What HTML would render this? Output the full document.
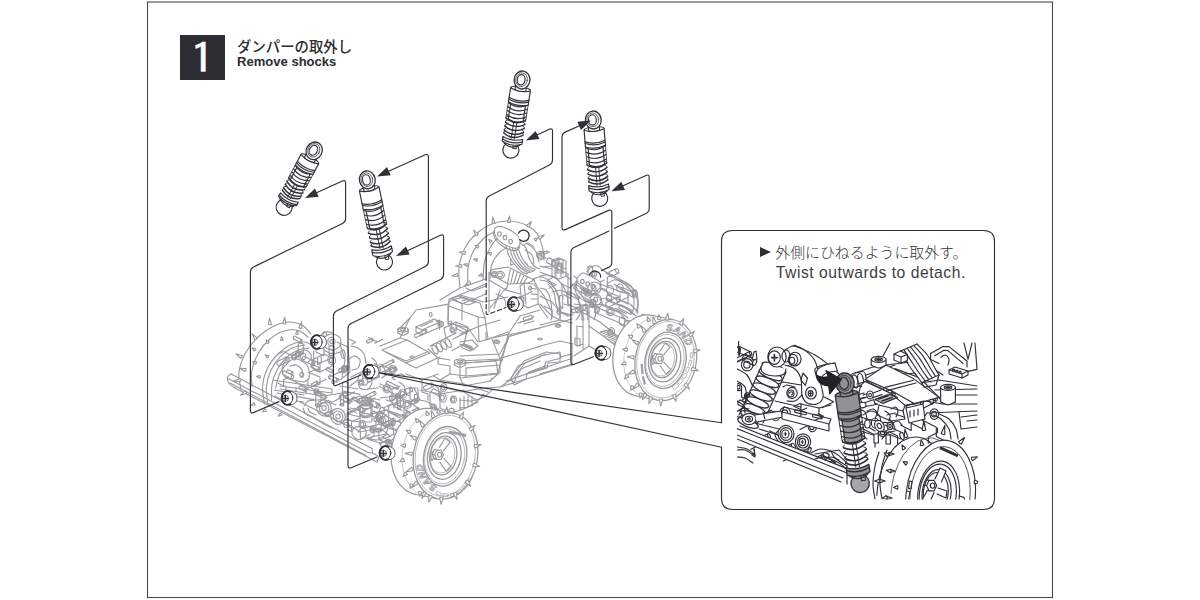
<!DOCTYPE html>
<html lang="ja"><head><meta charset="utf-8"><title>Remove shocks</title>
<style>
html,body{margin:0;padding:0;background:#fff;}
body{width:1200px;height:600px;position:relative;overflow:hidden;font-family:"Liberation Sans","Noto Sans CJK JP",sans-serif;color:#2c2c31;}
.num{position:absolute;left:180px;top:35px;width:45px;height:44.5px;background:#2d2d33;color:#fff;font-size:41px;line-height:44px;text-align:center;}
.num span{position:absolute;left:0;width:45px;top:0.7px;font-family:"IPAGothic","Liberation Sans",sans-serif;font-size:42.5px;-webkit-text-stroke:0.3px #fff;transform:scaleX(1.22);transform-origin:50% 50%;}
.t1{position:absolute;left:237px;top:37.3px;font-size:14.4px;line-height:20px;font-weight:500;white-space:nowrap;color:#2c2c31;}
.t2{position:absolute;left:237px;top:52.6px;font-size:13.05px;line-height:18px;font-weight:700;white-space:nowrap;color:#2c2c31;}
.n1{position:absolute;left:775.3px;top:242.2px;font-size:14.9px;line-height:22px;font-weight:300;white-space:nowrap;color:#333338;}
.n2{position:absolute;left:775.8px;top:262.1px;font-size:15.7px;line-height:22px;font-weight:400;white-space:nowrap;color:#3d3d43;letter-spacing:0.52px;}
.tri{position:absolute;left:760px;top:246.5px;width:0;height:0;border-left:11.5px solid #2c2c31;border-top:5px solid transparent;border-bottom:5px solid transparent;}
</style></head>
<body>
<svg width="1200" height="600" viewBox="0 0 1200 600" style="position:absolute;left:0;top:0">
<rect x="147.5" y="2" width="905" height="595.5" fill="#fff" stroke="#4a4a52" stroke-width="1.1"/>
<g id="car" fill="none" stroke="#98989d" stroke-width="1.1" stroke-linecap="round" stroke-linejoin="round">
<path d="M312.9,386.1 L317.9,383.6"/>
<path d="M311.8,383.8 L316.7,381.3"/>
<ellipse cx="317.3" cy="382.5" rx="0.7" ry="1.3" transform="rotate(-26.5 317.3 382.5)"/>
<path d="M312.9,386.1 C312.9,386.1 312.9,386.1 312.8,386.1 C312.7,386.1 312.7,386.1 312.6,386.1 C312.5,386.1 312.6,386.1 312.5,386.0 C312.3,386.0 312.4,386.0 312.3,385.9 C312.2,385.8 312.2,385.9 312.1,385.8 C312.0,385.6 312.0,385.7 311.9,385.6 C311.8,385.4 311.9,385.5 311.8,385.4 C311.7,385.2 311.7,385.3 311.7,385.1 C311.6,385.0 311.6,385.0 311.6,384.9 C311.5,384.7 311.6,384.8 311.5,384.6 C311.5,384.5 311.5,384.5 311.5,384.4 C311.5,384.2 311.5,384.3 311.5,384.2 C311.6,384.1 311.5,384.1 311.6,384.0 C311.6,383.9 311.6,384.0 311.7,383.9 C311.8,383.8 311.8,383.8 311.8,383.8"/>
<path d="M346.9,414.7 L355.9,410.2 L347.7,414.2"/>
<ellipse cx="386.6" cy="388.7" rx="3.5" ry="4.1" transform="rotate(-15 386.6 388.7)"/>
<ellipse cx="386.3" cy="388.7" rx="1.9" ry="2.3"/>
<path d="M386.0,375.2 L396.8,369.8"/>
<path d="M384.8,372.7 L395.5,367.3"/>
<ellipse cx="396.1" cy="368.6" rx="0.8" ry="1.4" transform="rotate(-26.5 396.1 368.6)"/>
<path d="M386.0,375.2 C385.9,375.2 386.0,375.2 385.8,375.2 C385.7,375.2 385.8,375.2 385.7,375.2 C385.5,375.2 385.6,375.2 385.5,375.2 C385.3,375.1 385.4,375.1 385.3,375.0 C385.1,374.9 385.2,375.0 385.1,374.9 C385.0,374.7 385.0,374.8 384.9,374.7 C384.8,374.5 384.8,374.6 384.7,374.4 C384.6,374.2 384.7,374.3 384.6,374.2 C384.5,374.0 384.6,374.1 384.5,373.9 C384.5,373.7 384.5,373.8 384.5,373.6 C384.4,373.4 384.4,373.5 384.4,373.4 C384.4,373.2 384.4,373.3 384.5,373.1 C384.5,373.0 384.5,373.1 384.5,372.9 C384.6,372.8 384.5,372.9 384.6,372.8 C384.7,372.7 384.7,372.7 384.8,372.7"/>
<path d="M298.3,344.8 L298.3,353.2"/>
<path d="M303.3,344.8 L303.3,353.2"/>
<ellipse cx="300.8" cy="353.2" rx="1.4" ry="2.5" transform="rotate(90.0 300.8 353.2)"/>
<path d="M298.3,344.8 C298.3,344.7 298.2,344.7 298.3,344.5 C298.4,344.3 298.3,344.4 298.5,344.2 C298.6,344.1 298.5,344.2 298.7,344.0 C298.9,343.8 298.8,343.9 299.1,343.8 C299.3,343.6 299.2,343.7 299.5,343.6 C299.8,343.5 299.7,343.5 300.0,343.5 C300.3,343.4 300.2,343.4 300.5,343.4 C300.8,343.4 300.7,343.4 301.0,343.4 C301.4,343.4 301.2,343.4 301.5,343.5 C301.9,343.5 301.7,343.5 302.0,343.6 C302.3,343.7 302.2,343.6 302.4,343.8 C302.7,343.9 302.6,343.8 302.8,344.0 C303.0,344.2 302.9,344.1 303.0,344.2 C303.2,344.4 303.1,344.3 303.2,344.5 C303.3,344.7 303.2,344.7 303.3,344.8"/>
<ellipse cx="361.2" cy="382.6" rx="2.6" ry="2.7"/>
<ellipse cx="360.9" cy="382.6" rx="1.5" ry="1.5"/>
<path d="M374.6,343.3 L382.6,339.3 L377.5,341.9 L368.7,337.4"/>
<ellipse cx="392.5" cy="369.5" rx="3.7" ry="3.9"/>
<ellipse cx="392.2" cy="369.5" rx="2.1" ry="2.1"/>
<path d="M361.3,411.9 L372.1,406.5"/>
<path d="M358.9,407.0 L369.7,401.6"/>
<ellipse cx="370.9" cy="404.0" rx="1.5" ry="2.7" transform="rotate(-26.5 370.9 404.0)"/>
<path d="M361.3,411.9 C361.2,411.9 361.2,411.9 361.0,411.9 C360.8,412.0 360.9,412.0 360.7,411.9 C360.4,411.9 360.5,411.9 360.3,411.8 C360.0,411.7 360.1,411.7 359.9,411.6 C359.6,411.4 359.8,411.5 359.5,411.2 C359.3,411.0 359.4,411.1 359.2,410.8 C359.0,410.5 359.1,410.7 358.9,410.4 C358.7,410.0 358.8,410.2 358.6,409.8 C358.5,409.5 358.5,409.7 358.4,409.3 C358.3,409.0 358.4,409.1 358.3,408.8 C358.3,408.5 358.3,408.6 358.3,408.3 C358.3,408.0 358.3,408.1 358.3,407.9 C358.4,407.6 358.3,407.7 358.4,407.5 C358.5,407.2 358.5,407.3 358.6,407.2 C358.8,407.0 358.8,407.1 358.9,407.0"/>
<ellipse cx="324.7" cy="334.2" rx="1.9" ry="2.3" transform="rotate(-15 324.7 334.2)"/>
<path d="M315.8,392.8 L315.8,405.4"/>
<path d="M320.9,392.8 L320.9,405.4"/>
<ellipse cx="318.3" cy="405.4" rx="1.5" ry="2.6" transform="rotate(90.0 318.3 405.4)"/>
<path d="M315.8,392.8 C315.8,392.7 315.7,392.7 315.8,392.5 C315.9,392.3 315.8,392.4 316.0,392.2 C316.1,392.0 316.0,392.1 316.2,391.9 C316.5,391.8 316.3,391.8 316.6,391.7 C316.9,391.6 316.7,391.6 317.0,391.5 C317.4,391.4 317.2,391.5 317.5,391.4 C317.9,391.3 317.7,391.4 318.1,391.3 C318.4,391.3 318.3,391.3 318.6,391.3 C319.0,391.4 318.8,391.3 319.1,391.4 C319.5,391.5 319.3,391.4 319.6,391.5 C320.0,391.6 319.8,391.6 320.1,391.7 C320.3,391.8 320.2,391.8 320.4,391.9 C320.7,392.1 320.6,392.0 320.7,392.2 C320.9,392.4 320.8,392.3 320.9,392.5 C321.0,392.7 320.9,392.7 320.9,392.8"/>
<path d="M334.1,374.8 L341.4,371.2 L335.4,374.2 L329.3,377.2"/>
<path d="M317.6,358.1 L317.6,364.4 L321.2,362.7 L321.2,356.5"/>
<path d="M407.1,393.8 L412.1,391.3"/>
<path d="M405.1,389.7 L410.0,387.3"/>
<ellipse cx="411.0" cy="389.3" rx="1.3" ry="2.3" transform="rotate(-26.5 411.0 389.3)"/>
<path d="M407.1,393.8 C407.1,393.8 407.1,393.8 406.9,393.9 C406.7,393.9 406.8,393.9 406.6,393.8 C406.4,393.8 406.5,393.8 406.3,393.7 C406.1,393.6 406.2,393.7 406.0,393.5 C405.8,393.4 405.9,393.5 405.7,393.3 C405.5,393.1 405.6,393.2 405.4,392.9 C405.2,392.7 405.3,392.8 405.1,392.5 C405.0,392.3 405.0,392.4 404.9,392.1 C404.8,391.8 404.8,392.0 404.7,391.7 C404.7,391.4 404.7,391.5 404.7,391.2 C404.6,391.0 404.6,391.1 404.6,390.8 C404.6,390.6 404.6,390.7 404.7,390.5 C404.7,390.2 404.7,390.3 404.8,390.1 C404.8,390.0 404.8,390.0 404.9,389.9 C405.0,389.8 405.1,389.8 405.1,389.7"/>
<path d="M342.5,383.3 L342.5,394.4"/>
<path d="M347.5,383.3 L347.5,394.4"/>
<ellipse cx="345.0" cy="394.4" rx="1.4" ry="2.5" transform="rotate(90.0 345.0 394.4)"/>
<path d="M342.5,383.3 C342.5,383.2 342.4,383.2 342.5,383.0 C342.6,382.8 342.5,382.9 342.7,382.7 C342.8,382.5 342.7,382.6 342.9,382.5 C343.1,382.3 343.0,382.4 343.3,382.2 C343.5,382.1 343.4,382.2 343.7,382.1 C344.0,382.0 343.9,382.0 344.2,382.0 C344.5,381.9 344.4,381.9 344.7,381.9 C345.1,381.9 344.9,381.9 345.2,381.9 C345.6,381.9 345.4,381.9 345.7,382.0 C346.1,382.0 345.9,382.0 346.2,382.1 C346.5,382.2 346.4,382.1 346.7,382.2 C346.9,382.4 346.8,382.3 347.0,382.5 C347.2,382.6 347.1,382.5 347.3,382.7 C347.4,382.9 347.4,382.8 347.4,383.0 C347.5,383.2 347.5,383.2 347.5,383.3"/>
<path d="M414.5,395.0 L414.5,401.9"/>
<path d="M417.6,395.0 L417.6,401.9"/>
<ellipse cx="416.0" cy="401.9" rx="0.9" ry="1.5" transform="rotate(90.0 416.0 401.9)"/>
<path d="M414.5,395.0 C414.5,395.0 414.5,395.0 414.6,394.8 C414.6,394.7 414.6,394.8 414.7,394.7 C414.7,394.6 414.7,394.6 414.8,394.5 C414.9,394.4 414.9,394.5 415.0,394.4 C415.2,394.3 415.1,394.3 415.3,394.3 C415.5,394.2 415.4,394.2 415.6,394.2 C415.8,394.2 415.7,394.2 415.9,394.2 C416.1,394.2 416.0,394.2 416.2,394.2 C416.4,394.2 416.3,394.2 416.5,394.2 C416.7,394.2 416.6,394.2 416.8,394.3 C417.0,394.3 416.9,394.3 417.1,394.4 C417.2,394.5 417.2,394.4 417.3,394.5 C417.4,394.6 417.4,394.6 417.4,394.7 C417.5,394.8 417.5,394.7 417.5,394.8 C417.6,395.0 417.6,395.0 417.6,395.0"/>
<path d="M340.5,394.8 L340.5,405.2"/>
<path d="M343.6,394.8 L343.6,405.2"/>
<ellipse cx="342.1" cy="405.2" rx="0.9" ry="1.6" transform="rotate(90.0 342.1 405.2)"/>
<path d="M340.5,394.8 C340.5,394.7 340.5,394.7 340.5,394.6 C340.6,394.5 340.5,394.5 340.6,394.4 C340.7,394.3 340.6,394.4 340.8,394.3 C340.9,394.2 340.8,394.2 341.0,394.1 C341.2,394.1 341.1,394.1 341.3,394.0 C341.5,394.0 341.4,394.0 341.6,394.0 C341.8,393.9 341.7,393.9 341.9,393.9 C342.1,393.9 342.0,393.9 342.2,393.9 C342.4,393.9 342.3,393.9 342.6,394.0 C342.8,394.0 342.7,394.0 342.9,394.0 C343.0,394.1 343.0,394.1 343.1,394.1 C343.3,394.2 343.2,394.2 343.3,394.3 C343.5,394.4 343.4,394.3 343.5,394.4 C343.6,394.5 343.6,394.5 343.6,394.6 C343.7,394.7 343.6,394.7 343.6,394.8"/>
<path d="M312.1,386.3 L317.3,383.6 L326.3,379.2"/>
<path d="M327.0,416.6 L332.4,413.9"/>
<path d="M325.5,413.6 L330.9,410.9"/>
<ellipse cx="331.6" cy="412.4" rx="0.9" ry="1.7" transform="rotate(-26.5 331.6 412.4)"/>
<path d="M327.0,416.6 C326.9,416.6 326.9,416.7 326.8,416.7 C326.7,416.7 326.7,416.7 326.6,416.7 C326.4,416.6 326.5,416.7 326.3,416.6 C326.2,416.5 326.3,416.5 326.1,416.4 C326.0,416.3 326.0,416.4 325.9,416.2 C325.7,416.1 325.8,416.2 325.7,416.0 C325.5,415.8 325.6,415.9 325.5,415.7 C325.4,415.5 325.4,415.6 325.3,415.4 C325.2,415.2 325.3,415.3 325.2,415.0 C325.1,414.8 325.2,414.9 325.1,414.7 C325.1,414.5 325.1,414.6 325.1,414.4 C325.1,414.2 325.1,414.3 325.1,414.1 C325.2,414.0 325.1,414.0 325.2,413.9 C325.3,413.8 325.2,413.8 325.3,413.7 C325.4,413.6 325.4,413.6 325.5,413.6"/>
<path d="M326.4,369.9 L332.0,372.7"/>
<path d="M327.6,367.7 L333.2,370.5"/>
<ellipse cx="332.6" cy="371.6" rx="0.7" ry="1.3" transform="rotate(26.5 332.6 371.6)"/>
<path d="M326.4,369.9 C326.4,369.9 326.4,369.9 326.3,369.8 C326.3,369.8 326.3,369.8 326.2,369.7 C326.2,369.6 326.2,369.7 326.2,369.5 C326.2,369.4 326.2,369.5 326.2,369.3 C326.2,369.2 326.2,369.2 326.2,369.1 C326.2,368.9 326.2,369.0 326.2,368.8 C326.3,368.7 326.2,368.8 326.3,368.6 C326.4,368.4 326.3,368.5 326.4,368.4 C326.5,368.2 326.5,368.3 326.6,368.2 C326.7,368.0 326.6,368.1 326.7,368.0 C326.8,367.9 326.8,367.9 326.9,367.8 C327.0,367.7 327.0,367.8 327.1,367.7 C327.2,367.6 327.1,367.7 327.3,367.6 C327.4,367.6 327.3,367.6 327.4,367.6 C327.5,367.6 327.5,367.7 327.6,367.7"/>
<ellipse cx="397.5" cy="396.3" rx="2.1" ry="2.7"/>
<ellipse cx="397.2" cy="396.3" rx="1.1" ry="1.5"/>
<path d="M298.6,351.9 L291.6,355.4 L283.4,351.4 L278.7,353.7"/>
<path d="M293.5,338.9 L300.5,342.4"/>
<path d="M294.9,336.2 L301.9,339.7"/>
<ellipse cx="301.2" cy="341.0" rx="0.9" ry="1.5" transform="rotate(26.5 301.2 341.0)"/>
<path d="M293.5,338.9 C293.4,338.9 293.4,338.9 293.3,338.8 C293.3,338.7 293.3,338.8 293.2,338.7 C293.2,338.5 293.2,338.6 293.2,338.4 C293.1,338.3 293.1,338.4 293.1,338.2 C293.1,338.0 293.1,338.1 293.2,337.9 C293.2,337.7 293.2,337.8 293.2,337.6 C293.3,337.4 293.3,337.5 293.3,337.3 C293.4,337.1 293.4,337.2 293.5,337.0 C293.6,336.8 293.5,336.9 293.7,336.8 C293.8,336.6 293.7,336.7 293.9,336.5 C294.0,336.4 293.9,336.4 294.1,336.3 C294.2,336.2 294.1,336.3 294.3,336.2 C294.4,336.1 294.4,336.2 294.5,336.1 C294.6,336.1 294.6,336.1 294.7,336.1 C294.8,336.1 294.8,336.1 294.9,336.2"/>
<path d="M355.8,412.6 L348.4,408.9 L356.6,413.0"/>
<ellipse cx="316.3" cy="391.5" rx="2.5" ry="2.7"/>
<ellipse cx="316.0" cy="391.5" rx="1.4" ry="1.5"/>
<path d="M288.9,377.2 L283.6,379.8 L283.6,385.9 L278.1,383.2"/>
<path d="M302.3,360.2 L312.5,365.3"/>
<path d="M304.2,356.4 L314.4,361.5"/>
<ellipse cx="313.5" cy="363.4" rx="1.2" ry="2.1" transform="rotate(26.5 313.5 363.4)"/>
<path d="M302.3,360.2 C302.3,360.1 302.3,360.2 302.1,360.0 C302.0,359.9 302.1,360.0 302.0,359.8 C301.9,359.6 301.9,359.7 301.9,359.5 C301.9,359.3 301.9,359.4 301.9,359.2 C301.9,358.9 301.9,359.1 301.9,358.8 C301.9,358.5 301.9,358.7 302.0,358.4 C302.1,358.1 302.0,358.3 302.1,358.0 C302.3,357.7 302.2,357.8 302.3,357.6 C302.5,357.3 302.4,357.5 302.6,357.2 C302.7,357.0 302.7,357.1 302.8,356.9 C303.0,356.7 302.9,356.8 303.1,356.7 C303.3,356.5 303.2,356.6 303.4,356.5 C303.6,356.4 303.5,356.4 303.7,356.4 C303.9,356.3 303.8,356.4 304.0,356.4 C304.2,356.4 304.1,356.4 304.2,356.4"/>
<path d="M282.6,374.3 L291.5,378.8"/>
<path d="M284.3,370.9 L293.2,375.4"/>
<ellipse cx="292.4" cy="377.1" rx="1.1" ry="1.9" transform="rotate(26.5 292.4 377.1)"/>
<path d="M282.6,374.3 C282.6,374.3 282.5,374.3 282.4,374.2 C282.3,374.1 282.4,374.1 282.3,374.0 C282.2,373.8 282.3,373.9 282.2,373.7 C282.2,373.5 282.2,373.6 282.2,373.4 C282.2,373.2 282.2,373.3 282.2,373.1 C282.3,372.8 282.2,372.9 282.3,372.7 C282.4,372.4 282.3,372.6 282.4,372.3 C282.5,372.1 282.5,372.2 282.6,372.0 C282.7,371.7 282.7,371.8 282.8,371.6 C283.0,371.4 282.9,371.5 283.1,371.4 C283.2,371.2 283.1,371.3 283.3,371.1 C283.5,371.0 283.4,371.1 283.6,371.0 C283.8,370.9 283.7,370.9 283.8,370.9 C284.0,370.8 283.9,370.8 284.1,370.9 C284.2,370.9 284.2,370.9 284.3,370.9"/>
<path d="M328.8,378.1 L336.6,382.0"/>
<path d="M330.2,375.2 L338.0,379.1"/>
<ellipse cx="337.3" cy="380.5" rx="0.9" ry="1.6" transform="rotate(26.5 337.3 380.5)"/>
<path d="M328.8,378.1 C328.7,378.1 328.7,378.1 328.6,378.0 C328.5,377.9 328.6,377.9 328.5,377.8 C328.5,377.7 328.5,377.8 328.4,377.6 C328.4,377.4 328.4,377.5 328.4,377.3 C328.4,377.1 328.4,377.2 328.4,377.0 C328.5,376.8 328.5,376.9 328.5,376.7 C328.6,376.5 328.5,376.6 328.6,376.4 C328.7,376.2 328.7,376.3 328.8,376.1 C328.9,375.9 328.8,376.0 329.0,375.8 C329.1,375.6 329.0,375.7 329.2,375.6 C329.3,375.4 329.2,375.5 329.4,375.4 C329.5,375.3 329.5,375.3 329.6,375.2 C329.8,375.2 329.7,375.2 329.8,375.2 C330.0,375.1 329.9,375.1 330.0,375.2 C330.2,375.2 330.2,375.2 330.2,375.2"/>
<path d="M352.7,399.5 L358.1,402.2"/>
<path d="M353.8,397.2 L359.2,399.9"/>
<ellipse cx="358.6" cy="401.0" rx="0.7" ry="1.3" transform="rotate(26.5 358.6 401.0)"/>
<path d="M352.7,399.5 C352.6,399.5 352.6,399.5 352.5,399.4 C352.5,399.3 352.5,399.4 352.5,399.3 C352.4,399.2 352.4,399.2 352.4,399.1 C352.4,399.0 352.4,399.0 352.4,398.9 C352.4,398.7 352.4,398.8 352.4,398.6 C352.4,398.5 352.4,398.6 352.4,398.4 C352.5,398.2 352.5,398.3 352.5,398.1 C352.6,398.0 352.6,398.1 352.7,397.9 C352.7,397.7 352.7,397.8 352.8,397.7 C352.9,397.5 352.9,397.6 353.0,397.5 C353.1,397.4 353.0,397.4 353.1,397.3 C353.3,397.2 353.2,397.3 353.3,397.2 C353.4,397.2 353.4,397.2 353.5,397.2 C353.6,397.1 353.6,397.1 353.7,397.1 C353.8,397.2 353.8,397.2 353.8,397.2"/>
<path d="M359.2,418.3 L351.5,422.1 L351.5,431.6 L347.4,429.6"/>
<path d="M371.5,415.6 L376.2,418.0"/>
<path d="M373.7,411.3 L378.4,413.7"/>
<ellipse cx="377.3" cy="415.8" rx="1.3" ry="2.4" transform="rotate(26.5 377.3 415.8)"/>
<path d="M371.5,415.6 C371.4,415.5 371.4,415.6 371.3,415.4 C371.2,415.3 371.2,415.4 371.1,415.2 C371.0,415.0 371.1,415.1 371.0,414.8 C371.0,414.6 371.0,414.7 371.0,414.4 C371.0,414.2 371.0,414.3 371.0,414.0 C371.0,413.7 371.0,413.9 371.1,413.5 C371.2,413.2 371.1,413.4 371.3,413.1 C371.4,412.8 371.3,412.9 371.5,412.6 C371.7,412.3 371.6,412.5 371.8,412.2 C372.0,412.0 371.9,412.1 372.1,411.9 C372.3,411.6 372.2,411.7 372.4,411.6 C372.6,411.4 372.5,411.5 372.7,411.4 C373.0,411.3 372.9,411.3 373.1,411.2 C373.3,411.2 373.2,411.2 373.4,411.2 C373.6,411.2 373.6,411.3 373.7,411.3"/>
<path d="M352.6,401.8 L343.6,397.3 L348.4,395.0 L354.5,391.9"/>
<path d="M375.9,421.2 L375.9,430.6"/>
<path d="M381.3,421.2 L381.3,430.6"/>
<ellipse cx="378.6" cy="430.6" rx="1.5" ry="2.7" transform="rotate(90.0 378.6 430.6)"/>
<path d="M375.9,421.2 C375.9,421.1 375.9,421.1 376.0,420.9 C376.1,420.7 376.0,420.8 376.1,420.6 C376.3,420.4 376.2,420.5 376.4,420.3 C376.7,420.1 376.5,420.2 376.8,420.1 C377.1,419.9 376.9,420.0 377.3,419.9 C377.6,419.8 377.4,419.8 377.8,419.8 C378.1,419.7 378.0,419.7 378.3,419.7 C378.7,419.7 378.5,419.7 378.9,419.7 C379.3,419.7 379.1,419.7 379.4,419.8 C379.8,419.8 379.6,419.8 380.0,419.9 C380.3,420.0 380.1,419.9 380.4,420.1 C380.7,420.2 380.6,420.1 380.8,420.3 C381.0,420.5 380.9,420.4 381.1,420.6 C381.2,420.8 381.2,420.7 381.3,420.9 C381.3,421.1 381.3,421.1 381.3,421.2"/>
<path d="M333.8,350.9 L329.6,348.9 L333.8,351.0"/>
<path d="M350.7,377.3 L355.6,374.8 L362.7,371.3 L362.7,381.2"/>
<path d="M356.2,408.6 L347.1,413.2 L347.1,418.7 L351.4,420.8"/>
<ellipse cx="331.7" cy="360.1" rx="3.8" ry="4.5" transform="rotate(-15 331.7 360.1)"/>
<ellipse cx="331.4" cy="360.1" rx="2.1" ry="2.5"/>
<path d="M310.4,387.5 L319.3,392.0 L325.5,395.1"/>
<path d="M313.7,350.9 L313.7,361.1 L313.7,366.0"/>
<ellipse cx="379.3" cy="417.0" rx="3.3" ry="4.1" transform="rotate(10 379.3 417.0)"/>
<ellipse cx="379.0" cy="417.0" rx="1.8" ry="2.3"/>
<ellipse cx="298.3" cy="354.0" rx="2.8" ry="3.0" transform="rotate(10 298.3 354.0)"/>
<ellipse cx="298.0" cy="354.0" rx="1.5" ry="1.7"/>
<path d="M279.5,365.9 L288.5,361.3"/>
<path d="M277.4,361.6 L286.4,357.1"/>
<ellipse cx="287.5" cy="359.2" rx="1.3" ry="2.4" transform="rotate(-26.5 287.5 359.2)"/>
<path d="M279.5,365.9 C279.4,365.9 279.4,365.9 279.2,365.9 C279.0,366.0 279.1,366.0 278.9,365.9 C278.7,365.9 278.8,365.9 278.6,365.8 C278.3,365.7 278.5,365.8 278.2,365.6 C278.0,365.4 278.1,365.5 277.9,365.3 C277.7,365.1 277.8,365.2 277.6,365.0 C277.4,364.7 277.5,364.8 277.3,364.6 C277.2,364.3 277.2,364.4 277.1,364.1 C277.0,363.8 277.0,364.0 277.0,363.7 C276.9,363.4 276.9,363.5 276.9,363.2 C276.8,362.9 276.8,363.1 276.8,362.8 C276.8,362.5 276.8,362.6 276.9,362.4 C276.9,362.2 276.9,362.3 277.0,362.1 C277.1,361.9 277.0,361.9 277.1,361.8 C277.3,361.7 277.3,361.7 277.4,361.6"/>
<path d="M349.6,339.3 L355.7,342.3 L351.9,344.2"/>
<path d="M388.6,406.3 L388.6,415.4 L388.6,423.9 L385.1,425.7"/>
<path d="M322.6,403.2 L328.3,400.4 L332.1,402.3 L341.4,397.6"/>
<path d="M367.9,398.3 L375.6,394.5"/>
<path d="M366.4,395.3 L374.1,391.4"/>
<ellipse cx="374.9" cy="392.9" rx="1.0" ry="1.7" transform="rotate(-26.5 374.9 392.9)"/>
<path d="M367.9,398.3 C367.8,398.3 367.8,398.4 367.7,398.4 C367.6,398.4 367.6,398.4 367.5,398.4 C367.3,398.3 367.4,398.4 367.2,398.3 C367.1,398.2 367.2,398.3 367.0,398.1 C366.8,398.0 366.9,398.1 366.8,397.9 C366.6,397.8 366.7,397.9 366.5,397.7 C366.4,397.5 366.5,397.6 366.4,397.4 C366.2,397.2 366.3,397.3 366.2,397.1 C366.1,396.8 366.1,396.9 366.1,396.7 C366.0,396.5 366.0,396.6 366.0,396.4 C366.0,396.2 366.0,396.3 366.0,396.1 C366.0,395.9 366.0,396.0 366.0,395.8 C366.0,395.6 366.0,395.7 366.1,395.6 C366.1,395.4 366.1,395.5 366.2,395.4 C366.3,395.3 366.3,395.3 366.4,395.3"/>
<path d="M380.8,406.0 L375.8,403.5 L379.3,405.2 L374.5,407.6"/>
<path d="M383.6,367.3 L393.8,362.2"/>
<path d="M382.4,364.9 L392.6,359.8"/>
<ellipse cx="393.2" cy="361.0" rx="0.8" ry="1.4" transform="rotate(-26.5 393.2 361.0)"/>
<path d="M383.6,367.3 C383.5,367.3 383.5,367.3 383.4,367.4 C383.3,367.4 383.4,367.4 383.3,367.3 C383.1,367.3 383.2,367.3 383.1,367.3 C382.9,367.2 383.0,367.3 382.9,367.2 C382.7,367.1 382.8,367.1 382.7,367.0 C382.6,366.9 382.6,366.9 382.5,366.8 C382.4,366.6 382.5,366.7 382.4,366.6 C382.3,366.4 382.3,366.5 382.2,366.3 C382.2,366.1 382.2,366.2 382.1,366.0 C382.1,365.9 382.1,366.0 382.1,365.8 C382.1,365.6 382.1,365.7 382.1,365.5 C382.1,365.4 382.1,365.5 382.1,365.3 C382.1,365.2 382.1,365.2 382.1,365.1 C382.2,365.0 382.2,365.1 382.2,365.0 C382.3,364.9 382.3,364.9 382.4,364.9"/>
<path d="M299.3,388.5 L305.1,391.4"/>
<path d="M300.7,385.7 L306.5,388.6"/>
<ellipse cx="305.8" cy="390.0" rx="0.9" ry="1.5" transform="rotate(26.5 305.8 390.0)"/>
<path d="M299.3,388.5 C299.3,388.4 299.3,388.5 299.2,388.4 C299.1,388.3 299.1,388.3 299.1,388.2 C299.0,388.1 299.0,388.1 299.0,388.0 C299.0,387.8 299.0,387.9 299.0,387.7 C299.0,387.6 299.0,387.7 299.0,387.5 C299.0,387.3 299.0,387.4 299.1,387.2 C299.1,387.0 299.1,387.1 299.2,386.9 C299.3,386.7 299.2,386.8 299.3,386.6 C299.4,386.4 299.4,386.5 299.5,386.3 C299.6,386.2 299.6,386.2 299.7,386.1 C299.8,386.0 299.8,386.0 299.9,385.9 C300.0,385.8 300.0,385.8 300.1,385.8 C300.3,385.7 300.2,385.7 300.3,385.7 C300.5,385.7 300.4,385.7 300.5,385.7 C300.7,385.7 300.6,385.7 300.7,385.7"/>
<path d="M339.5,404.8 L348.4,400.4 L355.3,396.9 L349.7,399.7"/>
<path d="M340.9,372.6 L347.6,369.3"/>
<path d="M339.2,369.0 L345.8,365.7"/>
<ellipse cx="346.7" cy="367.5" rx="1.1" ry="2.0" transform="rotate(-26.5 346.7 367.5)"/>
<path d="M340.9,372.6 C340.9,372.6 340.9,372.7 340.7,372.7 C340.5,372.7 340.6,372.7 340.4,372.7 C340.3,372.6 340.4,372.7 340.2,372.6 C340.0,372.5 340.1,372.5 339.9,372.4 C339.7,372.3 339.8,372.3 339.6,372.2 C339.4,372.0 339.5,372.1 339.4,371.9 C339.2,371.6 339.3,371.8 339.1,371.5 C339.0,371.3 339.1,371.4 339.0,371.1 C338.8,370.9 338.9,371.0 338.8,370.8 C338.7,370.5 338.8,370.6 338.7,370.4 C338.7,370.1 338.7,370.2 338.7,370.0 C338.7,369.8 338.7,369.9 338.7,369.7 C338.8,369.5 338.7,369.6 338.8,369.4 C338.9,369.2 338.9,369.3 339.0,369.2 C339.1,369.1 339.1,369.1 339.2,369.0"/>
<path d="M355.0,400.9 L363.0,396.9 L371.3,401.1"/>
<path d="M369.0,382.1 L379.1,377.0"/>
<path d="M367.6,379.2 L377.7,374.2"/>
<ellipse cx="378.4" cy="375.6" rx="0.9" ry="1.6" transform="rotate(-26.5 378.4 375.6)"/>
<path d="M369.0,382.1 C369.0,382.1 369.0,382.1 368.8,382.1 C368.7,382.1 368.8,382.1 368.6,382.1 C368.5,382.1 368.6,382.1 368.4,382.0 C368.3,381.9 368.3,382.0 368.2,381.9 C368.0,381.8 368.1,381.8 368.0,381.7 C367.8,381.5 367.9,381.6 367.8,381.5 C367.7,381.3 367.7,381.4 367.6,381.2 C367.5,381.0 367.5,381.1 367.5,380.9 C367.4,380.7 367.4,380.8 367.3,380.6 C367.3,380.4 367.3,380.5 367.3,380.3 C367.3,380.1 367.3,380.2 367.3,380.0 C367.3,379.8 367.3,379.9 367.3,379.7 C367.3,379.6 367.3,379.7 367.4,379.5 C367.4,379.4 367.4,379.5 367.5,379.4 C367.5,379.3 367.6,379.3 367.6,379.2"/>
<path d="M316.0,394.7 L325.0,399.1"/>
<path d="M317.2,392.3 L326.1,396.7"/>
<ellipse cx="325.6" cy="397.9" rx="0.7" ry="1.3" transform="rotate(26.5 325.6 397.9)"/>
<path d="M316.0,394.7 C316.0,394.6 316.0,394.6 315.9,394.6 C315.8,394.5 315.9,394.5 315.8,394.4 C315.8,394.3 315.8,394.4 315.8,394.2 C315.7,394.1 315.7,394.2 315.7,394.0 C315.7,393.9 315.7,393.9 315.7,393.8 C315.8,393.6 315.8,393.7 315.8,393.5 C315.9,393.3 315.8,393.4 315.9,393.3 C316.0,393.1 315.9,393.2 316.0,393.0 C316.1,392.9 316.1,392.9 316.2,392.8 C316.3,392.6 316.2,392.7 316.3,392.6 C316.5,392.5 316.4,392.5 316.5,392.4 C316.6,392.3 316.6,392.4 316.7,392.3 C316.8,392.3 316.8,392.3 316.9,392.2 C317.0,392.2 317.0,392.2 317.1,392.2 C317.2,392.2 317.2,392.3 317.2,392.3"/>
<path d="M329.1,346.9 L329.1,354.5"/>
<path d="M334.2,346.9 L334.2,354.5"/>
<ellipse cx="331.7" cy="354.5" rx="1.4" ry="2.6" transform="rotate(90.0 331.7 354.5)"/>
<path d="M329.1,346.9 C329.1,346.9 329.1,346.8 329.2,346.7 C329.2,346.5 329.2,346.5 329.3,346.4 C329.5,346.2 329.4,346.3 329.6,346.1 C329.8,345.9 329.7,346.0 330.0,345.9 C330.2,345.8 330.1,345.8 330.4,345.7 C330.7,345.6 330.5,345.6 330.9,345.6 C331.2,345.5 331.0,345.5 331.4,345.5 C331.8,345.5 331.6,345.5 331.9,345.5 C332.3,345.5 332.1,345.5 332.5,345.6 C332.8,345.6 332.6,345.6 332.9,345.7 C333.3,345.8 333.1,345.8 333.4,345.9 C333.6,346.0 333.5,345.9 333.7,346.1 C333.9,346.3 333.9,346.2 334.0,346.4 C334.1,346.5 334.1,346.5 334.2,346.7 C334.2,346.8 334.2,346.9 334.2,346.9"/>
<path d="M400.4,389.7 L400.4,400.2 L392.6,404.1 L387.4,406.7"/>
<path d="M390.6,369.3 L382.8,365.4 L378.2,367.7 L374.9,366.0"/>
<path d="M339.5,398.5 L349.2,403.3"/>
<path d="M341.1,395.3 L350.8,400.1"/>
<ellipse cx="350.0" cy="401.7" rx="1.0" ry="1.8" transform="rotate(26.5 350.0 401.7)"/>
<path d="M339.5,398.5 C339.5,398.4 339.5,398.5 339.4,398.4 C339.3,398.3 339.3,398.3 339.2,398.2 C339.2,398.0 339.2,398.1 339.2,397.9 C339.1,397.7 339.1,397.8 339.1,397.6 C339.1,397.4 339.1,397.5 339.1,397.3 C339.2,397.1 339.2,397.2 339.2,396.9 C339.3,396.7 339.3,396.8 339.4,396.6 C339.4,396.4 339.4,396.5 339.5,396.3 C339.6,396.0 339.6,396.1 339.7,396.0 C339.9,395.8 339.8,395.8 340.0,395.7 C340.1,395.5 340.0,395.6 340.2,395.5 C340.4,395.3 340.3,395.4 340.5,395.3 C340.6,395.2 340.5,395.3 340.7,395.2 C340.9,395.2 340.8,395.2 340.9,395.2 C341.1,395.2 341.1,395.2 341.1,395.3"/>
<ellipse cx="333.2" cy="382.1" rx="1.4" ry="1.8" transform="rotate(10 333.2 382.1)"/>
<ellipse cx="301.8" cy="374.8" rx="1.9" ry="2.3"/>
<path d="M368.0,343.1 L372.9,340.7"/>
<path d="M366.8,340.8 L371.7,338.4"/>
<ellipse cx="372.3" cy="339.5" rx="0.7" ry="1.3" transform="rotate(-26.5 372.3 339.5)"/>
<path d="M368.0,343.1 C367.9,343.1 367.9,343.2 367.8,343.2 C367.7,343.2 367.8,343.2 367.7,343.2 C367.6,343.1 367.6,343.2 367.5,343.1 C367.4,343.0 367.4,343.1 367.3,343.0 C367.2,342.9 367.3,343.0 367.1,342.8 C367.0,342.7 367.1,342.8 367.0,342.6 C366.9,342.5 366.9,342.6 366.8,342.4 C366.7,342.3 366.8,342.3 366.7,342.2 C366.6,342.0 366.7,342.1 366.6,341.9 C366.6,341.8 366.6,341.8 366.6,341.7 C366.5,341.5 366.6,341.6 366.6,341.5 C366.6,341.3 366.5,341.4 366.6,341.2 C366.6,341.1 366.6,341.2 366.6,341.1 C366.7,341.0 366.7,341.0 366.7,340.9 C366.8,340.8 366.8,340.9 366.8,340.8"/>
<ellipse cx="343.8" cy="369.2" rx="2.4" ry="2.9"/>
<ellipse cx="343.5" cy="369.2" rx="1.3" ry="1.6"/>
<path d="M311.2,366.8 L318.2,370.3"/>
<path d="M312.5,364.2 L319.5,367.7"/>
<ellipse cx="318.8" cy="369.0" rx="0.8" ry="1.4" transform="rotate(26.5 318.8 369.0)"/>
<path d="M311.2,366.8 C311.2,366.8 311.2,366.8 311.1,366.7 C311.0,366.6 311.0,366.7 311.0,366.5 C310.9,366.4 310.9,366.5 310.9,366.3 C310.9,366.2 310.9,366.3 310.9,366.1 C310.9,365.9 310.9,366.0 310.9,365.8 C310.9,365.7 310.9,365.7 311.0,365.6 C311.0,365.4 311.0,365.5 311.1,365.3 C311.2,365.1 311.1,365.2 311.2,365.0 C311.3,364.8 311.3,364.9 311.4,364.8 C311.5,364.6 311.4,364.7 311.6,364.6 C311.7,364.4 311.6,364.5 311.8,364.4 C311.9,364.3 311.8,364.3 312.0,364.3 C312.1,364.2 312.0,364.2 312.2,364.2 C312.3,364.2 312.2,364.2 312.3,364.2 C312.5,364.2 312.4,364.2 312.5,364.2"/>
<ellipse cx="346.2" cy="424.9" rx="2.4" ry="2.5" transform="rotate(-15 346.2 424.9)"/>
<path d="M286.9,372.2 L291.6,374.6"/>
<path d="M288.1,369.7 L292.8,372.1"/>
<ellipse cx="292.2" cy="373.3" rx="0.8" ry="1.4" transform="rotate(26.5 292.2 373.3)"/>
<path d="M286.9,372.2 C286.8,372.2 286.8,372.2 286.7,372.1 C286.7,372.0 286.7,372.1 286.6,372.0 C286.6,371.9 286.6,371.9 286.6,371.8 C286.5,371.6 286.6,371.7 286.6,371.6 C286.6,371.4 286.5,371.5 286.6,371.3 C286.6,371.1 286.6,371.2 286.6,371.0 C286.7,370.9 286.7,370.9 286.7,370.8 C286.8,370.6 286.8,370.7 286.9,370.5 C287.0,370.3 286.9,370.4 287.0,370.3 C287.1,370.1 287.1,370.2 287.2,370.1 C287.3,369.9 287.3,370.0 287.4,369.9 C287.5,369.8 287.4,369.8 287.6,369.8 C287.7,369.7 287.6,369.7 287.8,369.7 C287.9,369.7 287.8,369.7 287.9,369.7 C288.1,369.7 288.0,369.7 288.1,369.7"/>
<ellipse cx="392.9" cy="423.2" rx="2.3" ry="2.6" transform="rotate(10 392.9 423.2)"/>
<ellipse cx="392.6" cy="423.2" rx="1.3" ry="1.4"/>
<ellipse cx="294.1" cy="357.1" rx="2.3" ry="2.9" transform="rotate(-15 294.1 357.1)"/>
<ellipse cx="293.8" cy="357.1" rx="1.3" ry="1.6"/>
<path d="M389.4,368.7 L380.1,373.3 L380.1,366.6 L374.6,363.8"/>
<path d="M395.3,379.7 L391.9,378.0 L400.5,373.7 L405.8,376.4"/>
<path d="M422.9,433.4 L431.6,429.0 L440.8,424.5 L434.5,421.3"/>
<ellipse cx="375.8" cy="419.2" rx="1.9" ry="2.4" transform="rotate(10 375.8 419.2)"/>
<ellipse cx="362.3" cy="424.5" rx="3.2" ry="4.2"/>
<ellipse cx="362.0" cy="424.5" rx="1.7" ry="2.3"/>
<path d="M365.8,402.6 L375.3,397.9 L370.1,400.4 L370.1,395.7"/>
<path d="M382.7,423.4 L377.2,420.7 L377.2,411.9 L370.8,415.1"/>
<path d="M367.0,398.4 L373.8,401.8 L368.2,399.0 L364.7,397.3"/>
<path d="M369.6,434.4 L360.4,439.0 L360.4,434.7 L360.4,430.9"/>
<path d="M386.0,427.3 L391.2,424.7"/>
<path d="M384.0,423.2 L389.1,420.7"/>
<ellipse cx="390.2" cy="422.7" rx="1.3" ry="2.3" transform="rotate(-26.5 390.2 422.7)"/>
<path d="M386.0,427.3 C386.0,427.3 386.0,427.4 385.8,427.4 C385.6,427.4 385.7,427.4 385.5,427.4 C385.3,427.3 385.4,427.3 385.2,427.2 C385.0,427.1 385.1,427.2 384.9,427.0 C384.6,426.9 384.7,427.0 384.5,426.8 C384.3,426.6 384.4,426.7 384.3,426.4 C384.1,426.2 384.2,426.3 384.0,426.0 C383.8,425.8 383.9,425.9 383.8,425.6 C383.7,425.3 383.7,425.5 383.6,425.2 C383.5,424.9 383.6,425.0 383.5,424.7 C383.5,424.4 383.5,424.6 383.5,424.3 C383.5,424.1 383.5,424.2 383.5,423.9 C383.6,423.7 383.5,423.8 383.6,423.6 C383.7,423.4 383.7,423.5 383.8,423.4 C383.9,423.2 383.9,423.3 384.0,423.2"/>
<path d="M383.3,437.5 L391.2,441.5 L387.9,439.8 L379.2,444.1"/>
<path d="M402.0,410.4 L393.2,406.0 L400.6,402.3"/>
<ellipse cx="443.5" cy="387.7" rx="3.2" ry="4.1" transform="rotate(10 443.5 387.7)"/>
<ellipse cx="443.2" cy="387.7" rx="1.8" ry="2.2"/>
<path d="M366.2,417.6 L361.1,415.1 L365.0,417.0 L372.3,413.3"/>
<ellipse cx="407.4" cy="404.4" rx="3.8" ry="3.9" transform="rotate(10 407.4 404.4)"/>
<ellipse cx="407.1" cy="404.4" rx="2.1" ry="2.2"/>
<path d="M385.4,426.2 L395.0,421.4"/>
<path d="M384.0,423.2 L393.5,418.4"/>
<ellipse cx="394.2" cy="419.9" rx="0.9" ry="1.7" transform="rotate(-26.5 394.2 419.9)"/>
<path d="M385.4,426.2 C385.4,426.2 385.4,426.2 385.3,426.2 C385.1,426.2 385.2,426.2 385.0,426.2 C384.9,426.2 385.0,426.2 384.8,426.1 C384.7,426.1 384.7,426.1 384.6,426.0 C384.4,425.9 384.5,425.9 384.4,425.8 C384.2,425.6 384.3,425.7 384.1,425.5 C384.0,425.4 384.1,425.4 383.9,425.2 C383.8,425.0 383.9,425.1 383.8,424.9 C383.7,424.7 383.7,424.8 383.7,424.6 C383.6,424.4 383.6,424.5 383.6,424.3 C383.6,424.1 383.6,424.2 383.6,424.0 C383.6,423.8 383.6,423.9 383.6,423.7 C383.6,423.5 383.6,423.6 383.7,423.5 C383.7,423.3 383.7,423.4 383.8,423.3 C383.9,423.2 383.9,423.2 384.0,423.2"/>
<ellipse cx="405.7" cy="435.4" rx="3.9" ry="4.4" transform="rotate(-15 405.7 435.4)"/>
<ellipse cx="405.4" cy="435.4" rx="2.1" ry="2.4"/>
<path d="M449.0,409.8 L449.0,418.5"/>
<path d="M454.0,409.8 L454.0,418.5"/>
<ellipse cx="451.5" cy="418.5" rx="1.4" ry="2.5" transform="rotate(90.0 451.5 418.5)"/>
<path d="M449.0,409.8 C449.0,409.7 449.0,409.7 449.1,409.5 C449.1,409.3 449.1,409.4 449.2,409.2 C449.4,409.1 449.3,409.1 449.5,409.0 C449.7,408.8 449.6,408.9 449.8,408.8 C450.1,408.6 449.9,408.7 450.2,408.6 C450.5,408.5 450.4,408.5 450.7,408.5 C451.0,408.4 450.9,408.4 451.2,408.4 C451.6,408.4 451.4,408.4 451.7,408.4 C452.1,408.4 451.9,408.4 452.2,408.5 C452.6,408.5 452.4,408.5 452.7,408.6 C453.0,408.7 452.9,408.6 453.1,408.8 C453.4,408.9 453.3,408.8 453.5,409.0 C453.7,409.1 453.6,409.1 453.7,409.2 C453.9,409.4 453.8,409.3 453.9,409.5 C454.0,409.7 453.9,409.7 454.0,409.8"/>
<path d="M388.5,426.4 L378.8,431.2 L378.8,438.7 L387.5,434.3"/>
<path d="M432.0,392.6 L438.7,395.9"/>
<path d="M433.9,388.9 L440.5,392.2"/>
<ellipse cx="439.6" cy="394.0" rx="1.2" ry="2.1" transform="rotate(26.5 439.6 394.0)"/>
<path d="M432.0,392.6 C432.0,392.5 432.0,392.6 431.8,392.4 C431.7,392.3 431.8,392.4 431.7,392.2 C431.6,392.0 431.7,392.1 431.6,391.9 C431.6,391.7 431.6,391.8 431.6,391.6 C431.6,391.3 431.6,391.5 431.6,391.2 C431.6,390.9 431.6,391.1 431.7,390.8 C431.8,390.5 431.7,390.7 431.8,390.4 C432.0,390.1 431.9,390.3 432.0,390.0 C432.2,389.8 432.1,389.9 432.3,389.6 C432.4,389.4 432.4,389.5 432.5,389.3 C432.7,389.1 432.6,389.2 432.8,389.1 C433.0,388.9 432.9,389.0 433.1,388.9 C433.3,388.8 433.2,388.8 433.4,388.8 C433.6,388.8 433.5,388.8 433.7,388.8 C433.8,388.8 433.8,388.8 433.9,388.9"/>
<ellipse cx="453.4" cy="399.5" rx="3.0" ry="3.4"/>
<ellipse cx="453.1" cy="399.5" rx="1.7" ry="1.9"/>
<ellipse cx="372.4" cy="429.4" rx="2.4" ry="3.1"/>
<ellipse cx="372.1" cy="429.4" rx="1.3" ry="1.7"/>
<path d="M413.5,409.9 L418.3,407.6 L418.3,413.7"/>
<path d="M411.2,404.9 L417.8,401.7"/>
<path d="M409.7,401.7 L416.2,398.5"/>
<ellipse cx="417.0" cy="400.1" rx="1.0" ry="1.8" transform="rotate(-26.5 417.0 400.1)"/>
<path d="M411.2,404.9 C411.2,404.9 411.2,405.0 411.0,405.0 C410.9,405.0 411.0,405.0 410.8,405.0 C410.7,404.9 410.7,405.0 410.6,404.9 C410.4,404.8 410.5,404.9 410.3,404.7 C410.2,404.6 410.2,404.7 410.1,404.5 C409.9,404.4 410.0,404.4 409.9,404.3 C409.7,404.1 409.8,404.2 409.7,403.9 C409.5,403.7 409.6,403.8 409.5,403.6 C409.4,403.4 409.4,403.5 409.4,403.3 C409.3,403.0 409.3,403.1 409.3,402.9 C409.3,402.7 409.3,402.8 409.3,402.6 C409.3,402.4 409.3,402.5 409.3,402.3 C409.3,402.1 409.3,402.2 409.4,402.1 C409.4,401.9 409.4,402.0 409.5,401.9 C409.6,401.8 409.6,401.8 409.7,401.7"/>
<path d="M357.4,410.0 L362.9,412.8"/>
<path d="M359.4,406.2 L364.8,408.9"/>
<ellipse cx="363.9" cy="410.8" rx="1.2" ry="2.1" transform="rotate(26.5 363.9 410.8)"/>
<path d="M357.4,410.0 C357.4,410.0 357.4,410.0 357.2,409.9 C357.1,409.7 357.2,409.8 357.1,409.6 C357.0,409.5 357.0,409.6 357.0,409.3 C357.0,409.1 357.0,409.2 357.0,409.0 C357.0,408.7 356.9,408.9 357.0,408.6 C357.0,408.3 357.0,408.5 357.1,408.2 C357.2,407.9 357.1,408.0 357.2,407.8 C357.3,407.5 357.3,407.6 357.4,407.4 C357.6,407.1 357.5,407.2 357.7,407.0 C357.8,406.8 357.8,406.9 357.9,406.7 C358.1,406.5 358.0,406.6 358.2,406.4 C358.4,406.3 358.3,406.3 358.5,406.2 C358.7,406.1 358.6,406.2 358.8,406.1 C359.0,406.1 358.9,406.1 359.1,406.1 C359.3,406.1 359.3,406.2 359.4,406.2"/>
<ellipse cx="388.9" cy="444.3" rx="2.9" ry="3.3"/>
<ellipse cx="388.6" cy="444.3" rx="1.6" ry="1.8"/>
<path d="M382.6,446.9 L390.6,442.9"/>
<path d="M380.8,443.3 L388.8,439.3"/>
<ellipse cx="389.7" cy="441.1" rx="1.1" ry="2.0" transform="rotate(-26.5 389.7 441.1)"/>
<path d="M382.6,446.9 C382.5,446.9 382.5,446.9 382.3,446.9 C382.2,446.9 382.3,447.0 382.1,446.9 C381.9,446.9 382.0,446.9 381.8,446.8 C381.6,446.7 381.7,446.8 381.5,446.6 C381.3,446.5 381.4,446.6 381.3,446.4 C381.1,446.2 381.2,446.3 381.0,446.1 C380.9,445.9 380.9,446.0 380.8,445.8 C380.7,445.5 380.7,445.7 380.6,445.4 C380.5,445.2 380.5,445.3 380.5,445.0 C380.4,444.8 380.4,444.9 380.4,444.6 C380.3,444.4 380.4,444.5 380.4,444.3 C380.4,444.1 380.3,444.2 380.4,444.0 C380.4,443.8 380.4,443.9 380.5,443.7 C380.5,443.5 380.5,443.6 380.6,443.5 C380.7,443.4 380.7,443.4 380.8,443.3"/>
<ellipse cx="433.5" cy="407.6" rx="3.1" ry="3.4" transform="rotate(10 433.5 407.6)"/>
<ellipse cx="433.2" cy="407.6" rx="1.7" ry="1.9"/>
<path d="M407.0,409.9 L407.0,417.0 L402.3,414.6 L410.9,418.9"/>
<ellipse cx="442.7" cy="397.7" rx="3.5" ry="4.5" transform="rotate(-15 442.7 397.7)"/>
<ellipse cx="442.4" cy="397.7" rx="1.9" ry="2.5"/>
<path d="M359.2,403.1 L363.9,400.8"/>
<path d="M357.6,399.9 L362.3,397.6"/>
<ellipse cx="363.1" cy="399.2" rx="1.0" ry="1.8" transform="rotate(-26.5 363.1 399.2)"/>
<path d="M359.2,403.1 C359.1,403.1 359.2,403.1 359.0,403.1 C358.9,403.2 358.9,403.2 358.8,403.1 C358.6,403.1 358.7,403.1 358.5,403.0 C358.4,403.0 358.5,403.0 358.3,402.9 C358.1,402.8 358.2,402.8 358.0,402.7 C357.9,402.5 358.0,402.6 357.8,402.4 C357.7,402.2 357.7,402.3 357.6,402.1 C357.5,401.9 357.6,402.0 357.5,401.8 C357.4,401.5 357.4,401.7 357.3,401.4 C357.3,401.2 357.3,401.3 357.3,401.1 C357.2,400.9 357.2,401.0 357.2,400.8 C357.2,400.6 357.2,400.6 357.3,400.5 C357.3,400.3 357.3,400.4 357.3,400.2 C357.4,400.1 357.4,400.1 357.5,400.0 C357.6,399.9 357.6,399.9 357.6,399.9"/>
<path d="M414.2,429.4 L405.8,425.2 L396.9,420.8"/>
<path d="M450.2,414.3 L455.3,416.8 L448.3,413.3 L444.2,411.3"/>
<path d="M402.0,423.3 L409.5,419.5"/>
<path d="M400.1,419.6 L407.6,415.8"/>
<ellipse cx="408.6" cy="417.7" rx="1.2" ry="2.1" transform="rotate(-26.5 408.6 417.7)"/>
<path d="M402.0,423.3 C401.9,423.3 401.9,423.3 401.7,423.3 C401.6,423.3 401.6,423.3 401.5,423.3 C401.3,423.3 401.4,423.3 401.2,423.2 C401.0,423.1 401.1,423.2 400.9,423.0 C400.7,422.9 400.8,423.0 400.6,422.8 C400.4,422.6 400.5,422.7 400.3,422.5 C400.2,422.2 400.3,422.4 400.1,422.1 C400.0,421.9 400.0,422.0 399.9,421.7 C399.8,421.5 399.9,421.6 399.8,421.3 C399.7,421.1 399.7,421.2 399.7,420.9 C399.6,420.7 399.7,420.8 399.7,420.6 C399.7,420.3 399.6,420.4 399.7,420.2 C399.7,420.0 399.7,420.1 399.8,419.9 C399.9,419.8 399.8,419.8 399.9,419.7 C400.0,419.6 400.1,419.6 400.1,419.6"/>
<path d="M378.4,386.1 L388.2,391.0 L392.2,393.0 L399.5,396.6"/>
<ellipse cx="433.2" cy="411.5" rx="2.9" ry="4.0"/>
<ellipse cx="432.9" cy="411.5" rx="1.6" ry="2.2"/>
<path d="M386.4,383.8 L397.1,389.2"/>
<path d="M387.7,381.2 L398.4,386.6"/>
<ellipse cx="397.8" cy="387.9" rx="0.8" ry="1.5" transform="rotate(26.5 397.8 387.9)"/>
<path d="M386.4,383.8 C386.3,383.8 386.3,383.8 386.2,383.7 C386.2,383.6 386.2,383.7 386.1,383.5 C386.1,383.4 386.1,383.5 386.1,383.3 C386.0,383.2 386.0,383.3 386.0,383.1 C386.0,382.9 386.0,383.0 386.1,382.8 C386.1,382.7 386.1,382.7 386.1,382.6 C386.2,382.4 386.1,382.5 386.2,382.3 C386.3,382.1 386.3,382.2 386.4,382.0 C386.5,381.8 386.4,381.9 386.5,381.8 C386.6,381.6 386.6,381.7 386.7,381.5 C386.8,381.4 386.8,381.5 386.9,381.4 C387.0,381.3 387.0,381.3 387.1,381.2 C387.2,381.2 387.2,381.2 387.3,381.2 C387.4,381.1 387.4,381.1 387.5,381.2 C387.6,381.2 387.6,381.2 387.7,381.2"/>
<path d="M397.5,396.5 L397.5,408.8"/>
<path d="M400.4,396.5 L400.4,408.8"/>
<ellipse cx="399.0" cy="408.8" rx="0.8" ry="1.5" transform="rotate(90.0 399.0 408.8)"/>
<path d="M397.5,396.5 C397.5,396.4 397.5,396.4 397.5,396.3 C397.6,396.2 397.5,396.3 397.6,396.2 C397.7,396.1 397.7,396.1 397.8,396.0 C397.9,395.9 397.8,396.0 398.0,395.9 C398.1,395.8 398.1,395.8 398.2,395.8 C398.4,395.7 398.3,395.7 398.5,395.7 C398.7,395.7 398.6,395.7 398.8,395.7 C399.0,395.7 398.9,395.7 399.1,395.7 C399.3,395.7 399.2,395.7 399.4,395.7 C399.6,395.7 399.5,395.7 399.7,395.8 C399.9,395.8 399.8,395.8 399.9,395.9 C400.1,396.0 400.0,395.9 400.1,396.0 C400.3,396.1 400.2,396.1 400.3,396.2 C400.4,396.3 400.3,396.2 400.4,396.3 C400.4,396.4 400.4,396.4 400.4,396.5"/>
<ellipse cx="381.8" cy="420.9" rx="3.8" ry="4.3"/>
<ellipse cx="381.5" cy="420.9" rx="2.1" ry="2.4"/>
<path d="M377.9,419.7 L386.8,415.3 L382.5,413.1 L378.8,411.3"/>
<path d="M425.7,390.1 L433.0,386.5"/>
<path d="M424.0,386.6 L431.3,383.0"/>
<ellipse cx="432.1" cy="384.8" rx="1.1" ry="1.9" transform="rotate(-26.5 432.1 384.8)"/>
<path d="M425.7,390.1 C425.7,390.1 425.7,390.2 425.5,390.2 C425.4,390.2 425.4,390.2 425.3,390.2 C425.1,390.1 425.2,390.2 425.0,390.1 C424.8,390.0 424.9,390.0 424.7,389.9 C424.5,389.8 424.6,389.8 424.5,389.7 C424.3,389.5 424.4,389.6 424.2,389.4 C424.0,389.2 424.1,389.3 424.0,389.0 C423.8,388.8 423.9,388.9 423.8,388.7 C423.7,388.4 423.7,388.6 423.7,388.3 C423.6,388.1 423.6,388.2 423.6,387.9 C423.5,387.7 423.6,387.8 423.6,387.6 C423.6,387.3 423.5,387.5 423.6,387.3 C423.6,387.1 423.6,387.1 423.7,387.0 C423.7,386.8 423.7,386.9 423.8,386.8 C423.9,386.7 423.9,386.7 424.0,386.6"/>
<path d="M411.3,419.0 L415.0,417.2 L419.1,419.2 L413.6,422.0"/>
<path d="M369.7,404.3 L376.9,407.9"/>
<path d="M371.8,400.1 L379.0,403.7"/>
<ellipse cx="378.0" cy="405.8" rx="1.3" ry="2.3" transform="rotate(26.5 378.0 405.8)"/>
<path d="M369.7,404.3 C369.7,404.2 369.7,404.3 369.5,404.1 C369.4,404.0 369.4,404.1 369.4,403.9 C369.3,403.7 369.3,403.8 369.3,403.6 C369.2,403.3 369.2,403.4 369.2,403.2 C369.2,402.9 369.2,403.0 369.3,402.7 C369.3,402.5 369.3,402.6 369.4,402.3 C369.4,402.0 369.4,402.1 369.5,401.8 C369.6,401.5 369.6,401.7 369.7,401.4 C369.9,401.1 369.8,401.3 370.0,401.0 C370.2,400.8 370.1,400.9 370.3,400.7 C370.5,400.4 370.4,400.5 370.6,400.4 C370.8,400.2 370.7,400.3 370.9,400.2 C371.2,400.1 371.1,400.1 371.3,400.1 C371.5,400.0 371.4,400.0 371.6,400.0 C371.8,400.1 371.7,400.1 371.8,400.1"/>
<path d="M389.8,401.3 L396.9,397.8 L405.0,393.7 L408.8,395.6"/>
<path d="M400.4,439.1 L411.4,433.5"/>
<path d="M398.8,436.0 L409.9,430.4"/>
<ellipse cx="410.7" cy="432.0" rx="1.0" ry="1.7" transform="rotate(-26.5 410.7 432.0)"/>
<path d="M400.4,439.1 C400.3,439.1 400.3,439.1 400.2,439.1 C400.0,439.1 400.1,439.1 399.9,439.1 C399.8,439.1 399.9,439.1 399.7,439.0 C399.5,438.9 399.6,439.0 399.5,438.9 C399.3,438.7 399.4,438.8 399.2,438.7 C399.1,438.5 399.1,438.6 399.0,438.4 C398.9,438.2 398.9,438.3 398.8,438.1 C398.7,437.9 398.7,438.0 398.6,437.8 C398.5,437.6 398.6,437.7 398.5,437.4 C398.5,437.2 398.5,437.3 398.4,437.1 C398.4,436.9 398.4,437.0 398.4,436.8 C398.4,436.6 398.4,436.7 398.4,436.5 C398.5,436.3 398.5,436.4 398.5,436.3 C398.6,436.1 398.6,436.2 398.6,436.1 C398.7,436.0 398.8,436.0 398.8,436.0"/>
<ellipse cx="402.7" cy="393.8" rx="4.0" ry="4.1" transform="rotate(10 402.7 393.8)"/>
<ellipse cx="402.4" cy="393.8" rx="2.2" ry="2.3"/>
<ellipse cx="364.0" cy="398.3" rx="2.0" ry="2.6" transform="rotate(10 364.0 398.3)"/>
<ellipse cx="593.8" cy="274.1" rx="2.6" ry="3.2"/>
<ellipse cx="593.5" cy="274.1" rx="1.4" ry="1.8"/>
<path d="M567.6,294.1 L577.9,299.3"/>
<path d="M568.8,291.6 L579.2,296.8"/>
<ellipse cx="578.6" cy="298.0" rx="0.8" ry="1.4" transform="rotate(26.5 578.6 298.0)"/>
<path d="M567.6,294.1 C567.5,294.1 567.5,294.1 567.4,294.0 C567.3,294.0 567.4,294.0 567.3,293.9 C567.3,293.8 567.3,293.8 567.3,293.7 C567.2,293.5 567.2,293.6 567.2,293.5 C567.2,293.3 567.2,293.4 567.3,293.2 C567.3,293.0 567.3,293.1 567.3,292.9 C567.4,292.7 567.3,292.8 567.4,292.6 C567.5,292.5 567.4,292.5 567.5,292.4 C567.6,292.2 567.6,292.3 567.7,292.1 C567.8,292.0 567.8,292.0 567.9,291.9 C568.0,291.8 568.0,291.8 568.1,291.7 C568.2,291.6 568.2,291.7 568.3,291.6 C568.4,291.5 568.4,291.6 568.5,291.5 C568.6,291.5 568.6,291.5 568.7,291.5 C568.8,291.5 568.8,291.6 568.8,291.6"/>
<path d="M582.1,312.4 L586.9,314.8"/>
<path d="M583.5,309.6 L588.3,312.0"/>
<ellipse cx="587.6" cy="313.4" rx="0.9" ry="1.6" transform="rotate(26.5 587.6 313.4)"/>
<path d="M582.1,312.4 C582.0,312.4 582.0,312.4 581.9,312.3 C581.8,312.2 581.9,312.3 581.8,312.1 C581.8,312.0 581.8,312.1 581.7,311.9 C581.7,311.7 581.7,311.8 581.7,311.6 C581.7,311.5 581.7,311.6 581.7,311.4 C581.8,311.2 581.8,311.3 581.8,311.1 C581.9,310.8 581.8,310.9 581.9,310.7 C582.0,310.5 582.0,310.6 582.1,310.4 C582.2,310.3 582.1,310.3 582.2,310.2 C582.4,310.0 582.3,310.1 582.5,309.9 C582.6,309.8 582.5,309.9 582.7,309.7 C582.8,309.6 582.7,309.7 582.9,309.6 C583.0,309.5 583.0,309.6 583.1,309.5 C583.2,309.5 583.2,309.5 583.3,309.5 C583.4,309.5 583.4,309.6 583.5,309.6"/>
<path d="M611.6,276.5 L618.3,273.2"/>
<path d="M609.4,272.1 L616.1,268.8"/>
<ellipse cx="617.2" cy="271.0" rx="1.4" ry="2.5" transform="rotate(-26.5 617.2 271.0)"/>
<path d="M611.6,276.5 C611.5,276.6 611.6,276.6 611.4,276.6 C611.2,276.6 611.3,276.6 611.0,276.6 C610.8,276.5 610.9,276.6 610.7,276.5 C610.5,276.4 610.6,276.4 610.3,276.3 C610.1,276.1 610.2,276.2 610.0,276.0 C609.8,275.7 609.9,275.9 609.7,275.6 C609.5,275.3 609.6,275.5 609.4,275.2 C609.2,274.9 609.3,275.0 609.2,274.7 C609.0,274.4 609.1,274.5 609.0,274.2 C608.9,273.9 609.0,274.1 608.9,273.7 C608.9,273.4 608.9,273.6 608.9,273.3 C608.9,273.0 608.9,273.1 608.9,272.9 C609.0,272.6 608.9,272.8 609.0,272.5 C609.1,272.3 609.1,272.4 609.2,272.3 C609.3,272.1 609.3,272.2 609.4,272.1"/>
<path d="M577.7,312.8 L587.3,308.0"/>
<path d="M575.8,309.0 L585.4,304.3"/>
<ellipse cx="586.3" cy="306.1" rx="1.2" ry="2.1" transform="rotate(-26.5 586.3 306.1)"/>
<path d="M577.7,312.8 C577.6,312.8 577.6,312.8 577.5,312.9 C577.3,312.9 577.4,312.9 577.2,312.8 C577.0,312.8 577.1,312.8 576.9,312.7 C576.7,312.6 576.8,312.7 576.6,312.6 C576.4,312.4 576.5,312.5 576.3,312.3 C576.1,312.1 576.2,312.2 576.0,312.0 C575.9,311.8 576.0,311.9 575.8,311.6 C575.7,311.4 575.7,311.5 575.6,311.2 C575.5,311.0 575.5,311.1 575.5,310.8 C575.4,310.6 575.4,310.7 575.4,310.4 C575.3,310.2 575.3,310.3 575.3,310.0 C575.4,309.8 575.3,309.9 575.4,309.7 C575.4,309.5 575.4,309.6 575.5,309.4 C575.6,309.2 575.5,309.3 575.6,309.2 C575.7,309.1 575.8,309.1 575.8,309.0"/>
<path d="M619.2,301.7 L613.7,304.5 L621.5,300.6 L628.5,297.1"/>
<ellipse cx="611.2" cy="332.0" rx="3.3" ry="4.4" transform="rotate(10 611.2 332.0)"/>
<ellipse cx="610.9" cy="332.0" rx="1.8" ry="2.4"/>
<path d="M574.3,288.8 L584.2,293.7"/>
<path d="M576.2,285.0 L586.1,290.0"/>
<ellipse cx="585.2" cy="291.8" rx="1.2" ry="2.1" transform="rotate(26.5 585.2 291.8)"/>
<path d="M574.3,288.8 C574.2,288.7 574.2,288.7 574.1,288.6 C574.0,288.5 574.0,288.6 573.9,288.4 C573.8,288.2 573.9,288.3 573.8,288.1 C573.8,287.9 573.8,288.0 573.8,287.8 C573.8,287.5 573.8,287.6 573.8,287.4 C573.9,287.1 573.8,287.2 573.9,287.0 C574.0,286.7 573.9,286.8 574.1,286.6 C574.2,286.3 574.1,286.4 574.3,286.2 C574.4,285.9 574.3,286.0 574.5,285.8 C574.7,285.6 574.6,285.7 574.8,285.5 C575.0,285.3 574.9,285.4 575.1,285.2 C575.3,285.1 575.2,285.1 575.4,285.0 C575.5,285.0 575.5,285.0 575.6,284.9 C575.8,284.9 575.7,284.9 575.9,284.9 C576.1,284.9 576.1,285.0 576.2,285.0"/>
<path d="M619.3,308.5 L630.5,314.1"/>
<path d="M621.1,305.0 L632.3,310.6"/>
<ellipse cx="631.4" cy="312.4" rx="1.1" ry="2.0" transform="rotate(26.5 631.4 312.4)"/>
<path d="M619.3,308.5 C619.2,308.5 619.2,308.5 619.1,308.4 C619.0,308.2 619.1,308.3 619.0,308.2 C618.9,308.0 618.9,308.1 618.9,307.9 C618.9,307.7 618.9,307.8 618.9,307.6 C618.9,307.3 618.9,307.4 618.9,307.2 C618.9,307.0 618.9,307.1 619.0,306.8 C619.0,306.6 619.0,306.7 619.1,306.4 C619.2,306.2 619.2,306.3 619.3,306.1 C619.4,305.8 619.4,306.0 619.5,305.7 C619.7,305.5 619.6,305.6 619.8,305.4 C619.9,305.3 619.9,305.3 620.0,305.2 C620.2,305.1 620.1,305.1 620.3,305.0 C620.5,305.0 620.4,305.0 620.6,304.9 C620.7,304.9 620.7,304.9 620.8,304.9 C621.0,304.9 621.0,305.0 621.1,305.0"/>
<path d="M626.3,313.8 L623.0,312.1 L618.8,310.0 L615.3,308.3"/>
<ellipse cx="587.3" cy="293.3" rx="2.6" ry="3.0"/>
<ellipse cx="587.0" cy="293.3" rx="1.4" ry="1.7"/>
<path d="M589.9,295.2 L594.3,293.1 L597.5,291.5"/>
<path d="M588.0,267.3 L588.0,280.0"/>
<path d="M592.5,267.3 L592.5,280.0"/>
<ellipse cx="590.2" cy="280.0" rx="1.3" ry="2.3" transform="rotate(90.0 590.2 280.0)"/>
<path d="M588.0,267.3 C588.0,267.3 587.9,267.2 588.0,267.1 C588.1,266.9 588.0,267.0 588.2,266.8 C588.3,266.7 588.2,266.7 588.4,266.6 C588.6,266.4 588.5,266.5 588.7,266.4 C589.0,266.3 588.8,266.3 589.1,266.2 C589.4,266.1 589.2,266.2 589.5,266.1 C589.8,266.1 589.7,266.1 590.0,266.1 C590.3,266.1 590.2,266.1 590.5,266.1 C590.8,266.1 590.7,266.1 591.0,266.1 C591.3,266.2 591.1,266.1 591.4,266.2 C591.7,266.3 591.5,266.3 591.8,266.4 C592.0,266.5 591.9,266.4 592.1,266.6 C592.3,266.7 592.2,266.7 592.3,266.8 C592.5,267.0 592.4,266.9 592.5,267.1 C592.5,267.2 592.5,267.3 592.5,267.3"/>
<ellipse cx="610.3" cy="311.4" rx="3.9" ry="4.2" transform="rotate(-15 610.3 311.4)"/>
<ellipse cx="610.0" cy="311.4" rx="2.2" ry="2.3"/>
<ellipse cx="634.6" cy="293.4" rx="2.5" ry="3.5"/>
<ellipse cx="634.3" cy="293.4" rx="1.4" ry="1.9"/>
<path d="M573.7,313.0 L578.9,310.4"/>
<path d="M572.1,309.7 L577.3,307.2"/>
<ellipse cx="578.1" cy="308.8" rx="1.0" ry="1.8" transform="rotate(-26.5 578.1 308.8)"/>
<path d="M573.7,313.0 C573.6,313.0 573.6,313.0 573.4,313.0 C573.3,313.0 573.4,313.0 573.2,313.0 C573.1,313.0 573.1,313.0 573.0,312.9 C572.8,312.8 572.9,312.9 572.7,312.8 C572.6,312.6 572.6,312.7 572.5,312.5 C572.3,312.4 572.4,312.5 572.2,312.3 C572.1,312.1 572.2,312.2 572.0,312.0 C571.9,311.8 572.0,311.9 571.9,311.6 C571.8,311.4 571.8,311.5 571.7,311.3 C571.7,311.1 571.7,311.2 571.7,310.9 C571.6,310.7 571.6,310.8 571.6,310.6 C571.6,310.4 571.6,310.5 571.7,310.3 C571.7,310.1 571.7,310.2 571.8,310.1 C571.8,309.9 571.8,310.0 571.9,309.9 C572.0,309.8 572.0,309.8 572.1,309.7"/>
<ellipse cx="587.7" cy="289.8" rx="4.1" ry="4.1" transform="rotate(10 587.7 289.8)"/>
<ellipse cx="587.4" cy="289.8" rx="2.2" ry="2.3"/>
<path d="M607.3,286.9 L607.3,277.2 L611.8,275.0 L607.7,277.0"/>
<path d="M637.4,320.9 L644.5,317.4"/>
<path d="M636.0,318.0 L643.0,314.5"/>
<ellipse cx="643.8" cy="315.9" rx="0.9" ry="1.6" transform="rotate(-26.5 643.8 315.9)"/>
<path d="M637.4,320.9 C637.4,320.9 637.4,320.9 637.3,320.9 C637.1,320.9 637.2,320.9 637.1,320.9 C636.9,320.9 637.0,320.9 636.8,320.8 C636.7,320.8 636.8,320.8 636.6,320.7 C636.5,320.6 636.5,320.6 636.4,320.5 C636.3,320.4 636.3,320.4 636.2,320.3 C636.1,320.1 636.1,320.2 636.0,320.0 C635.9,319.8 636.0,319.9 635.9,319.7 C635.8,319.5 635.8,319.6 635.8,319.4 C635.7,319.2 635.7,319.3 635.7,319.1 C635.7,318.9 635.7,319.0 635.7,318.8 C635.7,318.6 635.7,318.7 635.7,318.5 C635.7,318.4 635.7,318.4 635.8,318.3 C635.8,318.2 635.8,318.2 635.9,318.1 C636.0,318.0 636.0,318.1 636.0,318.0"/>
<path d="M608.6,307.0 L618.8,301.9"/>
<path d="M606.3,302.6 L616.6,297.4"/>
<ellipse cx="617.7" cy="299.7" rx="1.4" ry="2.5" transform="rotate(-26.5 617.7 299.7)"/>
<path d="M608.6,307.0 C608.5,307.0 608.5,307.0 608.3,307.1 C608.1,307.1 608.2,307.1 608.0,307.0 C607.7,307.0 607.8,307.0 607.6,306.9 C607.4,306.8 607.5,306.9 607.3,306.7 C607.0,306.5 607.1,306.6 606.9,306.4 C606.7,306.2 606.8,306.3 606.6,306.0 C606.4,305.8 606.5,305.9 606.3,305.6 C606.2,305.3 606.2,305.5 606.1,305.2 C606.0,304.8 606.0,305.0 605.9,304.7 C605.8,304.4 605.9,304.5 605.8,304.2 C605.8,303.9 605.8,304.0 605.8,303.7 C605.8,303.5 605.8,303.6 605.8,303.3 C605.9,303.1 605.8,303.2 605.9,303.0 C606.0,302.8 606.0,302.9 606.1,302.7 C606.2,302.6 606.3,302.6 606.3,302.6"/>
<path d="M527.0,274.1 L527.0,263.9 L520.2,260.5"/>
<path d="M520.3,297.2 L523.8,295.5 L532.1,291.4"/>
<ellipse cx="520.7" cy="300.2" rx="3.3" ry="3.6" transform="rotate(10 520.7 300.2)"/>
<ellipse cx="520.4" cy="300.2" rx="1.8" ry="2.0"/>
<path d="M559.6,296.3 L559.6,307.8"/>
<path d="M562.7,296.3 L562.7,307.8"/>
<ellipse cx="561.2" cy="307.8" rx="0.9" ry="1.5" transform="rotate(90.0 561.2 307.8)"/>
<path d="M559.6,296.3 C559.6,296.3 559.6,296.3 559.7,296.2 C559.7,296.0 559.7,296.1 559.8,296.0 C559.8,295.9 559.8,295.9 559.9,295.8 C560.0,295.7 560.0,295.8 560.1,295.7 C560.3,295.6 560.2,295.7 560.4,295.6 C560.6,295.5 560.5,295.6 560.7,295.5 C560.9,295.5 560.8,295.5 561.0,295.5 C561.2,295.5 561.1,295.5 561.3,295.5 C561.5,295.5 561.4,295.5 561.6,295.5 C561.8,295.6 561.8,295.5 561.9,295.6 C562.1,295.7 562.0,295.6 562.2,295.7 C562.4,295.8 562.3,295.7 562.4,295.8 C562.5,295.9 562.5,295.9 562.6,296.0 C562.7,296.1 562.6,296.0 562.7,296.2 C562.7,296.3 562.7,296.3 562.7,296.3"/>
<ellipse cx="494.4" cy="274.5" rx="2.9" ry="2.9"/>
<ellipse cx="494.1" cy="274.5" rx="1.6" ry="1.6"/>
<path d="M547.3,262.8 L552.7,265.5"/>
<path d="M549.6,258.1 L555.0,260.8"/>
<ellipse cx="553.9" cy="263.2" rx="1.5" ry="2.6" transform="rotate(26.5 553.9 263.2)"/>
<path d="M547.3,262.8 C547.2,262.8 547.2,262.8 547.0,262.6 C546.9,262.5 546.9,262.6 546.8,262.4 C546.7,262.1 546.8,262.3 546.7,262.0 C546.7,261.7 546.7,261.9 546.7,261.6 C546.7,261.3 546.7,261.4 546.7,261.1 C546.8,260.8 546.7,260.9 546.8,260.6 C546.9,260.2 546.9,260.4 547.0,260.1 C547.1,259.7 547.1,259.9 547.2,259.6 C547.4,259.3 547.3,259.4 547.5,259.1 C547.8,258.9 547.6,259.0 547.9,258.7 C548.1,258.5 548.0,258.6 548.2,258.4 C548.5,258.2 548.4,258.3 548.6,258.2 C548.9,258.1 548.7,258.1 549.0,258.1 C549.2,258.0 549.1,258.0 549.3,258.0 C549.5,258.1 549.5,258.1 549.6,258.1"/>
<ellipse cx="530.1" cy="288.1" rx="1.5" ry="2.0"/>
<path d="M546.1,258.2 L539.2,254.8 L547.3,250.7"/>
<path d="M549.0,288.3 L556.2,284.7 L547.4,280.3 L556.3,275.8"/>
<path d="M519.2,262.7 L510.7,258.5 L510.7,265.2 L516.9,262.2"/>
<ellipse cx="540.4" cy="255.2" rx="3.7" ry="3.9" transform="rotate(10 540.4 255.2)"/>
<ellipse cx="540.1" cy="255.2" rx="2.0" ry="2.1"/>
<ellipse cx="517.7" cy="302.4" rx="2.6" ry="3.5" transform="rotate(10 517.7 302.4)"/>
<ellipse cx="517.4" cy="302.4" rx="1.4" ry="2.0"/>
<path d="M416.1,337.5 L426.7,332.2"/>
<path d="M414.7,334.8 L425.3,329.5"/>
<ellipse cx="426.0" cy="330.9" rx="0.9" ry="1.5" transform="rotate(-26.5 426.0 330.9)"/>
<path d="M416.1,337.5 C416.0,337.5 416.0,337.6 415.9,337.6 C415.8,337.6 415.9,337.6 415.7,337.6 C415.6,337.5 415.7,337.6 415.5,337.5 C415.4,337.4 415.4,337.5 415.3,337.4 C415.2,337.3 415.2,337.3 415.1,337.2 C415.0,337.0 415.0,337.1 414.9,336.9 C414.8,336.8 414.8,336.9 414.7,336.7 C414.6,336.5 414.7,336.6 414.6,336.4 C414.5,336.2 414.5,336.3 414.5,336.1 C414.4,335.9 414.4,336.0 414.4,335.8 C414.4,335.6 414.4,335.7 414.4,335.5 C414.4,335.3 414.4,335.4 414.4,335.3 C414.4,335.1 414.4,335.2 414.5,335.1 C414.5,334.9 414.5,335.0 414.6,334.9 C414.7,334.8 414.7,334.8 414.7,334.8"/>
<ellipse cx="452.4" cy="330.0" rx="2.2" ry="3.0" transform="rotate(-15 452.4 330.0)"/>
<ellipse cx="452.1" cy="330.0" rx="1.2" ry="1.7"/>
<path d="M452.9,339.1 L460.2,335.5 L463.7,333.7 L470.9,330.1"/>
<ellipse cx="450.0" cy="323.7" rx="1.9" ry="2.4"/>
<path d="M439.6,329.2 L439.6,320.0 L436.3,321.7"/>
<ellipse cx="430.7" cy="314.5" rx="1.4" ry="2.0" transform="rotate(-15 430.7 314.5)"/>
<path d="M457.0,329.0 L465.5,333.3"/>
<path d="M458.4,326.2 L466.9,330.5"/>
<ellipse cx="466.2" cy="331.9" rx="0.9" ry="1.5" transform="rotate(26.5 466.2 331.9)"/>
<path d="M457.0,329.0 C456.9,329.0 456.9,329.0 456.8,328.9 C456.7,328.8 456.8,328.8 456.7,328.7 C456.7,328.6 456.7,328.7 456.6,328.5 C456.6,328.4 456.6,328.4 456.6,328.3 C456.6,328.1 456.6,328.2 456.6,328.0 C456.7,327.8 456.7,327.9 456.7,327.7 C456.8,327.5 456.7,327.6 456.8,327.4 C456.9,327.2 456.9,327.3 457.0,327.1 C457.1,326.9 457.0,327.0 457.1,326.8 C457.3,326.7 457.2,326.7 457.3,326.6 C457.5,326.4 457.4,326.5 457.5,326.4 C457.7,326.3 457.6,326.3 457.8,326.3 C457.9,326.2 457.8,326.2 458.0,326.2 C458.1,326.2 458.0,326.2 458.2,326.2 C458.3,326.2 458.3,326.2 458.4,326.2"/>
<ellipse cx="440.7" cy="324.1" rx="2.8" ry="2.9"/>
<ellipse cx="440.4" cy="324.1" rx="1.6" ry="1.6"/>
<path d="M231.0,374.0 L372.0,448.5"/>
<path d="M228.0,378.5 L368.0,452.5"/>
<path d="M230.0,383.0 L366.0,455.5"/>
<path d="M235.0,388.0 L377.0,462.0"/>
<path d="M231.0,374.0 C230.4,374.5 227.8,375.4 227.5,377.0 C227.2,378.6 227.8,381.7 229.0,383.5 C230.2,385.3 234.0,387.2 235.0,388.0"/>
<path d="M372.0,448.5 L372.5,453.0 L379.0,456.5 L377.0,462.0"/>
<path d="M368.0,452.5 L372.5,453.0"/>
<path d="M241.0,390.0 C240.7,387.0 238.3,378.0 239.0,372.0 C239.7,366.0 242.0,359.7 245.0,354.0 C248.0,348.3 252.5,342.5 257.0,338.0 C261.5,333.5 266.8,329.7 272.0,327.0 C277.2,324.3 283.0,322.3 288.0,322.0 C293.0,321.7 298.2,323.0 302.0,325.0 C305.8,327.0 309.5,332.5 311.0,334.0"/>
<path d="M252.0,387.0 C252.0,384.2 250.8,375.8 252.0,370.0 C253.2,364.2 256.0,357.2 259.0,352.0 C262.0,346.8 265.8,342.5 270.0,339.0 C274.2,335.5 279.3,332.4 284.0,331.0 C288.7,329.6 294.0,329.4 298.0,330.4 C302.0,331.4 306.3,335.9 308.0,337.0"/>
<path d="M264.4,404.0 C264.1,401.0 262.1,392.0 262.6,386.0 C263.1,380.0 265.0,373.3 267.6,368.0 C270.2,362.7 274.3,357.8 278.0,354.0 C281.7,350.2 285.7,347.0 290.0,345.0 C294.3,343.0 300.2,341.8 304.0,342.0 C307.8,342.2 311.5,345.3 313.0,346.0"/>
<path d="M271.6,400.0 C271.7,397.3 271.1,389.0 272.0,384.0 C272.9,379.0 274.7,374.3 277.0,370.0 C279.3,365.7 282.5,361.3 286.0,358.0 C289.5,354.7 294.2,351.6 298.0,350.0 C301.8,348.4 307.2,348.7 309.0,348.4"/>
<path d="M275.6,388.0 C276.3,385.5 277.8,377.4 280.0,373.0 C282.2,368.6 285.7,364.5 289.0,361.6 C292.3,358.7 298.2,356.6 300.0,355.6"/>
<path d="M268.0,405.0 C267.7,402.0 265.9,392.8 266.4,387.0 C266.9,381.2 268.6,375.1 271.0,370.0 C273.4,364.9 277.1,360.1 280.6,356.4 C284.1,352.7 287.9,349.9 292.0,348.0 C296.1,346.1 302.8,345.5 305.0,345.0"/>
<path d="M242.3,355.7 L236.1,353.8 L240.8,358.3 Q242.2,357.4 242.3,355.7" fill="#fff"/>
<path d="M246.0,368.6 L239.4,368.3 L245.2,371.4 Q246.3,370.2 246.0,368.6" fill="#fff"/>
<path d="M271.5,324.3 L269.4,318.0 L268.5,324.5 Q270.1,325.1 271.5,324.3" fill="#fff"/>
<path d="M285.9,323.7 L284.6,317.2 L282.9,323.5 Q284.4,324.3 285.9,323.7" fill="#fff"/>
<path d="M301.9,328.3 L301.5,321.7 L298.9,327.7 Q300.3,328.7 301.9,328.3" fill="#fff"/>
<path d="M239.7,378.5 L233.7,381.1 L240.3,381.5 Q240.7,379.9 239.7,378.5" fill="#fff"/>
<path d="M245.2,390.7 L240.5,395.2 L246.8,393.3 Q246.6,391.6 245.2,390.7" fill="#fff"/>
<path d="M257.2,338.1 L252.3,333.8 L254.8,339.9 Q256.4,339.6 257.2,338.1" fill="#fff"/>
<path d="M255.9,348.9 L252.2,347.7 L254.1,351.1 Q255.5,350.4 255.9,348.9" fill="#fff"/>
<path d="M269.2,342.3 L266.2,339.9 L266.8,343.7 Q268.4,343.6 269.2,342.3" fill="#fff"/>
<path d="M283.4,339.8 L281.4,336.5 L280.6,340.2 Q282.1,340.7 283.4,339.8" fill="#fff"/>
<path d="M256.5,361.7 L252.6,361.8 L255.5,364.3 Q256.7,363.2 256.5,361.7" fill="#fff"/>
<path d="M268.9,355.9 L265.2,354.7 L267.1,358.1 Q268.5,357.4 268.9,355.9" fill="#fff"/>
<path d="M260.2,375.6 L256.5,376.4 L259.8,378.4 Q260.7,377.1 260.2,375.6" fill="#fff"/>
<path d="M298.4,334.1 L297.3,330.4 L295.6,333.9 Q296.9,334.7 298.4,334.1" fill="#fff"/>
<path d="M253.9,402.7 L251.0,405.2 L254.9,405.3 Q255.1,403.8 253.9,402.7" fill="#fff"/>
<path d="M264.9,408.8 L262.5,411.8 L266.3,411.2 Q266.2,409.6 264.9,408.8" fill="#fff"/>
<path d="M280.1,412.9 L278.2,416.3 L281.9,415.1 Q281.5,413.6 280.1,412.9" fill="#fff"/>
<path d="M284.0,363.0 C284.8,362.2 286.3,358.5 289.0,358.0 C291.7,357.5 296.8,358.5 300.0,360.0 C303.2,361.5 306.5,364.0 308.0,367.0 C309.5,370.0 309.7,375.5 309.0,378.0 C308.3,380.5 304.8,381.3 304.0,382.0"/>
<path d="M284.0,363.0 C283.7,364.2 281.8,367.7 282.0,370.0 C282.2,372.3 283.3,375.3 285.0,377.0 C286.7,378.7 288.8,379.2 292.0,380.0 C295.2,380.8 302.0,381.7 304.0,382.0"/>
<path d="M292.0,380.0 L308.0,388.0 L320.0,384.0 L320.0,377.0 L309.0,372.4"/>
<path d="M308.0,388.0 L308.0,381.0"/>
<path d="M299.0,353.0 C299.8,352.5 302.2,350.0 304.0,350.0 C305.8,350.0 308.8,351.5 310.0,353.0 C311.2,354.5 311.5,357.3 311.0,359.0 C310.5,360.7 307.7,362.3 307.0,363.0"/>
<ellipse cx="303.0" cy="356.4" rx="2.8" ry="3.2"/>
<path d="M312.0,360.0 L324.0,354.0 L332.0,358.0 L332.0,366.0 L320.0,372.0 L312.0,368.0 Z"/>
<path d="M320.0,372.0 L320.0,363.0 L312.0,360.0"/>
<path d="M320.0,363.0 L332.0,358.0"/>
<path d="M324.0,338.0 C325.3,336.0 329.3,334.0 332.0,334.0 C334.7,334.0 338.7,336.0 340.0,338.0 C341.3,340.0 341.3,344.0 340.0,346.0 C338.7,348.0 334.7,350.0 332.0,350.0 C329.3,350.0 325.3,348.0 324.0,346.0 C322.7,344.0 322.7,340.0 324.0,338.0 Z"/>
<ellipse cx="331.4" cy="341.6" rx="3.6" ry="4.4"/>
<ellipse cx="331.4" cy="341.6" rx="1.6" ry="2.0"/>
<path d="M337.0,342.0 L348.0,347.0 L350.0,372.0 L340.0,380.0 L336.0,378.0"/>
<path d="M340.0,344.0 L345.0,360.0 L342.0,377.0"/>
<ellipse cx="343.0" cy="354.0" rx="2.0" ry="4.4" transform="rotate(-10 343.0 354.0)"/>
<ellipse cx="344.4" cy="369.0" rx="2.4" ry="3.6"/>
<path d="M321.0,335.0 C321.8,334.5 324.2,332.4 326.0,332.0 C327.8,331.6 331.0,332.3 332.0,332.4"/>
<path d="M273.0,380.0 L332.0,389.0 L332.0,393.0 L280.0,386.0"/>
<path d="M280.0,389.0 L324.0,396.0 L348.0,392.0"/>
<path d="M277.0,393.0 L314.0,399.6"/>
<path d="M286.0,386.0 L286.0,390.0"/>
<path d="M296.0,387.6 L296.0,391.6"/>
<path d="M306.0,389.0 L306.0,393.2"/>
<path d="M316.0,390.4 L316.0,394.4"/>
<ellipse cx="324.0" cy="408.0" rx="7.2" ry="8.0" transform="rotate(-20 324.0 408.0)"/>
<ellipse cx="324.0" cy="408.0" rx="4.8" ry="5.4" transform="rotate(-20 324.0 408.0)"/>
<ellipse cx="324.0" cy="408.0" rx="2.2" ry="2.4"/>
<ellipse cx="338.0" cy="416.4" rx="7.2" ry="8.0" transform="rotate(-20 338.0 416.4)"/>
<ellipse cx="338.0" cy="416.4" rx="4.8" ry="5.4" transform="rotate(-20 338.0 416.4)"/>
<ellipse cx="338.0" cy="416.4" rx="2.2" ry="2.4"/>
<path d="M304.0,406.0 C304.7,405.2 306.0,402.0 308.0,401.0 C310.0,400.0 313.3,400.2 316.0,400.0 C318.7,399.8 322.7,399.7 324.0,399.6"/>
<path d="M303.0,408.0 C303.5,409.0 304.2,412.3 306.0,414.0 C307.8,415.7 311.0,416.3 314.0,418.0 C317.0,419.7 321.0,422.3 324.0,424.0 C327.0,425.7 330.7,427.3 332.0,428.0"/>
<path d="M308.0,408.0 C308.3,408.7 308.7,410.8 310.0,412.0 C311.3,413.2 315.0,414.5 316.0,415.0"/>
<path d="M358.0,380.0 C358.3,379.0 358.3,374.7 360.0,374.0 C361.7,373.3 366.0,374.7 368.0,376.0 C370.0,377.3 372.0,379.8 372.0,382.0 C372.0,384.2 370.0,388.0 368.0,389.0 C366.0,390.0 361.7,389.5 360.0,388.0 C358.3,386.5 358.3,381.3 358.0,380.0"/>
<path d="M361.0,381.0 C361.5,380.5 362.8,378.0 364.0,378.0 C365.2,378.0 367.7,379.8 368.0,381.0 C368.3,382.2 366.9,384.4 366.0,385.0 C365.1,385.6 363.0,384.5 362.4,384.4"/>
<rect x="360.0" y="402.0" width="11.0" height="14.0" rx="1.6"/>
<ellipse cx="365.4" cy="402.4" rx="5.4" ry="2.0"/>
<ellipse cx="365.4" cy="415.6" rx="5.4" ry="2.0"/>
<path d="M350.0,400.0 L360.0,396.0 L380.0,400.0"/>
<path d="M348.0,424.0 L360.0,432.0 L380.0,428.0"/>
<path d="M358.0,432.0 C359.0,431.0 361.7,426.7 364.0,426.0 C366.3,425.3 370.3,426.5 372.0,428.0 C373.7,429.5 374.7,433.0 374.0,435.0 C373.3,437.0 369.0,439.2 368.0,440.0"/>
<path d="M340.0,386.0 L358.0,389.0"/>
<path d="M342.0,391.0 L360.0,394.4"/>
<path d="M324.0,350.0 C325.3,350.7 329.3,353.7 332.0,354.0 C334.7,354.3 338.7,352.3 340.0,352.0"/>
<path d="M316.0,344.0 L324.0,348.0 L324.0,356.0 L316.0,352.0 Z"/>
<path d="M274.0,390.0 L304.0,395.0"/>
<path d="M275.0,396.0 L280.0,399.0 L304.0,402.0"/>
<path d="M290.0,366.0 C291.0,365.8 294.0,364.3 296.0,365.0 C298.0,365.7 301.0,368.0 302.0,370.0 C303.0,372.0 302.0,375.8 302.0,377.0"/>
<path d="M309.0,372.4 L314.0,370.0 L320.0,372.0"/>
<path d="M348.0,360.0 C349.0,359.3 352.0,356.0 354.0,356.0 C356.0,356.0 359.3,358.0 360.0,360.0 C360.7,362.0 359.3,366.3 358.0,368.0 C356.7,369.7 353.0,369.7 352.0,370.0"/>
<path d="M351.0,346.0 C352.2,346.3 355.8,346.7 358.0,348.0 C360.2,349.3 362.7,351.3 364.0,354.0 C365.3,356.7 365.7,362.3 366.0,364.0"/>
<path d="M372.0,358.0 C372.7,358.7 375.0,360.0 376.0,362.0 C377.0,364.0 377.7,368.7 378.0,370.0"/>
<path d="M350.0,386.0 L358.0,380.0"/>
<path d="M368.0,389.0 L378.0,388.0"/>
<path d="M460.0,288.0 C459.8,284.7 458.2,274.7 459.0,268.0 C459.8,261.3 462.0,253.8 465.0,248.0 C468.0,242.2 472.5,237.0 477.0,233.0 C481.5,229.0 486.7,226.0 492.0,224.0 C497.3,222.0 503.3,220.8 509.0,221.0 C514.7,221.2 521.2,222.7 526.0,225.0 C530.8,227.3 535.2,230.8 538.0,235.0 C540.8,239.2 542.0,245.8 543.0,250.0 C544.0,254.2 543.8,258.3 544.0,260.0"/>
<path d="M468.0,285.0 C468.0,282.2 467.2,273.5 468.0,268.0 C468.8,262.5 470.5,256.8 473.0,252.0 C475.5,247.2 479.5,242.3 483.0,239.0 C486.5,235.7 492.2,233.2 494.0,232.0"/>
<path d="M483.0,280.0 C483.3,276.7 483.3,266.2 485.0,260.0 C486.7,253.8 490.2,247.2 493.0,243.0 C495.8,238.8 500.5,236.3 502.0,235.0"/>
<path d="M490.0,279.0 C490.3,276.5 490.3,268.5 492.0,264.0 C493.7,259.5 497.0,255.0 500.0,252.0 C503.0,249.0 508.3,247.0 510.0,246.0"/>
<path d="M526.0,243.0 C527.5,244.2 532.8,246.8 535.0,250.0 C537.2,253.2 538.3,260.0 539.0,262.0"/>
<path d="M525.0,250.0 C526.2,250.8 530.5,252.7 532.0,255.0 C533.5,257.3 533.7,262.5 534.0,264.0"/>
<path d="M524.0,245.0 C524.7,244.7 526.3,242.7 528.0,243.0 C529.7,243.3 533.0,246.3 534.0,247.0"/>
<path d="M465.3,251.5 L459.1,252.0 L464.7,254.5 Q465.7,253.1 465.3,251.5" fill="#fff"/>
<path d="M461.6,264.5 L455.6,266.0 L461.6,267.5 Q462.4,266.0 461.6,264.5" fill="#fff"/>
<path d="M478.2,234.1 L473.6,230.1 L475.8,235.9 Q477.4,235.6 478.2,234.1" fill="#fff"/>
<path d="M495.1,222.7 L492.6,217.1 L492.1,223.3 Q493.7,223.7 495.1,222.7" fill="#fff"/>
<path d="M510.5,222.1 L509.5,216.0 L507.5,221.9 Q508.9,222.7 510.5,222.1" fill="#fff"/>
<path d="M529.2,227.3 L531.4,221.5 L526.8,225.5 Q527.6,227.0 529.2,227.3" fill="#fff"/>
<path d="M539.8,239.3 L544.2,235.0 L538.2,236.7 Q538.4,238.4 539.8,239.3" fill="#fff"/>
<path d="M543.9,254.5 L549.5,252.0 L543.3,251.5 Q542.9,253.1 543.9,254.5" fill="#fff"/>
<path d="M457.3,273.5 L451.7,276.0 L457.9,276.5 Q458.3,274.9 457.3,273.5" fill="#fff"/>
<path d="M469.2,281.1 L464.8,285.4 L470.8,283.7 Q470.6,282.0 469.2,281.1" fill="#fff"/>
<path d="M478.7,245.8 L474.9,245.2 L477.3,248.2 Q478.6,247.3 478.7,245.8" fill="#fff"/>
<path d="M477.2,258.6 L473.5,259.4 L476.8,261.4 Q477.7,260.1 477.2,258.6" fill="#fff"/>
<path d="M467.2,263.6 L463.5,264.4 L466.8,266.4 Q467.7,265.1 467.2,263.6" fill="#fff"/>
<path d="M492.1,241.1 L488.7,239.2 L489.9,242.9 Q491.4,242.5 492.1,241.1" fill="#fff"/>
<path d="M491.7,252.8 L487.9,252.2 L490.3,255.2 Q491.6,254.3 491.7,252.8" fill="#fff"/>
<path d="M481.8,273.6 L478.5,275.6 L482.2,276.4 Q482.7,274.9 481.8,273.6" fill="#fff"/>
<path d="M535.9,241.1 L537.8,237.7 L534.1,238.9 Q534.5,240.4 535.9,241.1" fill="#fff"/>
<path d="M506.0,245.6 C506.5,247.3 507.3,252.6 509.0,256.0 C510.7,259.4 513.5,263.2 516.0,266.0 C518.5,268.8 520.8,272.3 524.0,273.0 C527.2,273.7 534.3,271.2 535.0,270.0 C535.7,268.8 530.2,268.0 528.0,266.0 C525.8,264.0 523.7,261.1 522.0,258.0 C520.3,254.9 518.7,249.3 518.0,247.6" fill="#fff"/>
<path d="M509.6,248.0 C510.2,249.7 511.3,254.8 513.0,258.0 C514.7,261.2 517.3,264.7 519.6,267.0 C521.9,269.3 525.8,271.2 527.0,272.0"/>
<path d="M512.4,248.4 C513.0,250.0 514.3,254.9 516.0,258.0 C517.7,261.1 520.1,264.8 522.4,267.0 C524.7,269.2 528.4,270.7 529.6,271.4"/>
<path d="M515.2,248.4 C515.8,250.0 517.3,255.0 519.0,258.0 C520.7,261.0 523.0,264.3 525.2,266.4 C527.4,268.5 531.0,270.1 532.2,270.8"/>
<path d="M520.0,243.0 C521.0,243.8 524.5,245.5 526.0,248.0 C527.5,250.5 527.7,255.0 529.0,258.0 C530.3,261.0 532.2,264.2 534.0,266.0 C535.8,267.8 539.0,268.5 540.0,269.0"/>
<path d="M494.4,230.0 C494.3,230.5 493.5,231.5 493.6,233.0 C493.7,234.5 494.0,237.0 495.2,239.0 C496.4,241.0 498.7,243.2 501.0,245.0 C503.3,246.8 506.5,248.7 509.0,249.6 C511.5,250.5 514.2,250.8 516.0,250.4 C517.8,250.0 519.3,247.6 520.0,247.0"/>
<path d="M494.4,230.0 C494.6,228.2 495.6,226.9 497.0,226.4 C498.4,225.9 500.8,226.4 503.0,227.0 C505.2,227.6 507.5,228.5 510.0,230.0 C512.5,231.5 516.3,233.8 518.0,236.0 C519.7,238.2 520.2,241.0 520.0,243.0 C519.8,245.0 518.7,247.3 517.0,248.0 C515.3,248.7 512.5,247.8 510.0,247.0 C507.5,246.2 504.3,244.7 502.0,243.0 C499.7,241.3 497.3,239.2 496.0,237.0 C494.7,234.8 494.2,231.8 494.4,230.0 Z" fill="#fff"/>
<ellipse cx="499.4" cy="234.0" rx="1.8" ry="2.2"/>
<ellipse cx="505.0" cy="237.6" rx="1.8" ry="2.2"/>
<ellipse cx="510.6" cy="241.6" rx="1.8" ry="2.2"/>
<path d="M489.0,273.0 L492.0,269.6 L508.0,267.0 L534.0,280.0"/>
<path d="M489.0,273.0 L508.0,284.0 L528.0,283.0 L534.0,280.0"/>
<path d="M489.0,273.0 L489.0,280.0 L506.0,290.0 L508.0,284.0"/>
<path d="M510.4,269.0 L507.6,283.2"/>
<path d="M513.8,270.6 L510.8,283.2"/>
<path d="M517.2,272.2 L514.0,283.2"/>
<path d="M520.6,273.8 L517.2,283.2"/>
<path d="M524.0,275.4 L520.4,283.2"/>
<path d="M527.4,277.0 L523.6,283.2"/>
<ellipse cx="500.0" cy="275.0" rx="4.4" ry="3.6"/>
<ellipse cx="500.0" cy="275.0" rx="2.4" ry="2.0"/>
<path d="M520.0,286.0 L524.0,283.0 L534.0,284.0 L538.0,290.0 L538.0,304.0 L528.0,308.0 L522.0,304.0 Z"/>
<path d="M530.0,288.0 L536.0,289.0"/>
<path d="M531.0,294.0 L537.0,294.4"/>
<path d="M531.0,299.0 L537.0,299.0"/>
<path d="M524.0,283.0 L526.0,304.0"/>
<path d="M533.0,279.0 C534.5,278.7 538.8,276.2 542.0,277.0 C545.2,277.8 549.3,280.8 552.0,284.0 C554.7,287.2 556.7,291.3 558.0,296.0 C559.3,300.7 559.7,309.3 560.0,312.0"/>
<path d="M540.0,276.0 C541.3,275.8 545.0,274.3 548.0,275.0 C551.0,275.7 555.0,277.2 558.0,280.0 C561.0,282.8 564.3,288.0 566.0,292.0 C567.7,296.0 567.7,302.0 568.0,304.0"/>
<path d="M534.0,280.0 C534.7,281.3 536.3,285.3 538.0,288.0 C539.7,290.7 541.7,292.0 544.0,296.0 C546.3,300.0 550.7,309.3 552.0,312.0"/>
<path d="M542.0,267.0 L552.0,266.0 L568.0,274.0"/>
<path d="M555.0,261.0 L555.0,275.0"/>
<path d="M555.0,261.0 L558.0,259.0 L563.0,260.0 L563.0,274.0"/>
<path d="M558.0,259.0 L558.0,266.0"/>
<rect x="557.0" y="264.0" width="5.0" height="9.0" rx="0.6"/>
<path d="M568.0,274.0 L568.0,304.0"/>
<path d="M552.0,266.0 L552.0,260.0 L555.0,261.0"/>
<path d="M578.0,279.0 C578.5,278.3 579.0,275.3 581.0,275.0 C583.0,274.7 586.8,275.8 590.0,277.0 C593.2,278.2 598.3,281.5 600.0,282.4"/>
<ellipse cx="582.4" cy="281.6" rx="1.8" ry="2.2"/>
<ellipse cx="587.6" cy="284.0" rx="1.8" ry="2.2"/>
<ellipse cx="592.8" cy="286.6" rx="1.8" ry="2.2"/>
<path d="M578.0,279.0 C577.7,280.2 575.7,283.5 576.0,286.0 C576.3,288.5 578.0,291.7 580.0,294.0 C582.0,296.3 586.7,299.0 588.0,300.0"/>
<path d="M580.0,288.0 C581.0,288.7 583.3,291.0 586.0,292.0 C588.7,293.0 594.3,293.7 596.0,294.0"/>
<path d="M578.0,296.0 C578.3,298.0 579.0,304.0 580.0,308.0 C581.0,312.0 583.3,318.0 584.0,320.0"/>
<path d="M574.0,276.0 L578.0,279.0"/>
<path d="M572.0,284.0 L576.0,286.0"/>
<path d="M588.0,300.0 C589.0,300.7 592.3,302.0 594.0,304.0 C595.7,306.0 597.3,310.7 598.0,312.0"/>
<ellipse cx="593.0" cy="303.0" rx="2.8" ry="3.4"/>
<path d="M440.0,300.0 L460.0,288.0 L486.0,279.0"/>
<path d="M448.0,304.0 L452.0,298.0 L486.0,284.0"/>
<path d="M448.0,304.0 L448.0,320.0"/>
<path d="M452.0,298.0 L462.0,304.0 L462.0,320.0"/>
<path d="M462.0,304.0 L486.0,294.0"/>
<path d="M466.0,288.0 L472.0,291.0 L486.0,286.0"/>
<path d="M490.0,308.0 L506.0,288.0"/>
<path d="M500.0,290.0 L494.0,308.0"/>
<path d="M496.0,294.0 C497.3,294.7 502.3,296.0 504.0,298.0 C505.7,300.0 505.7,304.7 506.0,306.0"/>
<path d="M489.0,280.0 L489.0,312.0"/>
<path d="M506.0,290.0 L520.0,294.0"/>
<path d="M540.0,304.0 L552.0,316.0 L560.0,320.0"/>
<path d="M538.0,304.0 L548.0,318.0"/>
<path d="M568.0,304.0 L578.0,309.0"/>
<path d="M560.0,312.0 L568.0,316.0"/>
<path d="M398.0,330.0 L410.0,318.0 L416.0,310.0 L447.0,304.4"/>
<path d="M448.0,323.0 L449.0,299.0 L459.0,296.0 L480.0,303.0 L485.0,318.0 L488.0,339.0 L478.0,342.0 L468.0,328.0 L448.0,323.0"/>
<path d="M449.0,306.0 L478.0,317.0 L486.0,318.0"/>
<path d="M478.0,317.0 L479.0,341.0"/>
<path d="M460.0,295.0 L484.0,302.0 L508.0,297.0"/>
<path d="M488.0,339.0 L508.0,334.4 L520.0,316.0"/>
<path d="M508.0,335.0 L540.0,328.0"/>
<path d="M492.0,339.4 L500.0,358.4 L540.0,346.4"/>
<path d="M508.0,335.0 L502.0,360.0"/>
<ellipse cx="403.0" cy="329.6" rx="5.2" ry="2.4"/>
<path d="M397.8,329.6 L397.8,332.8"/>
<path d="M408.2,329.6 L408.2,332.8"/>
<path d="M397.8,332.8 C398.7,333.2 401.3,335.2 403.0,335.2 C404.7,335.2 407.3,333.2 408.2,332.8"/>
<ellipse cx="403.0" cy="329.6" rx="2.6" ry="1.2"/>
<ellipse cx="460.0" cy="361.6" rx="5.6" ry="2.6"/>
<path d="M454.4,361.6 L454.4,364.8"/>
<path d="M465.6,361.6 L465.6,364.8"/>
<path d="M454.4,364.8 C455.3,365.2 458.1,367.4 460.0,367.4 C461.9,367.4 464.7,365.2 465.6,364.8"/>
<ellipse cx="460.0" cy="361.6" rx="2.8" ry="1.3"/>
<ellipse cx="497.0" cy="342.0" rx="2.8" ry="1.4"/>
<ellipse cx="412.0" cy="357.0" rx="2.0" ry="1.0"/>
<path d="M416.0,327.0 L434.0,319.0 L440.0,322.0 L440.0,327.0 L422.0,335.0 L416.0,332.0 Z"/>
<path d="M416.0,327.0 L422.0,330.0 L440.0,322.0"/>
<path d="M422.0,330.0 L422.0,335.0"/>
<path d="M421.0,326.4 L433.0,321.0"/>
<path d="M382.0,350.0 L407.0,340.0 L430.0,353.0 L406.0,363.0 L382.0,350.0"/>
<path d="M406.0,363.0 L416.0,368.0 L440.0,357.0"/>
<path d="M386.0,352.0 L406.0,361.0 L427.0,352.0"/>
<path d="M380.0,346.0 L400.0,338.0 L410.0,318.0"/>
<path d="M400.0,338.0 L407.0,340.0"/>
<ellipse cx="435.0" cy="349.6" rx="2.2" ry="4.8" transform="rotate(-28 435.0 349.6)"/>
<ellipse cx="439.4" cy="347.4" rx="2.2" ry="4.8" transform="rotate(-28 439.4 347.4)"/>
<ellipse cx="443.8" cy="345.2" rx="2.2" ry="4.8" transform="rotate(-28 443.8 345.2)"/>
<ellipse cx="448.2" cy="343.0" rx="2.2" ry="4.8" transform="rotate(-28 448.2 343.0)"/>
<path d="M444.0,328.0 L456.0,322.0 L468.0,327.0"/>
<path d="M444.0,328.0 L446.0,338.0 L456.0,333.0 L456.0,322.0"/>
<path d="M430.0,346.0 L446.0,338.0"/>
<path d="M452.0,350.4 L464.0,344.0 L474.0,350.0"/>
<path d="M464.0,344.0 L468.0,328.0"/>
<rect x="463.0" y="343.6" width="10.0" height="4.4" rx="0.6" transform="rotate(20 463.0 343.6)"/>
<path d="M450.0,360.0 L438.0,358.0 L428.0,349.0"/>
<path d="M466.0,363.0 L502.0,360.0"/>
<path d="M450.0,366.0 L450.0,374.0 L466.0,376.0 L466.0,368.0"/>
<path d="M466.0,368.0 L500.0,365.0 L502.0,360.0"/>
<path d="M500.0,365.0 L500.0,373.0 L466.0,376.0"/>
<path d="M450.0,374.0 L440.0,380.0 L434.0,376.0"/>
<path d="M438.0,358.0 L438.0,364.0 L450.0,366.0"/>
<path d="M510.0,380.0 L518.0,366.0 L540.0,357.0"/>
<path d="M514.0,382.0 L521.0,369.0 L540.0,361.0"/>
<path d="M510.0,380.0 L514.0,382.0"/>
<path d="M526.0,374.0 L540.0,369.0"/>
<path d="M502.0,386.0 L510.0,380.0"/>
<path d="M452.0,300.0 L461.0,297.6 L476.0,302.0 L468.0,305.0 L452.0,300.0"/>
<path d="M462.0,301.0 C463.0,300.8 466.0,299.4 468.0,299.6 C470.0,299.8 473.0,301.9 474.0,302.4"/>
<path d="M520.0,316.0 L540.0,310.0"/>
<path d="M518.0,323.0 L532.0,319.0 L534.0,316.0"/>
<rect x="523.0" y="318.0" width="9.0" height="2.8" rx="0.4" transform="rotate(-18 523.0 318.0)"/>
<path d="M380.0,364.0 C380.7,364.7 383.0,366.3 384.0,368.0 C385.0,369.7 386.3,372.3 386.0,374.0 C385.7,375.7 382.7,377.3 382.0,378.0"/>
<path d="M399.0,382.0 C399.8,382.7 403.0,384.0 404.0,386.0 C405.0,388.0 405.7,392.0 405.0,394.0 C404.3,396.0 400.8,397.3 400.0,398.0"/>
<path d="M380.0,384.0 L392.0,389.0 L392.0,400.0"/>
<path d="M392.0,389.0 L400.0,386.0"/>
<path d="M406.0,374.0 L422.0,380.0 L438.0,374.0"/>
<path d="M422.0,380.0 L422.0,392.0 L428.0,394.0 L428.0,400.0"/>
<path d="M414.0,388.0 L420.0,400.0"/>
<rect x="410.0" y="388.0" width="8.0" height="12.0" rx="1.6"/>
<path d="M432.0,384.0 C433.0,384.7 436.7,385.3 438.0,388.0 C439.3,390.7 439.7,398.0 440.0,400.0"/>
<path d="M440.0,380.0 L464.0,384.0 L488.0,392.0"/>
<path d="M446.0,388.0 L464.0,392.0 L476.0,400.0"/>
<path d="M587.0,272.0 C587.7,271.2 589.2,268.0 591.0,267.0 C592.8,266.0 596.2,265.5 598.0,266.0 C599.8,266.5 601.3,269.3 602.0,270.0"/>
<path d="M578.0,277.0 C579.0,275.7 580.7,273.0 583.0,273.0 C585.3,273.0 589.2,275.5 592.0,277.0 C594.8,278.5 598.7,280.2 600.0,282.0 C601.3,283.8 600.8,286.5 600.0,288.0 C599.2,289.5 597.2,290.8 595.0,291.0 C592.8,291.2 589.5,290.0 587.0,289.0 C584.5,288.0 581.7,286.3 580.0,285.0 C578.3,283.7 577.3,282.3 577.0,281.0 C576.7,279.7 577.0,278.3 578.0,277.0 Z" fill="#fff"/>
<ellipse cx="582.4" cy="281.6" rx="1.8" ry="2.2"/>
<ellipse cx="587.6" cy="284.0" rx="1.8" ry="2.2"/>
<ellipse cx="592.8" cy="286.6" rx="1.8" ry="2.2"/>
<path d="M578.0,281.0 C577.5,282.2 575.0,285.5 575.0,288.0 C575.0,290.5 576.2,293.7 578.0,296.0 C579.8,298.3 584.7,301.0 586.0,302.0"/>
<path d="M583.0,288.0 C582.7,289.0 580.7,292.0 581.0,294.0 C581.3,296.0 583.5,298.7 585.0,300.0 C586.5,301.3 589.2,301.7 590.0,302.0"/>
<path d="M586.0,302.0 C587.0,302.3 590.3,302.3 592.0,304.0 C593.7,305.7 595.7,309.3 596.0,312.0 C596.3,314.7 594.3,318.7 594.0,320.0"/>
<ellipse cx="592.4" cy="303.6" rx="3.2" ry="4.0"/>
<ellipse cx="592.4" cy="303.6" rx="1.4" ry="1.8"/>
<path d="M589.0,298.0 C589.8,297.5 592.2,295.0 594.0,295.0 C595.8,295.0 598.7,296.5 600.0,298.0 C601.3,299.5 602.3,302.2 602.0,304.0 C601.7,305.8 598.7,308.2 598.0,309.0"/>
<path d="M600.0,288.0 C601.0,288.3 604.5,288.7 606.0,290.0 C607.5,291.3 608.5,295.0 609.0,296.0"/>
<path d="M600.0,300.0 C601.0,299.7 604.0,297.8 606.0,298.0 C608.0,298.2 611.0,300.5 612.0,301.0"/>
<path d="M602.0,304.0 L620.0,312.0 L628.0,318.0"/>
<path d="M606.0,299.0 L624.0,307.0 L634.0,314.0"/>
<ellipse cx="610.0" cy="290.0" rx="3.6" ry="4.4"/>
<ellipse cx="620.0" cy="288.0" rx="3.2" ry="4.0"/>
<path d="M607.0,284.0 C608.2,283.3 611.2,280.3 614.0,280.0 C616.8,279.7 621.7,280.7 624.0,282.0 C626.3,283.3 627.3,287.0 628.0,288.0"/>
<path d="M600.0,282.0 L604.0,280.0"/>
<path d="M602.0,270.0 C604.3,271.2 611.3,274.3 616.0,277.0 C620.7,279.7 626.5,283.2 630.0,286.0 C633.5,288.8 635.7,291.0 637.0,294.0 C638.3,297.0 638.2,301.0 638.0,304.0 C637.8,307.0 636.3,310.7 636.0,312.0"/>
<path d="M606.0,273.0 C608.0,274.2 614.3,277.7 618.0,280.0 C621.7,282.3 625.5,284.7 628.0,287.0 C630.5,289.3 632.0,291.2 633.0,294.0 C634.0,296.8 634.0,301.2 634.0,304.0 C634.0,306.8 633.2,309.8 633.0,311.0"/>
<path d="M614.0,284.0 L628.0,294.0 L628.0,304.0"/>
<path d="M620.0,294.0 L620.0,300.0 L628.0,304.0"/>
<path d="M624.0,292.0 L634.0,298.0"/>
<path d="M620.0,288.0 L630.0,294.0"/>
<path d="M552.0,260.0 L559.0,258.0 L566.0,261.0 L566.0,276.0 L559.0,279.0 L552.0,276.0 Z"/>
<path d="M559.0,258.0 L559.0,266.0 L566.0,269.0"/>
<path d="M556.0,262.0 L556.0,274.0"/>
<path d="M561.0,264.0 L561.0,277.0"/>
<rect x="557.6" y="263.0" width="4.0" height="8.0" rx="0.6"/>
<path d="M540.0,252.0 L544.0,252.4 L544.0,258.0 L540.0,260.0"/>
<path d="M540.0,266.0 L552.0,269.0"/>
<path d="M540.0,272.0 L550.0,276.0 L552.0,276.0"/>
<path d="M540.0,280.0 C541.3,280.3 545.3,280.3 548.0,282.0 C550.7,283.7 554.0,286.3 556.0,290.0 C558.0,293.7 559.3,299.0 560.0,304.0 C560.7,309.0 560.0,317.3 560.0,320.0"/>
<path d="M540.0,288.0 C541.0,288.3 544.3,288.3 546.0,290.0 C547.7,291.7 549.0,294.3 550.0,298.0 C551.0,301.7 551.8,308.3 552.0,312.0 C552.2,315.7 551.2,318.7 551.0,320.0"/>
<path d="M566.0,276.0 L570.0,279.0"/>
<path d="M562.0,284.0 L570.0,288.0"/>
<path d="M562.0,284.0 L562.0,294.0 L570.0,298.0"/>
<path d="M564.0,304.0 L570.0,306.0"/>
<path d="M560.0,312.0 L570.0,316.0"/>
<path d="M570.0,288.0 L577.0,281.0"/>
<path d="M574.0,294.0 C575.0,295.7 579.0,300.7 580.0,304.0 C581.0,307.3 580.7,311.3 580.0,314.0 C579.3,316.7 576.7,319.0 576.0,320.0"/>
<path d="M582.0,306.0 L582.0,320.0"/>
<path d="M587.0,304.0 L588.0,320.0"/>
<ellipse cx="559.0" cy="312.0" rx="2.0" ry="2.4"/>
<path d="M540.0,296.0 L552.0,302.0 L560.0,312.0 L560.0,318.0"/>
<path d="M548.0,284.0 C549.0,285.3 552.7,288.7 554.0,292.0 C555.3,295.3 555.0,300.7 556.0,304.0 C557.0,307.3 559.3,310.7 560.0,312.0"/>
<path d="M574.0,304.0 L589.0,306.0 L589.0,346.0 L574.0,356.0"/>
<path d="M583.0,305.0 L583.0,349.0"/>
<path d="M577.0,326.0 L583.0,327.0"/>
<path d="M577.0,326.0 L577.0,346.0 L583.0,344.0"/>
<path d="M589.0,316.0 L600.0,322.0 L610.0,330.0 L620.0,338.0"/>
<path d="M589.0,326.0 L606.0,338.0 L616.0,346.0"/>
<path d="M600.0,332.0 L608.0,330.0 L620.0,340.0 L614.0,344.0"/>
<path d="M601.0,332.4 L606.0,330.4"/>
<path d="M602.8,333.8 L607.8,331.8"/>
<path d="M604.6,335.2 L609.6,333.2"/>
<path d="M606.4,336.6 L611.4,334.6"/>
<path d="M608.2,338.0 L613.2,336.0"/>
<path d="M610.0,339.4 L615.0,337.4"/>
<path d="M611.8,340.8 L616.8,338.8"/>
<path d="M613.6,342.2 L618.6,340.2"/>
<path d="M590.0,307.0 L600.0,304.0 L620.0,313.0 L626.0,320.0"/>
<path d="M594.0,312.0 L620.0,323.0 L628.0,330.0"/>
<path d="M596.0,307.0 L624.0,319.0 L634.0,326.0"/>
<ellipse cx="597.0" cy="309.6" rx="2.4" ry="3.2"/>
<ellipse cx="628.0" cy="325.0" rx="3.6" ry="4.8"/>
<ellipse cx="622.0" cy="321.0" rx="2.8" ry="4.0"/>
<path d="M606.0,300.0 L626.0,308.0 L636.0,316.0"/>
<path d="M608.0,295.0 L630.0,304.0 L638.0,312.0"/>
<ellipse cx="609.0" cy="297.6" rx="2.4" ry="3.2"/>
<path d="M590.0,298.0 C590.3,296.5 592.3,294.3 594.0,294.0 C595.7,293.7 598.8,294.7 600.0,296.0 C601.2,297.3 601.5,300.5 601.0,302.0 C600.5,303.5 598.5,304.8 597.0,305.0 C595.5,305.2 593.2,304.2 592.0,303.0 C590.8,301.8 589.7,299.5 590.0,298.0 Z"/>
<ellipse cx="595.6" cy="299.6" rx="2.0" ry="2.6"/>
<path d="M588.0,286.0 C588.7,284.4 592.0,282.2 594.0,282.0 C596.0,281.8 599.0,283.5 600.0,285.0 C601.0,286.5 600.8,289.5 600.0,291.0 C599.2,292.5 596.7,293.9 595.0,294.0 C593.3,294.1 590.8,292.9 589.6,291.6 C588.4,290.3 587.3,287.6 588.0,286.0 Z"/>
<ellipse cx="594.0" cy="288.0" rx="2.0" ry="2.6"/>
<path d="M601.0,289.0 L620.0,297.0"/>
<path d="M600.0,284.0 L624.0,293.0"/>
<path d="M616.0,286.0 C618.0,286.7 624.7,288.3 628.0,290.0 C631.3,291.7 634.3,293.3 636.0,296.0 C637.7,298.7 637.8,303.0 638.0,306.0 C638.2,309.0 637.2,312.7 637.0,314.0"/>
<path d="M620.0,280.0 C621.7,280.8 627.7,283.0 630.0,285.0 C632.3,287.0 633.3,290.8 634.0,292.0"/>
<path d="M540.0,325.0 L560.0,320.0 L572.0,323.0"/>
<ellipse cx="558.0" cy="326.0" rx="2.4" ry="1.2"/>
<path d="M540.0,346.0 L560.0,341.0 L573.0,344.0"/>
<path d="M540.0,356.0 L560.0,352.0 L561.0,358.0 L546.0,362.0 L544.0,368.0 L540.0,369.0"/>
<path d="M540.0,374.0 L572.0,364.0"/>
<path d="M560.0,312.0 L573.0,315.0"/>
<path d="M552.0,292.0 L560.0,290.0 L570.0,294.0"/>
<path d="M544.0,306.0 L552.0,310.0 L552.0,318.0"/>
<ellipse cx="559.0" cy="310.0" rx="1.6" ry="2.0"/>
<path d="M589.0,346.0 L600.0,352.0 L608.0,353.0"/>
<path d="M602.0,346.0 L610.0,349.0"/>
<path d="M501.0,359.0 L509.0,336.4 L572.0,319.0"/>
<path d="M500.0,387.0 L572.0,365.0"/>
<path d="M506.0,381.0 L570.0,359.0"/>
<path d="M511.0,378.0 L524.0,361.0 L546.0,352.0 L560.0,354.0 L560.0,362.0 L548.0,363.0 L547.0,368.0 L527.0,374.0 L526.0,379.0 L514.0,385.0 Z"/>
<path d="M528.0,372.4 L546.0,365.6"/>
<path d="M513.0,379.0 L525.0,363.0 L546.0,354.0"/>
<path d="M460.0,361.0 L460.0,378.0 L498.0,374.0 L501.0,359.0 L460.0,361.0"/>
<path d="M464.0,363.0 L496.0,361.0 L498.0,374.0"/>
<path d="M460.0,356.0 L500.0,354.0 L509.0,336.4"/>
<path d="M460.0,378.0 L464.0,386.0 L490.0,381.0 L498.0,374.0"/>
<path d="M490.0,381.0 L492.0,378.0"/>
<ellipse cx="496.0" cy="341.0" rx="2.4" ry="1.2"/>
<ellipse cx="540.0" cy="339.0" rx="2.4" ry="1.0"/>
<ellipse cx="558.0" cy="325.0" rx="2.4" ry="1.0"/>
<path d="M460.0,344.0 L472.0,350.0 L478.0,346.0 L472.0,340.0 L460.0,342.0"/>
<path d="M464.0,345.0 L471.0,348.0"/>
<path d="M486.0,332.0 L486.0,340.0 L508.0,332.0"/>
<path d="M460.0,334.0 L480.0,326.0 L500.0,320.0"/>
<path d="M520.0,322.0 L528.0,320.0"/>
<path d="M524.0,324.0 L534.0,321.0"/>
<path d="M572.0,365.0 L572.0,344.0"/>
<path d="M560.0,357.0 L572.0,354.0"/>
<path d="M575.0,338.0 L580.0,339.0 L580.0,346.0 L575.0,345.0 Z"/>
<path d="M460.0,392.0 L484.0,388.0 L500.0,387.0"/>
<path d="M460.0,400.0 C462.0,400.2 468.0,401.5 472.0,401.0 C476.0,400.5 480.7,398.8 484.0,397.0 C487.3,395.2 490.7,391.2 492.0,390.0"/>
<path d="M464.0,396.0 L464.0,408.0"/>
<path d="M472.0,397.0 L472.0,406.0"/>
<path d="M460.0,408.0 C461.3,407.8 465.0,408.0 468.0,407.0 C471.0,406.0 476.3,402.8 478.0,402.0"/>
<path d="M380.0,398.0 L396.0,396.0 L410.0,402.0 L420.0,410.0"/>
<path d="M384.0,408.0 C385.3,407.3 389.0,404.2 392.0,404.0 C395.0,403.8 399.0,405.3 402.0,407.0 C405.0,408.7 408.7,412.8 410.0,414.0"/>
<path d="M388.0,412.0 L406.0,418.0 L420.0,414.0"/>
<ellipse cx="400.0" cy="402.0" rx="3.6" ry="4.4"/>
<ellipse cx="408.0" cy="415.0" rx="2.8" ry="3.6"/>
<ellipse cx="392.0" cy="398.0" rx="2.4" ry="3.0"/>
<path d="M380.0,420.0 L392.0,428.0 L398.0,430.0"/>
<path d="M380.0,428.0 L390.0,436.0"/>
<path d="M410.0,402.0 C411.7,401.7 416.3,399.7 420.0,400.0 C423.7,400.3 429.0,402.3 432.0,404.0 C435.0,405.7 437.0,409.0 438.0,410.0"/>
<path d="M420.0,390.0 L440.0,394.0 L440.0,408.0"/>
<path d="M430.0,392.0 L430.0,406.0"/>
<path d="M440.0,394.0 L464.0,390.0"/>
<path d="M440.0,408.0 C442.0,408.7 447.7,412.0 452.0,412.0 C456.3,412.0 462.0,409.7 466.0,408.0 C470.0,406.3 473.0,404.3 476.0,402.0 C479.0,399.7 482.7,395.3 484.0,394.0"/>
<path d="M460.0,398.0 L460.0,410.0"/>
<path d="M468.0,396.0 L468.0,407.0"/>
<path d="M412.0,410.0 L422.0,416.0 L426.0,412.0"/>
<path d="M380.0,440.0 L388.0,444.0"/>
<rect x="360.0" y="406.0" width="12.0" height="16.0" rx="1.6"/>
<ellipse cx="366.0" cy="406.4" rx="6.0" ry="2.2"/>
<ellipse cx="366.0" cy="404.0" rx="3.6" ry="1.4"/>
<path d="M346.0,420.0 L360.0,422.0"/>
<path d="M372.0,414.0 L386.0,410.0 L404.0,416.0"/>
<path d="M352.0,432.0 C352.2,430.2 354.0,427.7 356.0,427.0 C358.0,426.3 362.3,426.8 364.0,428.0 C365.7,429.2 366.3,432.2 366.0,434.0 C365.7,435.8 363.8,438.3 362.0,439.0 C360.2,439.7 356.7,439.2 355.0,438.0 C353.3,436.8 351.8,433.8 352.0,432.0 Z"/>
<path d="M364.0,428.0 L380.0,424.0 L388.0,428.0 L386.0,434.0 L366.0,438.0"/>
<ellipse cx="376.0" cy="430.0" rx="2.8" ry="1.8"/>
<path d="M366.0,438.0 C367.7,438.3 372.7,440.0 376.0,440.0 C379.3,440.0 383.0,439.0 386.0,438.0 C389.0,437.0 392.7,434.7 394.0,434.0"/>
<path d="M380.0,412.0 L396.0,422.0 L400.0,420.0"/>
<path d="M384.0,409.0 L400.0,418.0"/>
<ellipse cx="382.0" cy="410.4" rx="2.4" ry="3.0"/>
<path d="M388.0,428.0 L400.0,432.0 L404.0,430.0"/>
<path d="M350.0,408.0 L360.0,410.0"/>
<path d="M348.0,414.0 L360.0,417.0"/>
<path d="M318.0,406.0 C319.3,405.3 323.0,402.2 326.0,402.0 C329.0,401.8 334.3,404.5 336.0,405.0"/>
<path d="M300.0,402.0 L312.0,408.0 L340.0,422.0 L352.0,428.0"/>
<path d="M340.0,422.0 L348.0,419.0"/>
<path d="M370.0,440.0 L380.0,443.0 L392.0,440.0 L396.0,436.0"/>
<path d="M392.0,422.0 L394.0,434.0"/>
<path d="M396.0,404.0 L404.0,408.0 L404.0,424.0"/>
<path d="M400.0,400.0 L412.0,404.0"/>
<path d="M386.0,400.0 C387.0,400.3 390.7,400.7 392.0,402.0 C393.3,403.3 393.7,407.0 394.0,408.0"/>
<ellipse cx="643.8" cy="355.5" rx="30.5" ry="41.0" transform="rotate(11 643.8 355.5)" fill="#fff" stroke="none"/>
<ellipse cx="649.3" cy="356.6" rx="30.5" ry="41.0" transform="rotate(11 649.3 356.6)" fill="#fff" stroke="none"/>
<ellipse cx="654.8" cy="357.8" rx="30.5" ry="41.0" transform="rotate(11 654.8 357.8)" fill="#fff" stroke="none"/>
<ellipse cx="660.3" cy="358.9" rx="30.5" ry="41.0" transform="rotate(11 660.3 358.9)" fill="#fff" stroke="none"/>
<path d="M635.8,395.7 C633.7,395.0 633.5,395.5 629.7,393.6 C625.9,391.6 627.6,392.8 624.3,389.7 C621.0,386.7 622.4,388.4 619.7,384.4 C617.0,380.5 618.2,382.6 616.2,377.9 C614.3,373.2 615.0,375.6 613.9,370.3 C612.8,365.1 613.1,367.7 612.9,362.1 C612.7,356.5 612.6,359.3 613.2,353.6 C613.9,348.0 613.4,350.7 614.9,345.2 C616.5,339.8 615.5,342.3 617.9,337.3 C620.2,332.2 618.9,334.5 621.9,330.1 C625.0,325.7 623.4,327.6 627.0,324.1 C630.6,320.5 628.7,322.0 632.7,319.4 C636.7,316.8 634.8,317.8 639.0,316.3 C643.2,314.8 641.2,315.2 645.5,314.9 C649.7,314.6 649.7,315.2 651.8,315.3" stroke-width="1.25"/>
<path d="M635.8,395.7 L657.8,400.2"/>
<path d="M651.8,315.3 L673.8,319.8"/>
<path d="M644.7,397.4 C642.7,396.5 642.5,397.1 638.7,394.6 C635.0,392.2 636.6,393.6 633.4,390.1 C630.3,386.6 631.6,388.5 629.2,384.2 C626.7,379.8 627.7,382.1 626.1,377.0 C624.4,371.9 625.0,374.5 624.3,368.9 C623.6,363.4 623.7,366.1 623.9,360.3 C624.1,354.6 623.8,357.3 624.9,351.6 C626.1,345.9 625.3,348.6 627.3,343.2 C629.3,337.8 628.2,340.3 631.0,335.5 C633.8,330.6 632.3,332.8 635.7,328.7 C639.2,324.7 637.4,326.4 641.3,323.3 C645.3,320.3 643.3,321.5 647.6,319.5 C651.8,317.6 649.7,318.2 654.1,317.4 C658.5,316.7 658.5,317.3 660.7,317.2" stroke-width="0.55"/>
<ellipse cx="665.8" cy="360.0" rx="30.5" ry="41.0" transform="rotate(11 665.8 360.0)" fill="#fff" stroke-width="1.25"/>
<ellipse cx="665.5" cy="359.7" rx="28.4" ry="38.5" transform="rotate(11 665.5 359.7)" stroke-width="0.6"/>
<ellipse cx="665.5" cy="360.3" rx="20.4" ry="28.3" transform="rotate(11 665.5 360.3)" stroke-width="1.3"/>
<ellipse cx="665.0" cy="360.3" rx="18.9" ry="26.2" transform="rotate(11 665.0 360.3)" stroke-width="0.6"/>
<ellipse cx="664.6" cy="360.0" rx="15.9" ry="22.1" transform="rotate(11 664.6 360.0)" stroke-width="1.3"/>
<ellipse cx="663.6" cy="359.5" rx="12.8" ry="18.4" transform="rotate(11 663.6 359.5)" stroke-width="1.25"/>
<ellipse cx="662.8" cy="359.5" rx="11.6" ry="16.8" transform="rotate(11 662.8 359.5)" stroke-width="0.6"/>
<path id="tp1" d="M666.0,331.1 L667.9,330.9 L669.7,331.0 L671.5,331.2 L673.2,331.7 L674.9,332.3 L676.6,333.2 L678.1,334.2 L679.6,335.4 L681.0,336.8 L682.3,338.3 L683.4,340.0 L684.5,341.8 L685.4,343.7 L686.2,345.8 L686.8,347.9 L687.3,350.2" fill="none" stroke="none"/><text font-family="Liberation Sans, sans-serif" font-weight="700" font-style="italic" font-size="9.5" fill="#fff" stroke-width="0.75" letter-spacing="0.3"><textPath href="#tp1" startOffset="0">SAND</textPath></text>
<path d="M672.5,386.5 l3.8,-3.2 l2.6,2.6 l-3.8,3.4 z M677.5,382 l3.4,-3.6 l2.4,2.2 l-3.4,3.6 z M682,377 l2.8,-4 l2.3,1.6 l-2.8,4.2 z M685.5,371 l2.2,-4.4 l2.2,1.2 l-2.2,4.4 z M688.5,364.5 l1.3,-4.6 l2.2,0.7 l-1.4,4.6 z M690.3,357.3 l0.5,-4.6 l2.2,0.3 l-0.6,4.6 z" stroke-width="0.7"/>
<path d="M640.5,364 l2.4,-0.2 l0.8,10 l-2.3,0.4 z M641.8,376.5 l2.2,-0.6 l2,8.2 l-2.2,0.8 z" fill="#a0a0a5" stroke="none"/>
<path d="M659.7,351.8 L665.2,343.0 L670.0,347.1 L663.6,354.9" fill="#fff"/>
<path d="M666.4,343.4 L671.2,347.5" stroke-width="0.6"/>
<path d="M663.8,362.2 L670.7,369.4 L666.1,374.2 L660.1,365.7" fill="#fff"/>
<path d="M671.9,369.8 L667.3,374.6" stroke-width="0.6"/>
<path d="M654.9,362.4 L652.0,364.3 L651.5,356.1 L654.5,356.3" fill="#fff"/>
<path d="M653.2,364.7 L652.7,356.5" stroke-width="0.6"/>
<path d="M659.1,362.9 L654.7,362.9 L652.5,358.2 L654.7,353.5" fill="#fff"/>
<path d="M663.7,358.8 L661.5,363.5 L657.1,363.5 L654.9,358.8 L657.1,354.1 L661.5,354.1 Z" fill="#fff"/>
<path d="M657.1,363.5 L654.7,362.9"/>
<path d="M654.9,358.8 L652.5,358.2"/>
<path d="M657.1,354.1 L654.7,353.5"/>
<ellipse cx="659.9" cy="358.8" rx="2.0" ry="2.5"/>
<path d="M638.9,393.2 L640.0,397.9 L642.5,393.8 Q640.9,392.6 638.9,393.2" fill="#fff"/>
<path d="M631.1,385.6 L630.8,390.3 L634.4,387.1 Q633.1,385.5 631.1,385.6" fill="#fff"/>
<path d="M626.1,374.5 L624.3,378.9 L628.7,377.0 Q628.1,375.1 626.1,374.5" fill="#fff"/>
<path d="M624.7,361.3 L621.3,364.6 L626.1,364.6 Q626.2,362.6 624.7,361.3" fill="#fff"/>
<path d="M627.1,347.8 L622.6,349.2 L626.8,351.4 Q627.8,349.6 627.1,347.8" fill="#fff"/>
<path d="M632.7,335.6 L628.0,335.0 L630.9,338.7 Q632.6,337.6 632.7,335.6" fill="#fff"/>
<path d="M640.9,326.1 L636.8,323.8 L638.1,328.3 Q640.1,327.9 640.9,326.1" fill="#fff"/>
<path d="M650.7,320.3 L647.4,316.9 L647.3,321.6 Q649.3,321.8 650.7,320.3" fill="#fff"/>
<path d="M661.0,319.0 L658.8,314.8 L657.4,319.3 Q659.3,320.0 661.0,319.0" fill="#fff"/>
<path d="M643.9,393.1 L642.4,399.8 L647.1,394.8 Q645.9,393.2 643.9,393.1" fill="#fff"/>
<path d="M636.7,383.2 L633.3,389.1 L639.2,385.8 Q638.6,383.9 636.7,383.2" fill="#fff"/>
<path d="M633.2,370.0 L627.8,374.2 L634.5,373.4 Q634.7,371.4 633.2,370.0" fill="#fff"/>
<path d="M633.8,355.5 L627.1,356.8 L633.6,359.1 Q634.6,357.4 633.8,355.5" fill="#fff"/>
<path d="M638.5,341.7 L631.9,339.7 L636.6,344.7 Q638.3,343.7 638.5,341.7" fill="#fff"/>
<path d="M646.3,330.3 L641.1,325.8 L643.3,332.3 Q645.3,332.0 646.3,330.3" fill="#fff"/>
<path d="M656.3,322.6 L653.0,316.7 L652.8,323.5 Q654.8,324.0 656.3,322.6" fill="#fff"/>
<path d="M668.9,319.9 L667.7,313.1 L665.3,319.5 Q667.0,320.6 668.9,319.9" fill="#fff"/>
<path d="M682.5,325.2 L683.7,318.5 L679.2,323.6 Q680.4,325.2 682.5,325.2" fill="#fff"/>
<path d="M691.0,337.0 L694.6,331.2 L688.6,334.4 Q689.1,336.3 691.0,337.0" fill="#fff"/>
<path d="M694.3,353.2 L700.2,349.7 L693.3,349.7 Q692.9,351.7 694.3,353.2" fill="#fff"/>
<path d="M691.6,370.4 L698.4,370.7 L692.7,367.0 Q691.3,368.4 691.6,370.4" fill="#fff"/>
<path d="M683.8,385.4 L689.5,389.2 L686.5,383.0 Q684.6,383.5 683.8,385.4" fill="#fff"/>
<path d="M672.4,395.6 L676.0,401.5 L675.9,394.6 Q673.9,394.3 672.4,395.6" fill="#fff"/>
<path d="M659.3,399.3 L660.7,406.0 L662.9,399.5 Q661.2,398.5 659.3,399.3" fill="#fff"/>
<path d="M649.2,396.8 L648.9,403.7 L652.7,398.0 Q651.2,396.5 649.2,396.8" fill="#fff"/>
<ellipse cx="423.5" cy="451.5" rx="32.0" ry="43.5" transform="rotate(10 423.5 451.5)" fill="#fff" stroke="none"/>
<ellipse cx="429.0" cy="452.6" rx="32.0" ry="43.5" transform="rotate(10 429.0 452.6)" fill="#fff" stroke="none"/>
<ellipse cx="434.5" cy="453.8" rx="32.0" ry="43.5" transform="rotate(10 434.5 453.8)" fill="#fff" stroke="none"/>
<ellipse cx="440.0" cy="454.9" rx="32.0" ry="43.5" transform="rotate(10 440.0 454.9)" fill="#fff" stroke="none"/>
<path d="M415.3,494.2 C413.2,493.5 413.0,494.1 409.0,492.0 C405.0,489.9 406.8,491.1 403.3,487.9 C399.8,484.7 401.3,486.5 398.4,482.3 C395.6,478.1 396.8,480.3 394.7,475.3 C392.7,470.3 393.4,472.9 392.3,467.3 C391.1,461.7 391.4,464.5 391.1,458.6 C390.9,452.7 390.8,455.6 391.5,449.6 C392.1,443.6 391.6,446.5 393.2,440.7 C394.8,434.9 393.8,437.6 396.2,432.2 C398.6,426.8 397.3,429.3 400.4,424.6 C403.6,419.9 401.9,422.0 405.7,418.1 C409.4,414.3 407.5,415.9 411.7,413.2 C415.9,410.4 413.8,411.5 418.2,409.9 C422.7,408.3 420.5,408.7 425.0,408.4 C429.5,408.0 429.5,408.6 431.7,408.8" stroke-width="1.25"/>
<path d="M415.3,494.2 L437.3,498.7"/>
<path d="M431.7,408.8 L453.7,413.3"/>
<path d="M424.1,495.9 C422.1,494.9 421.8,495.5 417.9,493.0 C413.9,490.4 415.7,491.9 412.3,488.2 C409.0,484.5 410.4,486.5 407.8,481.9 C405.2,477.2 406.2,479.6 404.5,474.2 C402.8,468.8 403.4,471.6 402.6,465.7 C401.8,459.8 401.9,462.7 402.1,456.6 C402.3,450.5 402.0,453.4 403.1,447.3 C404.3,441.3 403.5,444.1 405.6,438.4 C407.7,432.7 406.5,435.3 409.4,430.2 C412.3,425.0 410.7,427.3 414.3,423.0 C417.9,418.7 416.1,420.5 420.2,417.2 C424.3,414.0 422.2,415.3 426.7,413.2 C431.2,411.1 429.0,411.8 433.6,410.9 C438.2,410.1 438.2,410.8 440.5,410.7" stroke-width="0.55"/>
<ellipse cx="445.5" cy="456.0" rx="32.0" ry="43.5" transform="rotate(10 445.5 456.0)" fill="#fff" stroke-width="1.25"/>
<ellipse cx="445.2" cy="455.7" rx="29.8" ry="40.9" transform="rotate(10 445.2 455.7)" stroke-width="0.6"/>
<ellipse cx="445.2" cy="456.3" rx="21.4" ry="30.0" transform="rotate(10 445.2 456.3)" stroke-width="1.3"/>
<ellipse cx="444.7" cy="456.3" rx="19.8" ry="27.8" transform="rotate(10 444.7 456.3)" stroke-width="0.6"/>
<ellipse cx="444.3" cy="456.0" rx="16.6" ry="23.5" transform="rotate(10 444.3 456.0)" stroke-width="1.3"/>
<ellipse cx="443.3" cy="455.5" rx="13.4" ry="19.6" transform="rotate(10 443.3 455.5)" stroke-width="1.25"/>
<ellipse cx="442.5" cy="455.5" rx="12.2" ry="17.8" transform="rotate(10 442.5 455.5)" stroke-width="0.6"/>
<path d="M449,430.5 l17.5,3.6 l-0.6,2.8 l-17.4,-3.8 z" fill="#a0a0a5" stroke="none"/>
<path id="tp2" d="M437.4,485.9 L435.6,485.2 L433.8,484.2 L432.2,483.0 L430.6,481.6 L429.2,480.1 L427.8,478.4 L426.6,476.5 L425.5,474.4 L424.6,472.2 L423.8,470.0 L423.2,467.6 L422.8,465.1 L422.5,462.5 L422.3,460.0 L422.4,457.3 L422.6,454.7" fill="none" stroke="none"/><text font-family="Liberation Sans, sans-serif" font-weight="700" font-style="italic" font-size="9.5" fill="#fff" stroke-width="0.75" letter-spacing="0.3"><textPath href="#tp2" startOffset="0">SAND</textPath></text>
<path d="M437,491.5 l4.4,1.6 l-0.8,2.6 l-4.6,-1.7 z M443.5,493.6 l4.6,0.4 l-0.2,2.7 l-4.6,-0.5 z M450.5,494 l4.4,-1.2 l0.8,2.5 l-4.6,1.4 z M457,492 l3.8,-2.6 l1.5,2.2 l-3.9,2.7 z M462.5,488 l3.2,-3.6 l2,1.7 l-3.2,3.7 z M467,482.3 l2.3,-4.2 l2.2,1.1 l-2.3,4.3 z" stroke-width="0.7"/>
<path d="M439.4,447.4 L445.1,438.0 L450.1,442.4 L443.5,450.7" fill="#fff"/>
<path d="M446.3,438.4 L451.3,442.8" stroke-width="0.6"/>
<path d="M443.8,458.4 L450.8,466.1 L446.0,471.1 L439.9,462.1" fill="#fff"/>
<path d="M452.0,466.5 L447.2,471.5" stroke-width="0.6"/>
<path d="M434.3,458.6 L431.1,460.6 L430.6,451.9 L433.9,452.1" fill="#fff"/>
<path d="M432.3,461.0 L431.8,452.3" stroke-width="0.6"/>
<path d="M438.8,458.9 L434.4,458.9 L432.2,454.2 L434.4,449.5" fill="#fff"/>
<path d="M443.4,454.8 L441.2,459.5 L436.8,459.5 L434.6,454.8 L436.8,450.1 L441.2,450.1 Z" fill="#fff"/>
<path d="M436.8,459.5 L434.4,458.9"/>
<path d="M434.6,454.8 L432.2,454.2"/>
<path d="M436.8,450.1 L434.4,449.5"/>
<ellipse cx="439.6" cy="454.8" rx="2.0" ry="2.5"/>
<path d="M418.5,491.7 L419.7,496.3 L422.1,492.2 Q420.4,491.1 418.5,491.7" fill="#fff"/>
<path d="M410.2,483.8 L410.0,488.5 L413.4,485.3 Q412.2,483.7 410.2,483.8" fill="#fff"/>
<path d="M404.8,472.2 L403.0,476.6 L407.4,474.6 Q406.7,472.7 404.8,472.2" fill="#fff"/>
<path d="M403.0,458.2 L399.7,461.6 L404.5,461.5 Q404.6,459.5 403.0,458.2" fill="#fff"/>
<path d="M405.2,443.8 L400.7,445.4 L405.0,447.4 Q406.0,445.7 405.2,443.8" fill="#fff"/>
<path d="M410.9,430.8 L406.2,430.2 L409.2,433.9 Q410.9,432.8 410.9,430.8" fill="#fff"/>
<path d="M419.3,420.5 L415.2,418.3 L416.6,422.8 Q418.5,422.4 419.3,420.5" fill="#fff"/>
<path d="M429.5,414.2 L426.2,410.8 L426.2,415.5 Q428.2,415.7 429.5,414.2" fill="#fff"/>
<path d="M440.3,412.5 L438.0,408.4 L436.7,412.9 Q438.6,413.6 440.3,412.5" fill="#fff"/>
<path d="M423.3,491.6 L421.9,498.3 L426.5,493.2 Q425.3,491.6 423.3,491.6" fill="#fff"/>
<path d="M415.5,481.3 L412.2,487.3 L418.1,483.8 Q417.5,481.9 415.5,481.3" fill="#fff"/>
<path d="M411.6,467.4 L406.2,471.7 L413.0,470.7 Q413.1,468.7 411.6,467.4" fill="#fff"/>
<path d="M412.0,452.0 L405.3,453.4 L411.8,455.6 Q412.8,453.8 412.0,452.0" fill="#fff"/>
<path d="M416.6,437.2 L410.0,435.3 L414.7,440.3 Q416.4,439.2 416.6,437.2" fill="#fff"/>
<path d="M424.6,424.9 L419.4,420.5 L421.6,426.9 Q423.6,426.7 424.6,424.9" fill="#fff"/>
<path d="M435.0,416.6 L431.5,410.7 L431.5,417.5 Q433.4,417.9 435.0,416.6" fill="#fff"/>
<path d="M448.1,413.3 L446.8,406.6 L444.5,413.1 Q446.3,414.1 448.1,413.3" fill="#fff"/>
<path d="M462.5,418.7 L463.6,412.0 L459.2,417.2 Q460.4,418.8 462.5,418.7" fill="#fff"/>
<path d="M471.6,431.0 L475.1,425.2 L469.1,428.4 Q469.7,430.3 471.6,431.0" fill="#fff"/>
<path d="M475.4,448.0 L481.2,444.5 L474.3,444.6 Q474.0,446.6 475.4,448.0" fill="#fff"/>
<path d="M472.9,466.4 L479.7,466.5 L473.9,462.9 Q472.6,464.4 472.9,466.4" fill="#fff"/>
<path d="M465.0,482.5 L470.8,486.2 L467.7,480.1 Q465.7,480.6 465.0,482.5" fill="#fff"/>
<path d="M453.2,493.6 L456.9,499.4 L456.7,492.5 Q454.7,492.2 453.2,493.6" fill="#fff"/>
<path d="M439.6,497.8 L441.1,504.4 L443.2,497.9 Q441.4,496.9 439.6,497.8" fill="#fff"/>
<path d="M428.9,495.4 L428.7,502.2 L432.4,496.5 Q430.9,495.1 428.9,495.4" fill="#fff"/>
</g>
<g id="leaders" fill="none" stroke="#303037" stroke-width="1.15" stroke-linejoin="round" stroke-linecap="round">
<path d="M316.0,193.0 L342.4,181.0 Q345.6,179.6 345.6,183.1 L345.6,218.5 Q345.6,222.0 342.5,223.5 L253.5,267.0 Q250.4,268.5 250.4,272.0 L250.4,410.5 Q250.4,414.0 253.6,412.6 L279.0,401.6"/>
<path d="M388.0,171.5 L425.2,154.8 Q428.4,153.4 428.4,156.9 L428.4,261.5 Q428.4,265.0 425.3,266.6 L336.5,310.9 Q333.4,312.5 333.4,316.0 L333.4,383.1 Q333.4,386.6 336.6,385.2 L361.0,375.0"/>
<path d="M407.0,251.0 L440.4,235.3 Q443.6,233.8 443.6,237.3 L443.6,274.5 Q443.6,278.0 440.5,279.5 L351.1,323.5 Q348.0,325.0 348.0,328.5 L348.0,465.5 Q348.0,469.0 351.2,467.7 L377.0,457.0"/>
<path d="M536.0,135.5 L549.3,129.3 Q552.5,127.8 552.5,131.3 L552.5,160.0 Q552.5,163.5 549.4,165.1 L489.3,195.9 Q486.2,197.5 486.2,201.0 L486.2,276.0"/>
<path d="M486.2,276.0 L486.2,313.0 Q486.2,315.0 488.1,314.3 L506.0,307.5" stroke-dasharray="4.5 2.6"/>
<path d="M580.0,125.5 L565.2,132.1 Q562.0,133.5 562.0,137.0 L562.0,227.5 Q562.0,231.0 565.2,229.6 L608.6,210.4 Q611.8,209.0 611.8,212.5 L611.8,262.5 Q611.8,266.0 608.6,267.4 L601.5,270.5"/>
<path d="M622.0,186.3 L646.0,175.4 Q649.2,174.0 649.2,177.5 L649.2,208.5 Q649.2,212.0 646.0,213.5 L614.5,228.3"/>
<path d="M609.0,231.0 L574.1,247.5 Q570.9,249.0 570.9,252.5 L570.9,362.0 Q570.9,365.5 574.2,364.2 L593.3,356.7"/>
<path d="M376,372.3 L721.5,422.7 M376,372.3 L721.5,447.2"/>
<path d="M721.5,422.7 V241.5 Q721.5,230.5 732.5,230.5 H983.5 Q994.5,230.5 994.5,241.5 V498.5 Q994.5,509.5 983.5,509.5 H732.5 Q721.5,509.5 721.5,498.5 V447.2"/>
</g>
<g transform="translate(316.4,342)" stroke="#303037" stroke-width="1.0" fill="#fff" stroke-linecap="round">
<path d="M1,-6.8 L5.5,-6.2 Q10,-4.6 10,0.3 Q10,5.0 5.5,6.3999999999999995 L1,6.8 Z" stroke="#4d4d54" stroke-width="0.9"/>
<ellipse cx="0" cy="0" rx="5.8" ry="6.8" stroke-width="1.0"/>
<path d="M3.1,-6.1 A5.8,6.8 0 1 0 3.1,6.1" fill="none" stroke-width="1.8"/>
<path d="M-4.2,0.4 H0.8 M-1.7,-2.6 V3.2" stroke-width="1.5" fill="none"/>
<circle cx="-1.6" cy="0.3" r="3.1" fill="none" stroke-width="0.7"/>
</g>
<g transform="translate(287,398)" stroke="#303037" stroke-width="1.0" fill="#fff" stroke-linecap="round">
<path d="M1,-6.8 L5.5,-6.2 Q10,-4.6 10,0.3 Q10,5.0 5.5,6.3999999999999995 L1,6.8 Z" stroke="#4d4d54" stroke-width="0.9"/>
<ellipse cx="0" cy="0" rx="5.8" ry="6.8" stroke-width="1.0"/>
<path d="M3.1,-6.1 A5.8,6.8 0 1 0 3.1,6.1" fill="none" stroke-width="1.8"/>
<path d="M-4.2,0.4 H0.8 M-1.7,-2.6 V3.2" stroke-width="1.5" fill="none"/>
<circle cx="-1.6" cy="0.3" r="3.1" fill="none" stroke-width="0.7"/>
</g>
<g transform="translate(369,371.6)" stroke="#303037" stroke-width="1.0" fill="#fff" stroke-linecap="round">
<path d="M1,-6.8 L5.5,-6.2 Q10,-4.6 10,0.3 Q10,5.0 5.5,6.3999999999999995 L1,6.8 Z" stroke="#4d4d54" stroke-width="0.9"/>
<ellipse cx="0" cy="0" rx="5.8" ry="6.8" stroke-width="1.0"/>
<path d="M3.1,-6.1 A5.8,6.8 0 1 0 3.1,6.1" fill="none" stroke-width="1.8"/>
<path d="M-4.2,0.4 H0.8 M-1.7,-2.6 V3.2" stroke-width="1.5" fill="none"/>
<circle cx="-1.6" cy="0.3" r="3.1" fill="none" stroke-width="0.7"/>
</g>
<g transform="translate(385,453)" stroke="#303037" stroke-width="1.0" fill="#fff" stroke-linecap="round">
<path d="M1,-6.8 L5.5,-6.2 Q10,-4.6 10,0.3 Q10,5.0 5.5,6.3999999999999995 L1,6.8 Z" stroke="#4d4d54" stroke-width="0.9"/>
<ellipse cx="0" cy="0" rx="5.8" ry="6.8" stroke-width="1.0"/>
<path d="M3.1,-6.1 A5.8,6.8 0 1 0 3.1,6.1" fill="none" stroke-width="1.8"/>
<path d="M-4.2,0.4 H0.8 M-1.7,-2.6 V3.2" stroke-width="1.5" fill="none"/>
<circle cx="-1.6" cy="0.3" r="3.1" fill="none" stroke-width="0.7"/>
</g>
<g transform="translate(513.3,304)" stroke="#303037" stroke-width="1.0" fill="#fff" stroke-linecap="round">
<path d="M1,-6.8 L5.5,-6.2 Q10,-4.6 10,0.3 Q10,5.0 5.5,6.3999999999999995 L1,6.8 Z" stroke="#4d4d54" stroke-width="0.9"/>
<ellipse cx="0" cy="0" rx="5.8" ry="6.8" stroke-width="1.0"/>
<path d="M3.1,-6.1 A5.8,6.8 0 1 0 3.1,6.1" fill="none" stroke-width="1.8"/>
<path d="M-4.2,0.4 H0.8 M-1.7,-2.6 V3.2" stroke-width="1.5" fill="none"/>
<circle cx="-1.6" cy="0.3" r="3.1" fill="none" stroke-width="0.7"/>
</g>
<g transform="translate(600.8,353)" stroke="#303037" stroke-width="1.0" fill="#fff" stroke-linecap="round">
<path d="M1,-6.8 L5.5,-6.2 Q10,-4.6 10,0.3 Q10,5.0 5.5,6.3999999999999995 L1,6.8 Z" stroke="#4d4d54" stroke-width="0.9"/>
<ellipse cx="0" cy="0" rx="5.8" ry="6.8" stroke-width="1.0"/>
<path d="M3.1,-6.1 A5.8,6.8 0 1 0 3.1,6.1" fill="none" stroke-width="1.8"/>
<path d="M-4.2,0.4 H0.8 M-1.7,-2.6 V3.2" stroke-width="1.5" fill="none"/>
<circle cx="-1.6" cy="0.3" r="3.1" fill="none" stroke-width="0.7"/>
</g>
<path d="M518.4,233.6 A5.6,5.6 0 1 1 519.2,239.2" fill="#fff" stroke="#303037" stroke-width="1.3"/>
<path d="M589.4,275.3 A5.8,5.8 0 0 1 600.7,277.6" fill="none" stroke="#303037" stroke-width="1.3"/>
<g transform="translate(314.2,150.8) rotate(28)" fill="#fff" stroke="#303037" stroke-width="1.15" stroke-linejoin="round" stroke-linecap="round">
<circle cx="0" cy="64.0" r="8"/>
<path d="M1.5,57.0 v5 h3.5 v-4" fill="none" stroke-width="0.9"/>
<path d="M-10.0,53.0 V56.9 Q0,61.8 10.0,56.9 V53.0 Q0,57.0 -10.0,53.0 Z"/>
<path d="M-10.0,55.6 Q0,59.8 10.0,55.6" fill="none" stroke-width="1.3"/>
<path d="M-8.0,58.4 Q0,64.4 8.0,58.4" fill="none"/>
<path d="M-1.6,35.0 V53.3 M1.6,35.0 V53.3" fill="none" stroke-width="0.9"/>
<path d="M-7.5,19.8 V36.6 Q0,40.1 7.5,36.6 V19.8 Z"/>
<path d="M-9.7,22.0 Q0,27.2 9.7,21.4" fill="none" stroke-width="1.1500000000000001"/>
<path d="M-9.7,25.6 Q0,30.8 9.7,25.0" fill="none" stroke-width="1.1500000000000001"/>
<path d="M-9.7,29.2 Q0,34.4 9.7,28.6" fill="none" stroke-width="1.1500000000000001"/>
<path d="M-9.7,32.8 Q0,38.0 9.7,32.2" fill="none" stroke-width="1.1500000000000001"/>
<path d="M-9.7,36.2 Q0,42.2 9.7,35.6" fill="none" stroke-width="1.45"/>
<path d="M-9.7,36.2 Q-11.2,35.0 -8.5,34.2 M9.7,35.6 Q11.0,34.2 8.0,33.4" fill="none" stroke-width="0.8"/>
<path d="M-9.7,39.7 Q0,45.7 9.7,39.1" fill="none" stroke-width="1.45"/>
<path d="M-9.7,39.7 Q-11.2,38.5 -8.5,37.7 M9.7,39.1 Q11.0,37.7 8.0,36.9" fill="none" stroke-width="0.8"/>
<path d="M-9.7,43.3 Q0,49.3 9.7,42.7" fill="none" stroke-width="1.45"/>
<path d="M-9.7,43.3 Q-11.2,42.1 -8.5,41.3 M9.7,42.7 Q11.0,41.3 8.0,40.5" fill="none" stroke-width="0.8"/>
<path d="M-9.7,46.9 Q0,52.9 9.7,46.3" fill="none" stroke-width="1.45"/>
<path d="M-9.7,46.9 Q-11.2,45.7 -8.5,44.9 M9.7,46.3 Q11.0,44.9 8.0,44.1" fill="none" stroke-width="0.8"/>
<path d="M-9.7,49.6 Q0,55.6 9.7,49.0" fill="none" stroke-width="1.45"/>
<path d="M-9.7,49.6 Q-11.2,48.4 -8.5,47.6 M9.7,49.0 Q11.0,47.6 8.0,46.8" fill="none" stroke-width="0.8"/>
<path d="M-10.0,20.6 V35.8 M10.0,20.6 V35.8" fill="none" stroke-width="0.8"/>
<path d="M-10.0,16.8 V21.3 Q0,25.3 10.0,21.3 V16.8 Z"/>
<path d="M-10.0,19.0 Q0,23.0 10.0,19.0" fill="none"/>
<path d="M-10.0,9.5 V17.1 Q0,21.1 10.0,17.1 V9.5 Q10.0,7.0 0,7.0 Q-10.0,7.0 -10.0,9.5 Z"/>
<path d="M-10.0,9.5 Q0,13.5 10.0,9.5" fill="none"/>
<path d="M-5.5,6 V10.5 Q0,12.5 5.5,10.5 V6 Z"/>
<ellipse cx="0" cy="0" rx="7.9" ry="9" stroke-width="1.3"/>
<ellipse cx="-0.5" cy="-0.2" rx="5.8" ry="6.9" fill="none" stroke-width="0.7"/>
<ellipse cx="-0.9" cy="-0.1" rx="3.9" ry="5.2" />
</g>
<g transform="translate(367.3,179.8) rotate(-11.8)" fill="#fff" stroke="#303037" stroke-width="1.15" stroke-linejoin="round" stroke-linecap="round">
<circle cx="0" cy="84.0" r="8"/>
<path d="M1.5,77.0 v5 h3.5 v-4" fill="none" stroke-width="0.9"/>
<path d="M-10.0,69.5 V75.5 Q0,80.4 10.0,75.5 V69.5 Q0,73.5 -10.0,69.5 Z"/>
<path d="M-10.0,72.1 Q0,76.3 10.0,72.1" fill="none" stroke-width="1.3"/>
<path d="M-8.0,77.0 Q0,83.0 8.0,77.0" fill="none"/>
<path d="M-1.6,46.0 V70.0 M1.6,46.0 V70.0" fill="none" stroke-width="0.9"/>
<path d="M-7.5,26.0 V48.0 Q0,51.5 7.5,48.0 V26.0 Z"/>
<path d="M-9.7,29.3 Q0,34.5 9.7,28.7" fill="none" stroke-width="1.1500000000000001"/>
<path d="M-9.7,34.0 Q0,39.2 9.7,33.4" fill="none" stroke-width="1.1500000000000001"/>
<path d="M-9.7,38.7 Q0,43.9 9.7,38.1" fill="none" stroke-width="1.1500000000000001"/>
<path d="M-9.7,43.4 Q0,48.6 9.7,42.8" fill="none" stroke-width="1.1500000000000001"/>
<path d="M-9.7,47.9 Q0,53.9 9.7,47.3" fill="none" stroke-width="1.45"/>
<path d="M-9.7,47.9 Q-11.2,46.7 -8.5,45.9 M9.7,47.3 Q11.0,45.9 8.0,45.1" fill="none" stroke-width="0.8"/>
<path d="M-9.7,52.6 Q0,58.6 9.7,52.0" fill="none" stroke-width="1.45"/>
<path d="M-9.7,52.6 Q-11.2,51.4 -8.5,50.6 M9.7,52.0 Q11.0,50.6 8.0,49.8" fill="none" stroke-width="0.8"/>
<path d="M-9.7,57.3 Q0,63.3 9.7,56.7" fill="none" stroke-width="1.45"/>
<path d="M-9.7,57.3 Q-11.2,56.1 -8.5,55.3 M9.7,56.7 Q11.0,55.3 8.0,54.5" fill="none" stroke-width="0.8"/>
<path d="M-9.7,62.0 Q0,68.0 9.7,61.4" fill="none" stroke-width="1.45"/>
<path d="M-9.7,62.0 Q-11.2,60.8 -8.5,60.0 M9.7,61.4 Q11.0,60.0 8.0,59.2" fill="none" stroke-width="0.8"/>
<path d="M-9.7,65.6 Q0,71.6 9.7,65.0" fill="none" stroke-width="1.45"/>
<path d="M-9.7,65.6 Q-11.2,64.4 -8.5,63.6 M9.7,65.0 Q11.0,63.6 8.0,62.8" fill="none" stroke-width="0.8"/>
<path d="M-10.0,27.0 V47.0 M10.0,27.0 V47.0" fill="none" stroke-width="0.8"/>
<path d="M-10.0,22.0 V28.0 Q0,32.0 10.0,28.0 V22.0 Z"/>
<path d="M-10.0,24.2 Q0,28.2 10.0,24.2" fill="none"/>
<path d="M-10.0,9.5 V22.5 Q0,26.5 10.0,22.5 V9.5 Q10.0,7.0 0,7.0 Q-10.0,7.0 -10.0,9.5 Z"/>
<path d="M-10.0,9.5 Q0,13.5 10.0,9.5" fill="none"/>
<path d="M-5.5,6 V10.5 Q0,12.5 5.5,10.5 V6 Z"/>
<ellipse cx="0" cy="0" rx="7.9" ry="9" stroke-width="1.3"/>
<ellipse cx="-0.5" cy="-0.2" rx="5.8" ry="6.9" fill="none" stroke-width="0.7"/>
<ellipse cx="-0.9" cy="-0.1" rx="3.9" ry="5.2" />
</g>
<g transform="translate(522,80) rotate(9)" fill="#fff" stroke="#303037" stroke-width="1.15" stroke-linejoin="round" stroke-linecap="round">
<circle cx="0" cy="71.0" r="8"/>
<path d="M1.5,64.0 v5 h3.5 v-4" fill="none" stroke-width="0.9"/>
<path d="M-10.0,58.7 V63.4 Q0,68.3 10.0,63.4 V58.7 Q0,62.7 -10.0,58.7 Z"/>
<path d="M-10.0,61.3 Q0,65.5 10.0,61.3" fill="none" stroke-width="1.3"/>
<path d="M-8.0,64.9 Q0,70.9 8.0,64.9" fill="none"/>
<path d="M-1.6,38.9 V59.2 M1.6,38.9 V59.2" fill="none" stroke-width="0.9"/>
<path d="M-7.5,22.0 V40.6 Q0,44.1 7.5,40.6 V22.0 Z"/>
<path d="M-9.7,24.6 Q0,29.8 9.7,24.0" fill="none" stroke-width="1.1500000000000001"/>
<path d="M-9.7,28.6 Q0,33.8 9.7,28.0" fill="none" stroke-width="1.1500000000000001"/>
<path d="M-9.7,32.5 Q0,37.7 9.7,31.9" fill="none" stroke-width="1.1500000000000001"/>
<path d="M-9.7,36.5 Q0,41.7 9.7,35.9" fill="none" stroke-width="1.1500000000000001"/>
<path d="M-9.7,40.3 Q0,46.3 9.7,39.7" fill="none" stroke-width="1.45"/>
<path d="M-9.7,40.3 Q-11.2,39.1 -8.5,38.3 M9.7,39.7 Q11.0,38.3 8.0,37.5" fill="none" stroke-width="0.8"/>
<path d="M-9.7,44.2 Q0,50.2 9.7,43.6" fill="none" stroke-width="1.45"/>
<path d="M-9.7,44.2 Q-11.2,43.0 -8.5,42.2 M9.7,43.6 Q11.0,42.2 8.0,41.4" fill="none" stroke-width="0.8"/>
<path d="M-9.7,48.2 Q0,54.2 9.7,47.6" fill="none" stroke-width="1.45"/>
<path d="M-9.7,48.2 Q-11.2,47.0 -8.5,46.2 M9.7,47.6 Q11.0,46.2 8.0,45.4" fill="none" stroke-width="0.8"/>
<path d="M-9.7,52.2 Q0,58.2 9.7,51.6" fill="none" stroke-width="1.45"/>
<path d="M-9.7,52.2 Q-11.2,51.0 -8.5,50.2 M9.7,51.6 Q11.0,50.2 8.0,49.4" fill="none" stroke-width="0.8"/>
<path d="M-9.7,55.2 Q0,61.2 9.7,54.6" fill="none" stroke-width="1.45"/>
<path d="M-9.7,55.2 Q-11.2,54.0 -8.5,53.2 M9.7,54.6 Q11.0,53.2 8.0,52.4" fill="none" stroke-width="0.8"/>
<path d="M-10.0,22.8 V39.7 M10.0,22.8 V39.7" fill="none" stroke-width="0.8"/>
<path d="M-10.0,18.6 V23.7 Q0,27.7 10.0,23.7 V18.6 Z"/>
<path d="M-10.0,20.8 Q0,24.8 10.0,20.8" fill="none"/>
<path d="M-10.0,9.5 V19.0 Q0,23.0 10.0,19.0 V9.5 Q10.0,7.0 0,7.0 Q-10.0,7.0 -10.0,9.5 Z"/>
<path d="M-10.0,9.5 Q0,13.5 10.0,9.5" fill="none"/>
<path d="M-5.5,6 V10.5 Q0,12.5 5.5,10.5 V6 Z"/>
<ellipse cx="0" cy="0" rx="7.9" ry="9" stroke-width="1.3"/>
<ellipse cx="-0.5" cy="-0.2" rx="5.8" ry="6.9" fill="none" stroke-width="0.7"/>
<ellipse cx="-0.9" cy="-0.1" rx="3.9" ry="5.2" />
</g>
<g transform="translate(593.3,120) rotate(-4.7)" fill="#fff" stroke="#303037" stroke-width="1.15" stroke-linejoin="round" stroke-linecap="round">
<circle cx="0" cy="78.6" r="8"/>
<path d="M1.5,71.6 v5 h3.5 v-4" fill="none" stroke-width="0.9"/>
<path d="M-10.0,65.0 V70.5 Q0,75.4 10.0,70.5 V65.0 Q0,69.0 -10.0,65.0 Z"/>
<path d="M-10.0,67.6 Q0,71.8 10.0,67.6" fill="none" stroke-width="1.3"/>
<path d="M-8.0,72.0 Q0,78.0 8.0,72.0" fill="none"/>
<path d="M-1.6,43.0 V65.5 M1.6,43.0 V65.5" fill="none" stroke-width="0.9"/>
<path d="M-7.5,24.3 V44.9 Q0,48.4 7.5,44.9 V24.3 Z"/>
<path d="M-9.7,27.3 Q0,32.5 9.7,26.7" fill="none" stroke-width="1.1500000000000001"/>
<path d="M-9.7,31.7 Q0,36.9 9.7,31.1" fill="none" stroke-width="1.1500000000000001"/>
<path d="M-9.7,36.1 Q0,41.3 9.7,35.5" fill="none" stroke-width="1.1500000000000001"/>
<path d="M-9.7,40.5 Q0,45.7 9.7,39.9" fill="none" stroke-width="1.1500000000000001"/>
<path d="M-9.7,44.7 Q0,50.7 9.7,44.1" fill="none" stroke-width="1.45"/>
<path d="M-9.7,44.7 Q-11.2,43.5 -8.5,42.7 M9.7,44.1 Q11.0,42.7 8.0,41.9" fill="none" stroke-width="0.8"/>
<path d="M-9.7,49.1 Q0,55.1 9.7,48.5" fill="none" stroke-width="1.45"/>
<path d="M-9.7,49.1 Q-11.2,47.9 -8.5,47.1 M9.7,48.5 Q11.0,47.1 8.0,46.3" fill="none" stroke-width="0.8"/>
<path d="M-9.7,53.5 Q0,59.5 9.7,52.9" fill="none" stroke-width="1.45"/>
<path d="M-9.7,53.5 Q-11.2,52.3 -8.5,51.5 M9.7,52.9 Q11.0,51.5 8.0,50.7" fill="none" stroke-width="0.8"/>
<path d="M-9.7,57.9 Q0,63.9 9.7,57.3" fill="none" stroke-width="1.45"/>
<path d="M-9.7,57.9 Q-11.2,56.7 -8.5,55.9 M9.7,57.3 Q11.0,55.9 8.0,55.1" fill="none" stroke-width="0.8"/>
<path d="M-9.7,61.3 Q0,67.3 9.7,60.7" fill="none" stroke-width="1.45"/>
<path d="M-9.7,61.3 Q-11.2,60.1 -8.5,59.3 M9.7,60.7 Q11.0,59.3 8.0,58.5" fill="none" stroke-width="0.8"/>
<path d="M-10.0,25.3 V44.0 M10.0,25.3 V44.0" fill="none" stroke-width="0.8"/>
<path d="M-10.0,20.6 V26.2 Q0,30.2 10.0,26.2 V20.6 Z"/>
<path d="M-10.0,22.8 Q0,26.8 10.0,22.8" fill="none"/>
<path d="M-10.0,9.5 V21.1 Q0,25.1 10.0,21.1 V9.5 Q10.0,7.0 0,7.0 Q-10.0,7.0 -10.0,9.5 Z"/>
<path d="M-10.0,9.5 Q0,13.5 10.0,9.5" fill="none"/>
<path d="M-5.5,6 V10.5 Q0,12.5 5.5,10.5 V6 Z"/>
<ellipse cx="0" cy="0" rx="7.9" ry="9" stroke-width="1.3"/>
<ellipse cx="-0.5" cy="-0.2" rx="5.8" ry="6.9" fill="none" stroke-width="0.7"/>
<ellipse cx="-0.9" cy="-0.1" rx="3.9" ry="5.2" />
</g>
<path d="M305.0,198.0 L315.0,188.5 L318.7,196.7 Z" fill="#303037" stroke="none"/>
<path d="M377.0,176.4 L387.0,167.0 L390.7,175.2 Z" fill="#303037" stroke="none"/>
<path d="M396.0,256.0 L405.9,246.4 L409.7,254.6 Z" fill="#303037" stroke="none"/>
<path d="M525.8,140.5 L535.6,130.9 L539.5,139.0 Z" fill="#303037" stroke="none"/>
<path d="M591.0,120.6 L581.0,130.0 L577.3,121.8 Z" fill="#303037" stroke="none"/>
<path d="M611.3,191.3 L621.3,181.8 L625.0,190.0 Z" fill="#303037" stroke="none"/>
<clipPath id="ic"><rect x="737" y="341" width="241" height="158.5"/></clipPath>
<g id="inset" clip-path="url(#ic)" fill="none" stroke="#303037" stroke-width="1.15" stroke-linecap="round" stroke-linejoin="round">
<path d="M799.9,429.4 L809.9,424.4 L798.7,418.8 L803.6,421.3"/>
<path d="M804.5,462.4 L816.7,468.5"/>
<path d="M806.1,459.2 L818.3,465.3"/>
<ellipse cx="817.5" cy="466.9" rx="1.0" ry="1.8" transform="rotate(26.5 817.5 466.9)"/>
<path d="M804.5,462.4 C804.4,462.4 804.4,462.4 804.3,462.3 C804.2,462.2 804.2,462.3 804.2,462.1 C804.1,462.0 804.1,462.0 804.1,461.9 C804.1,461.7 804.1,461.8 804.1,461.6 C804.1,461.4 804.0,461.5 804.1,461.2 C804.1,461.0 804.1,461.1 804.2,460.9 C804.2,460.7 804.2,460.8 804.3,460.5 C804.4,460.3 804.3,460.4 804.5,460.2 C804.6,460.0 804.5,460.1 804.7,459.9 C804.8,459.7 804.7,459.8 804.9,459.6 C805.0,459.5 805.0,459.5 805.1,459.4 C805.3,459.3 805.2,459.3 805.4,459.3 C805.5,459.2 805.5,459.2 805.6,459.2 C805.8,459.1 805.7,459.1 805.9,459.2 C806.0,459.2 806.0,459.2 806.1,459.2"/>
<path d="M769.6,430.8 L778.9,435.4 L788.7,440.3 L783.8,437.9"/>
<path d="M809.1,423.3 L818.8,418.5 L823.4,416.2 L818.2,413.6"/>
<path d="M822.3,460.6 L832.5,465.7"/>
<path d="M824.3,456.7 L834.5,461.8"/>
<ellipse cx="833.5" cy="463.8" rx="1.2" ry="2.2" transform="rotate(26.5 833.5 463.8)"/>
<path d="M822.3,460.6 C822.3,460.6 822.2,460.6 822.1,460.5 C822.0,460.4 822.0,460.4 822.0,460.3 C821.9,460.1 821.9,460.2 821.9,459.9 C821.8,459.7 821.8,459.8 821.8,459.6 C821.8,459.3 821.8,459.5 821.9,459.2 C821.9,458.9 821.9,459.1 822.0,458.8 C822.0,458.5 822.0,458.6 822.1,458.4 C822.2,458.1 822.2,458.2 822.3,457.9 C822.5,457.7 822.4,457.8 822.6,457.6 C822.7,457.3 822.6,457.4 822.8,457.2 C823.0,457.0 822.9,457.1 823.1,457.0 C823.3,456.8 823.2,456.9 823.4,456.8 C823.6,456.7 823.5,456.7 823.7,456.7 C823.9,456.6 823.8,456.6 824.0,456.7 C824.2,456.7 824.2,456.7 824.3,456.7"/>
<ellipse cx="785.0" cy="412.7" rx="5.3" ry="5.4"/>
<ellipse cx="784.7" cy="412.7" rx="2.9" ry="2.9"/>
<ellipse cx="785.7" cy="434.9" rx="4.2" ry="4.8" transform="rotate(-15 785.7 434.9)"/>
<ellipse cx="785.4" cy="434.9" rx="2.3" ry="2.7"/>
<path d="M799.0,457.0 L804.3,454.4 L797.3,457.9 L804.5,461.5"/>
<path d="M834.9,467.0 L824.8,472.1 L834.0,467.5 L822.9,461.9"/>
<path d="M739.1,417.1 L748.0,412.7"/>
<path d="M736.3,411.6 L745.2,407.1"/>
<ellipse cx="746.6" cy="409.9" rx="1.7" ry="3.1" transform="rotate(-26.5 746.6 409.9)"/>
<path d="M739.1,417.1 C739.0,417.1 739.0,417.2 738.8,417.2 C738.5,417.2 738.6,417.2 738.4,417.2 C738.1,417.1 738.2,417.2 737.9,417.0 C737.6,416.9 737.8,417.0 737.5,416.8 C737.2,416.6 737.3,416.7 737.1,416.4 C736.8,416.1 736.9,416.3 736.7,415.9 C736.4,415.6 736.5,415.8 736.3,415.4 C736.1,415.0 736.2,415.2 736.0,414.8 C735.9,414.4 735.9,414.6 735.8,414.2 C735.7,413.8 735.7,414.0 735.7,413.6 C735.6,413.2 735.6,413.4 735.6,413.1 C735.6,412.7 735.6,412.9 735.7,412.5 C735.8,412.2 735.7,412.4 735.8,412.1 C735.9,411.9 735.9,412.0 736.0,411.8 C736.2,411.6 736.2,411.6 736.3,411.6"/>
<path d="M800.9,403.4 L800.9,415.8 L797.0,417.7"/>
<path d="M809.6,466.8 L824.2,459.5"/>
<path d="M807.2,462.1 L821.9,454.7"/>
<ellipse cx="823.1" cy="457.1" rx="1.5" ry="2.6" transform="rotate(-26.5 823.1 457.1)"/>
<path d="M809.6,466.8 C809.5,466.8 809.5,466.8 809.3,466.9 C809.1,466.9 809.2,466.9 808.9,466.8 C808.7,466.8 808.8,466.8 808.6,466.7 C808.3,466.6 808.4,466.7 808.2,466.5 C808.0,466.3 808.1,466.4 807.8,466.2 C807.6,465.9 807.7,466.0 807.5,465.8 C807.3,465.5 807.4,465.6 807.2,465.3 C807.0,465.0 807.1,465.2 807.0,464.8 C806.8,464.5 806.9,464.6 806.8,464.3 C806.7,464.0 806.7,464.1 806.7,463.8 C806.6,463.5 806.6,463.6 806.6,463.3 C806.6,463.0 806.6,463.2 806.7,462.9 C806.7,462.6 806.7,462.7 806.8,462.5 C806.9,462.3 806.8,462.4 807.0,462.2 C807.1,462.1 807.1,462.1 807.2,462.1"/>
<path d="M750.7,437.9 L756.4,435.1 L756.4,446.5 L750.8,449.3"/>
<path d="M744.3,402.1 L749.9,399.4"/>
<path d="M742.9,399.3 L748.5,396.5"/>
<ellipse cx="749.2" cy="397.9" rx="0.9" ry="1.6" transform="rotate(-26.5 749.2 397.9)"/>
<path d="M744.3,402.1 C744.3,402.1 744.3,402.2 744.1,402.2 C744.0,402.2 744.1,402.2 743.9,402.2 C743.8,402.1 743.9,402.2 743.7,402.1 C743.6,402.0 743.6,402.1 743.5,402.0 C743.4,401.8 743.4,401.9 743.3,401.8 C743.1,401.6 743.2,401.7 743.1,401.5 C743.0,401.4 743.0,401.4 742.9,401.3 C742.8,401.1 742.8,401.2 742.8,401.0 C742.7,400.8 742.7,400.9 742.6,400.6 C742.6,400.4 742.6,400.5 742.6,400.3 C742.5,400.1 742.6,400.2 742.6,400.1 C742.6,399.9 742.5,400.0 742.6,399.8 C742.6,399.6 742.6,399.7 742.6,399.6 C742.7,399.4 742.7,399.5 742.8,399.4 C742.8,399.3 742.9,399.3 742.9,399.3"/>
<path d="M759.3,421.0 L772.4,414.4"/>
<path d="M757.3,417.0 L770.4,410.4"/>
<ellipse cx="771.4" cy="412.4" rx="1.3" ry="2.2" transform="rotate(-26.5 771.4 412.4)"/>
<path d="M759.3,421.0 C759.2,421.0 759.2,421.1 759.0,421.1 C758.8,421.1 758.9,421.1 758.7,421.1 C758.5,421.0 758.6,421.1 758.4,421.0 C758.2,420.9 758.3,420.9 758.1,420.8 C757.9,420.6 758.0,420.7 757.8,420.5 C757.6,420.3 757.7,420.4 757.5,420.2 C757.3,419.9 757.4,420.0 757.2,419.8 C757.1,419.5 757.2,419.6 757.0,419.3 C756.9,419.1 757.0,419.2 756.9,418.9 C756.8,418.6 756.8,418.8 756.8,418.5 C756.7,418.2 756.8,418.3 756.8,418.1 C756.8,417.8 756.7,417.9 756.8,417.7 C756.8,417.5 756.8,417.6 756.9,417.4 C757.0,417.2 756.9,417.3 757.0,417.1 C757.2,417.0 757.2,417.0 757.3,417.0"/>
<path d="M821.9,407.7 L833.7,401.8 L825.0,397.5 L813.4,391.7"/>
<ellipse cx="775.5" cy="416.1" rx="4.0" ry="4.6" transform="rotate(-15 775.5 416.1)"/>
<ellipse cx="775.2" cy="416.1" rx="2.2" ry="2.5"/>
<path d="M782.6,455.1 L794.8,449.0"/>
<path d="M779.8,449.6 L792.1,443.5"/>
<ellipse cx="793.4" cy="446.2" rx="1.7" ry="3.1" transform="rotate(-26.5 793.4 446.2)"/>
<path d="M782.6,455.1 C782.5,455.2 782.5,455.2 782.2,455.2 C782.0,455.3 782.1,455.3 781.8,455.2 C781.5,455.1 781.7,455.2 781.4,455.1 C781.1,454.9 781.2,455.0 781.0,454.8 C780.7,454.6 780.8,454.7 780.5,454.4 C780.3,454.1 780.4,454.3 780.1,453.9 C779.9,453.6 780.0,453.8 779.8,453.4 C779.6,453.0 779.7,453.2 779.5,452.8 C779.3,452.4 779.4,452.6 779.3,452.2 C779.2,451.8 779.2,452.0 779.1,451.6 C779.1,451.2 779.1,451.4 779.1,451.1 C779.1,450.7 779.1,450.9 779.1,450.6 C779.2,450.2 779.2,450.4 779.3,450.1 C779.4,449.9 779.3,450.0 779.5,449.8 C779.7,449.6 779.7,449.6 779.8,449.6"/>
<ellipse cx="812.2" cy="426.9" rx="4.0" ry="4.8" transform="rotate(-15 812.2 426.9)"/>
<ellipse cx="811.9" cy="426.9" rx="2.2" ry="2.6"/>
<path d="M760.6,442.2 L769.9,437.6"/>
<path d="M758.7,438.3 L767.9,433.7"/>
<ellipse cx="768.9" cy="435.7" rx="1.2" ry="2.2" transform="rotate(-26.5 768.9 435.7)"/>
<path d="M760.6,442.2 C760.6,442.3 760.6,442.3 760.4,442.3 C760.2,442.3 760.3,442.3 760.1,442.3 C759.9,442.3 760.0,442.3 759.8,442.2 C759.6,442.1 759.7,442.2 759.5,442.0 C759.3,441.9 759.4,441.9 759.2,441.7 C759.0,441.5 759.1,441.6 758.9,441.4 C758.7,441.2 758.8,441.3 758.7,441.0 C758.5,440.8 758.6,440.9 758.5,440.6 C758.3,440.3 758.4,440.5 758.3,440.2 C758.2,439.9 758.3,440.0 758.2,439.8 C758.2,439.5 758.2,439.6 758.2,439.4 C758.2,439.1 758.2,439.2 758.2,439.0 C758.3,438.8 758.2,438.9 758.3,438.7 C758.4,438.5 758.3,438.6 758.5,438.5 C758.6,438.3 758.6,438.4 758.7,438.3"/>
<ellipse cx="754.1" cy="421.1" rx="3.6" ry="4.0" transform="rotate(-15 754.1 421.1)"/>
<ellipse cx="753.8" cy="421.1" rx="2.0" ry="2.2"/>
<path d="M803.1,459.0 L795.2,455.1 L783.3,461.0"/>
<path d="M829.8,462.5 L829.8,475.8"/>
<path d="M835.0,462.5 L835.0,475.8"/>
<ellipse cx="832.4" cy="475.8" rx="1.4" ry="2.6" transform="rotate(90.0 832.4 475.8)"/>
<path d="M829.8,462.5 C829.9,462.4 829.8,462.4 829.9,462.2 C830.0,462.0 829.9,462.1 830.1,462.0 C830.2,461.8 830.1,461.9 830.3,461.7 C830.5,461.5 830.4,461.6 830.7,461.5 C831.0,461.3 830.8,461.4 831.1,461.3 C831.4,461.2 831.3,461.2 831.6,461.2 C832.0,461.1 831.8,461.1 832.1,461.1 C832.5,461.1 832.3,461.1 832.7,461.1 C833.0,461.1 832.9,461.1 833.2,461.2 C833.5,461.2 833.4,461.2 833.7,461.3 C834.0,461.4 833.9,461.3 834.1,461.5 C834.4,461.6 834.3,461.5 834.5,461.7 C834.7,461.9 834.6,461.8 834.7,462.0 C834.9,462.1 834.8,462.0 834.9,462.2 C835.0,462.4 835.0,462.4 835.0,462.5"/>
<path d="M738.4,404.8 L751.3,411.1"/>
<path d="M740.7,400.2 L753.5,406.6"/>
<ellipse cx="752.4" cy="408.9" rx="1.4" ry="2.5" transform="rotate(26.5 752.4 408.9)"/>
<path d="M738.4,404.8 C738.4,404.7 738.3,404.7 738.2,404.6 C738.1,404.4 738.1,404.5 738.0,404.3 C737.9,404.1 738.0,404.2 737.9,403.9 C737.9,403.7 737.9,403.8 737.9,403.5 C737.9,403.2 737.9,403.4 737.9,403.1 C737.9,402.8 737.9,402.9 738.0,402.6 C738.1,402.3 738.0,402.4 738.2,402.1 C738.3,401.8 738.2,401.9 738.4,401.6 C738.6,401.3 738.5,401.4 738.7,401.2 C738.9,400.9 738.8,401.0 739.0,400.8 C739.3,400.6 739.1,400.7 739.4,400.5 C739.6,400.3 739.5,400.4 739.7,400.3 C740.0,400.2 739.9,400.2 740.1,400.1 C740.3,400.1 740.2,400.1 740.4,400.1 C740.6,400.1 740.6,400.2 740.7,400.2"/>
<path d="M806.7,408.1 L802.1,410.3 L794.0,406.3 L799.9,403.4"/>
<path d="M799.6,447.9 L808.4,452.3"/>
<path d="M801.8,443.4 L810.7,447.8"/>
<ellipse cx="809.5" cy="450.1" rx="1.4" ry="2.5" transform="rotate(26.5 809.5 450.1)"/>
<path d="M799.6,447.9 C799.5,447.9 799.5,447.9 799.3,447.7 C799.2,447.6 799.3,447.7 799.2,447.5 C799.1,447.3 799.1,447.4 799.0,447.1 C799.0,446.9 799.0,447.0 799.0,446.7 C799.0,446.4 799.0,446.6 799.0,446.2 C799.1,445.9 799.1,446.1 799.2,445.8 C799.2,445.4 799.2,445.6 799.3,445.3 C799.5,444.9 799.4,445.1 799.6,444.8 C799.7,444.5 799.6,444.6 799.9,444.4 C800.1,444.1 800.0,444.2 800.2,444.0 C800.4,443.8 800.3,443.8 800.5,443.7 C800.8,443.5 800.6,443.6 800.9,443.5 C801.1,443.3 801.0,443.4 801.2,443.3 C801.4,443.3 801.3,443.3 801.5,443.3 C801.8,443.3 801.7,443.4 801.8,443.4"/>
<path d="M882.8,394.3 L891.1,398.4"/>
<path d="M886.0,387.7 L894.4,391.9"/>
<ellipse cx="892.8" cy="395.2" rx="2.0" ry="3.7" transform="rotate(26.5 892.8 395.2)"/>
<path d="M882.8,394.3 C882.7,394.2 882.6,394.2 882.4,394.0 C882.2,393.8 882.3,393.9 882.2,393.6 C882.0,393.3 882.1,393.5 882.0,393.1 C881.9,392.7 882.0,392.9 882.0,392.5 C882.0,392.1 881.9,392.3 882.0,391.8 C882.1,391.4 882.0,391.6 882.2,391.1 C882.3,390.7 882.2,390.9 882.4,390.4 C882.6,390.0 882.5,390.2 882.8,389.7 C883.0,389.3 882.9,389.5 883.2,389.1 C883.5,388.7 883.3,388.9 883.6,388.6 C884.0,388.2 883.8,388.4 884.1,388.1 C884.5,387.9 884.3,388.0 884.7,387.8 C885.0,387.6 884.8,387.7 885.2,387.6 C885.5,387.6 885.3,387.6 885.6,387.6 C885.9,387.6 885.9,387.7 886.0,387.7"/>
<path d="M900.8,425.3 L911.2,430.5 L911.2,423.2 L922.7,429.0"/>
<path d="M924.7,407.6 L932.8,403.6"/>
<path d="M921.4,401.0 L929.5,397.0"/>
<ellipse cx="931.2" cy="400.3" rx="2.1" ry="3.7" transform="rotate(-26.5 931.2 400.3)"/>
<path d="M924.7,407.6 C924.5,407.7 924.6,407.7 924.3,407.8 C924.0,407.8 924.1,407.8 923.8,407.7 C923.5,407.7 923.6,407.7 923.3,407.6 C922.9,407.4 923.1,407.5 922.8,407.2 C922.4,407.0 922.6,407.1 922.3,406.8 C921.9,406.5 922.1,406.6 921.8,406.2 C921.5,405.8 921.6,406.0 921.4,405.6 C921.1,405.2 921.2,405.4 921.0,404.9 C920.8,404.4 920.9,404.7 920.8,404.2 C920.6,403.7 920.7,404.0 920.6,403.5 C920.5,403.0 920.6,403.2 920.6,402.8 C920.6,402.4 920.5,402.6 920.6,402.2 C920.7,401.8 920.6,402.0 920.8,401.7 C920.9,401.4 920.8,401.5 921.0,401.3 C921.2,401.1 921.3,401.1 921.4,401.0"/>
<path d="M927.1,396.9 L935.4,401.1"/>
<path d="M928.7,393.7 L937.1,397.9"/>
<ellipse cx="936.3" cy="399.5" rx="1.0" ry="1.8" transform="rotate(26.5 936.3 399.5)"/>
<path d="M927.1,396.9 C927.0,396.9 927.0,396.9 926.9,396.8 C926.8,396.7 926.8,396.8 926.8,396.6 C926.7,396.5 926.7,396.5 926.7,396.4 C926.7,396.2 926.7,396.3 926.7,396.1 C926.7,395.9 926.7,396.0 926.7,395.7 C926.7,395.5 926.7,395.6 926.8,395.4 C926.8,395.1 926.8,395.3 926.9,395.0 C927.0,394.8 926.9,394.9 927.1,394.7 C927.2,394.5 927.1,394.6 927.3,394.4 C927.4,394.2 927.3,394.3 927.5,394.1 C927.7,393.9 927.6,394.0 927.8,393.9 C927.9,393.8 927.8,393.8 928.0,393.7 C928.2,393.6 928.1,393.7 928.3,393.6 C928.4,393.6 928.3,393.6 928.5,393.6 C928.6,393.6 928.6,393.7 928.7,393.7"/>
<path d="M897.6,444.1 L897.6,436.0 L888.8,431.6"/>
<path d="M922.5,420.3 L936.3,427.2 L936.3,436.6 L949.4,443.2"/>
<ellipse cx="908.1" cy="391.5" rx="3.8" ry="4.8" transform="rotate(10 908.1 391.5)"/>
<ellipse cx="907.8" cy="391.5" rx="2.1" ry="2.6"/>
<path d="M911.9,389.2 L915.9,387.2 L926.0,392.2 L922.0,394.2"/>
<ellipse cx="882.8" cy="432.4" rx="4.0" ry="4.2" transform="rotate(10 882.8 432.4)"/>
<ellipse cx="882.5" cy="432.4" rx="2.2" ry="2.3"/>
<path d="M937.5,428.1 L937.5,432.6 L928.3,437.2 L928.3,443.1"/>
<ellipse cx="934.3" cy="414.1" rx="4.3" ry="5.3"/>
<ellipse cx="934.0" cy="414.1" rx="2.4" ry="2.9"/>
<path d="M915.8,389.6 L922.3,392.8 L926.0,394.7 L931.0,397.2"/>
<path d="M741.5,388.6 L741.5,397.0 L749.6,401.1"/>
<ellipse cx="747.2" cy="364.8" rx="5.8" ry="6.1"/>
<ellipse cx="746.9" cy="364.8" rx="3.2" ry="3.4"/>
<ellipse cx="738.7" cy="387.2" rx="2.8" ry="3.5" transform="rotate(-15 738.7 387.2)"/>
<ellipse cx="738.4" cy="387.2" rx="1.5" ry="1.9"/>
<path d="M738.6,351.3 L738.6,340.0 L738.6,346.1 L749.6,351.6"/>
<path d="M744.5,357.9 L730.3,364.9 L735.6,362.3 L728.1,366.0"/>
<path d="M743.0,360.3 L753.1,365.3"/>
<path d="M745.9,354.6 L755.9,359.6"/>
<ellipse cx="754.5" cy="362.5" rx="1.8" ry="3.2" transform="rotate(26.5 754.5 362.5)"/>
<path d="M743.0,360.3 C742.9,360.3 742.9,360.3 742.7,360.1 C742.5,359.9 742.6,360.0 742.5,359.8 C742.4,359.5 742.4,359.6 742.3,359.3 C742.3,359.0 742.3,359.2 742.3,358.8 C742.3,358.4 742.3,358.6 742.3,358.2 C742.4,357.8 742.4,358.0 742.5,357.6 C742.6,357.2 742.5,357.4 742.7,357.0 C742.9,356.6 742.8,356.8 743.0,356.4 C743.2,356.0 743.1,356.2 743.4,355.8 C743.6,355.5 743.5,355.6 743.8,355.3 C744.1,355.1 743.9,355.2 744.2,355.0 C744.5,354.7 744.4,354.8 744.7,354.7 C745.0,354.5 744.8,354.6 745.1,354.5 C745.4,354.5 745.3,354.5 745.5,354.5 C745.8,354.5 745.8,354.6 745.9,354.6"/>
<path d="M735.8,362.6 L751.4,354.8"/>
<path d="M734.1,359.3 L749.8,351.5"/>
<ellipse cx="750.6" cy="353.2" rx="1.0" ry="1.9" transform="rotate(-26.5 750.6 353.2)"/>
<path d="M735.8,362.6 C735.7,362.6 735.7,362.7 735.5,362.7 C735.4,362.7 735.5,362.7 735.3,362.7 C735.1,362.6 735.2,362.7 735.1,362.6 C734.9,362.5 735.0,362.5 734.8,362.4 C734.6,362.3 734.7,362.4 734.5,362.2 C734.4,362.0 734.5,362.1 734.3,361.9 C734.2,361.7 734.2,361.8 734.1,361.6 C734.0,361.4 734.0,361.5 733.9,361.3 C733.8,361.0 733.9,361.1 733.8,360.9 C733.7,360.7 733.7,360.8 733.7,360.5 C733.7,360.3 733.7,360.4 733.7,360.2 C733.7,360.0 733.7,360.1 733.7,359.9 C733.7,359.7 733.7,359.8 733.8,359.6 C733.9,359.5 733.8,359.5 733.9,359.4 C734.0,359.3 734.0,359.3 734.1,359.3"/>
<ellipse cx="747.1" cy="396.1" rx="2.7" ry="3.3" transform="rotate(10 747.1 396.1)"/>
<ellipse cx="746.8" cy="396.1" rx="1.5" ry="1.8"/>
<path d="M737.0,352.0 L754.0,359.0"/>
<path d="M737.0,369.0 C738.7,370.0 744.3,372.0 747.0,375.0 C749.7,378.0 752.0,385.0 753.0,387.0"/>
<path d="M737.0,381.0 C738.3,382.0 743.3,383.7 745.0,387.0 C746.7,390.3 746.7,398.7 747.0,401.0"/>
<path d="M754.0,352.0 L752.0,360.0 L757.0,359.0 L756.0,351.0 Z" fill="#fff"/>
<path d="M738.0,347.0 C738.3,347.3 739.8,347.7 740.0,349.0 C740.2,350.3 739.2,354.0 739.0,355.0" stroke-width="2"/>
<path d="M785.0,350.0 C786.3,349.3 790.0,346.2 793.0,346.0 C796.0,345.8 799.3,346.5 803.0,349.0 C806.7,351.5 812.0,355.0 815.0,361.0 C818.0,367.0 819.7,379.0 821.0,385.0 C822.3,391.0 823.7,393.8 823.0,397.0 C822.3,400.2 819.7,403.0 817.0,404.0 C814.3,405.0 809.5,404.5 807.0,403.0 C804.5,401.5 803.0,399.0 802.0,395.0 C801.0,391.0 802.2,383.3 801.0,379.0 C799.8,374.7 797.7,371.3 795.0,369.0 C792.3,366.7 786.7,365.7 785.0,365.0" fill="#fff"/>
<path d="M795.0,346.0 C798.3,347.5 809.3,351.8 815.0,355.0 C820.7,358.2 825.0,361.8 829.0,365.0 C833.0,368.2 837.3,372.5 839.0,374.0"/>
<path d="M793.0,346.0 C793.3,345.9 794.3,345.3 795.0,345.4 C795.7,345.5 796.7,346.4 797.0,346.6"/>
<path d="M803.0,373.0 L807.4,378.0 L805.4,385.4 L801.0,380.0 Z"/>
<ellipse cx="793.0" cy="360.0" rx="4.8" ry="5.6" fill="#fff"/>
<ellipse cx="792.0" cy="360.6" rx="2.8" ry="3.4"/>
<ellipse cx="795.0" cy="359.0" rx="6.0" ry="6.8"/>
<ellipse cx="811.0" cy="393.0" rx="5.4" ry="6.0" fill="#fff"/>
<ellipse cx="810.6" cy="393.4" rx="2.4" ry="2.8"/>
<path d="M809.0,393.4 L812.6,393.4"/>
<path d="M810.6,391.6 L810.6,395.4"/>
<path d="M802.0,395.0 C800.8,396.0 797.5,400.0 795.0,401.0 C792.5,402.0 788.3,401.0 787.0,401.0"/>
<ellipse cx="792.0" cy="393.0" rx="5.2" ry="5.6" fill="#fff"/>
<ellipse cx="791.0" cy="393.4" rx="3.0" ry="3.4"/>
<path d="M789.4,393.0 C789.7,392.8 790.8,391.7 791.4,391.8 C792.0,391.9 793.0,392.9 793.0,393.4 C793.0,393.9 791.7,394.7 791.4,395.0"/>
<path d="M783.0,387.0 C783.7,386.7 785.0,384.9 787.0,385.0 C789.0,385.1 793.7,387.0 795.0,387.4"/>
<path d="M775.0,385.0 L783.0,382.0 L801.0,385.0"/>
<path d="M762.0,365.0 L739.0,415.0"/>
<path d="M786.0,372.0 L763.0,423.0"/>
<ellipse cx="748.0" cy="423.0" rx="11.0" ry="3.8" transform="rotate(22 748.0 423.0)" fill="#fff" stroke-width="1.35"/>
<ellipse cx="751.2" cy="416.1" rx="11.2" ry="3.8" transform="rotate(22 751.2 416.1)" fill="#fff" stroke-width="1.35"/>
<ellipse cx="754.5" cy="409.2" rx="11.4" ry="3.8" transform="rotate(22 754.5 409.2)" fill="#fff" stroke-width="1.35"/>
<ellipse cx="757.8" cy="402.4" rx="11.6" ry="3.8" transform="rotate(22 757.8 402.4)" fill="#fff" stroke-width="1.35"/>
<ellipse cx="761.0" cy="395.5" rx="11.8" ry="3.8" transform="rotate(22 761.0 395.5)" fill="#fff" stroke-width="1.35"/>
<ellipse cx="764.2" cy="388.6" rx="12.0" ry="3.8" transform="rotate(22 764.2 388.6)" fill="#fff" stroke-width="1.35"/>
<ellipse cx="767.5" cy="381.8" rx="12.2" ry="3.8" transform="rotate(22 767.5 381.8)" fill="#fff" stroke-width="1.35"/>
<ellipse cx="770.8" cy="374.9" rx="12.4" ry="3.8" transform="rotate(22 770.8 374.9)" fill="#fff" stroke-width="1.35"/>
<ellipse cx="774.0" cy="368.0" rx="12.6" ry="3.8" transform="rotate(22 774.0 368.0)" fill="#fff" stroke-width="1.35"/>
<path d="M763.0,363.0 C762.7,364.0 760.7,367.2 761.0,369.0 C761.3,370.8 762.7,372.8 765.0,374.0 C767.3,375.2 771.8,376.0 775.0,376.0 C778.2,376.0 782.2,375.2 784.0,374.0 C785.8,372.8 785.7,369.8 786.0,369.0" fill="#fff"/>
<ellipse cx="777.0" cy="357.0" rx="9.2" ry="10.0" fill="#fff"/>
<ellipse cx="774.4" cy="357.6" rx="6.0" ry="6.8"/>
<path d="M771.6,357.6 L777.4,357.6" stroke-width="1.6"/>
<path d="M774.4,354.6 L774.4,361.0" stroke-width="1.6"/>
<ellipse cx="786.0" cy="356.0" rx="4.0" ry="6.0"/>
<ellipse cx="749.0" cy="419.0" rx="7.0" ry="5.6" fill="#fff"/>
<ellipse cx="749.0" cy="419.0" rx="3.6" ry="2.8"/>
<ellipse cx="749.0" cy="419.0" rx="1.4" ry="1.2"/>
<path d="M739.0,411.0 C739.7,410.5 741.3,408.3 743.0,408.0 C744.7,407.7 748.0,408.8 749.0,409.0"/>
<path d="M755.0,415.0 L781.0,411.0 L783.0,417.0 L757.0,422.0" fill="#fff"/>
<path d="M763.0,412.0 L765.0,419.0"/>
<path d="M737.0,401.0 C738.0,401.7 741.7,403.0 743.0,405.0 C744.3,407.0 744.7,411.7 745.0,413.0"/>
<path d="M782.0,412.0 L829.0,424.0 L829.0,431.0 L782.0,419.0 Z" fill="#fff"/>
<path d="M784.0,407.0 L831.0,419.0 L829.0,424.0"/>
<path d="M782.0,412.0 L784.0,407.0"/>
<rect x="795.0" y="409.4" width="12.0" height="2.8" rx="1.2" transform="rotate(14 795.0 409.4)"/>
<rect x="813.0" y="414.0" width="10.0" height="2.8" rx="1.2" transform="rotate(14 813.0 414.0)"/>
<path d="M775.0,401.0 L801.0,407.0"/>
<path d="M801.0,404.0 L819.0,408.0 L831.0,405.0"/>
<path d="M819.0,408.0 L819.0,415.0"/>
<ellipse cx="786.0" cy="434.0" rx="8.0" ry="8.6" fill="#fff"/>
<ellipse cx="786.0" cy="434.0" rx="6.0" ry="6.4"/>
<ellipse cx="785.4" cy="434.0" rx="3.6" ry="4.0"/>
<path d="M784.0,434.0 L786.8,434.0"/>
<path d="M785.4,432.4 L785.4,435.6"/>
<ellipse cx="803.0" cy="442.0" rx="7.6" ry="8.2" fill="#fff"/>
<ellipse cx="803.0" cy="442.0" rx="5.6" ry="6.0"/>
<ellipse cx="802.4" cy="442.0" rx="3.2" ry="3.6"/>
<path d="M801.0,442.0 L803.8,442.0"/>
<path d="M802.4,440.4 L802.4,443.6"/>
<path d="M778.0,431.0 C777.5,431.7 775.0,433.3 775.0,435.0 C775.0,436.7 777.5,440.0 778.0,441.0"/>
<path d="M755.0,423.0 L779.0,429.0"/>
<path d="M759.0,429.0 L778.0,435.0"/>
<path d="M740.0,426.0 L849.0,469.4 L844.0,483.0 L737.0,439.4 L737.0,428.6 Z" fill="#fff" stroke="none"/>
<path d="M737.0,428.6 L847.0,473.0"/>
<path d="M737.0,435.0 L843.0,478.0"/>
<path d="M737.0,439.0 L841.0,482.0"/>
<path d="M740.0,426.0 L849.0,469.4"/>
<path d="M737.0,447.0 C738.7,447.3 744.0,447.7 747.0,449.0 C750.0,450.3 753.7,454.0 755.0,455.0"/>
<path d="M737.0,457.0 C738.3,457.2 742.3,457.0 745.0,458.0 C747.7,459.0 751.7,462.2 753.0,463.0"/>
<path d="M754.0,449.0 L755.0,457.0 L752.0,455.0"/>
<path d="M811.0,453.0 C812.7,452.3 817.0,449.0 821.0,449.0 C825.0,449.0 830.7,450.7 835.0,453.0 C839.3,455.3 845.0,461.3 847.0,463.0" fill="none"/>
<path d="M815.0,459.0 C816.7,458.7 821.0,456.3 825.0,457.0 C829.0,457.7 835.5,461.0 839.0,463.0 C842.5,465.0 844.8,468.0 846.0,469.0"/>
<ellipse cx="826.0" cy="455.0" rx="3.2" ry="2.0" transform="rotate(20 826.0 455.0)"/>
<path d="M855.0,401.0 L895.0,387.4"/>
<path d="M857.0,405.0 L895.0,393.0"/>
<path d="M863.0,395.0 L875.0,391.0 L879.0,401.0"/>
<path d="M873.0,397.0 L887.0,393.0 L889.0,399.0 L875.0,404.0 Z"/>
<path d="M866.0,375.0 L895.0,365.0"/>
<path d="M867.0,380.0 L895.0,370.6"/>
<path d="M875.0,383.0 L895.0,377.0"/>
<path d="M873.0,389.0 L895.0,383.0"/>
<rect x="878.0" y="397.0" width="10.0" height="3.6" rx="0.4" transform="rotate(-18 878.0 397.0)" fill="#a5a5a8"/>
<path d="M863.0,415.0 C864.3,414.3 868.3,411.0 871.0,411.0 C873.7,411.0 877.3,413.0 879.0,415.0 C880.7,417.0 880.7,421.7 881.0,423.0"/>
<path d="M865.0,419.0 C866.3,419.3 870.7,419.3 873.0,421.0 C875.3,422.7 878.7,426.0 879.0,429.0 C879.3,432.0 875.7,437.3 875.0,439.0"/>
<ellipse cx="884.0" cy="427.0" rx="6.0" ry="4.4" transform="rotate(-20 884.0 427.0)" fill="#fff"/>
<ellipse cx="875.0" cy="423.0" rx="3.6" ry="5.0" fill="#fff"/>
<path d="M863.0,407.0 L895.0,401.0"/>
<path d="M887.0,415.0 L895.0,413.0"/>
<path d="M882.0,439.0 C882.8,438.0 884.8,434.3 887.0,433.0 C889.2,431.7 893.7,431.3 895.0,431.0"/>
<path d="M863.0,429.0 L875.0,435.0 L875.0,447.0"/>
<path d="M889.0,419.0 C889.7,419.7 892.0,421.3 893.0,423.0 C894.0,424.7 894.7,428.0 895.0,429.0"/>
<rect x="850.0" y="374.0" width="15.0" height="14.0" rx="3.6" transform="rotate(-12 850.0 374.0)" fill="#fff"/>
<ellipse cx="855.0" cy="381.4" rx="2.8" ry="6.6" transform="rotate(-10 855.0 381.4)"/>
<ellipse cx="860.6" cy="380.0" rx="2.8" ry="6.6" transform="rotate(-10 860.6 380.0)"/>

<path d="M816.4,375.0 C816.2,374.0 813.9,370.7 815.0,369.0 C816.1,367.3 819.7,366.0 823.0,365.0 C826.3,364.0 833.0,363.3 835.0,363.0" stroke-width="1.2"/>
<path d="M855.0,373.0 L873.0,367.0 L886.0,365.0"/>
<path d="M857.0,384.0 L885.0,376.0 L915.0,373.0"/>
<path d="M886.0,365.0 L921.0,360.6 L943.0,375.0"/>
<path d="M895.0,368.6 L931.0,382.0"/>
<path d="M921.0,383.0 L939.0,380.0 L977.0,386.0"/>
<path d="M935.0,390.0 L977.0,389.0"/>
<path d="M939.0,397.0 L943.0,404.0 L977.0,404.0"/>
<path d="M905.0,406.0 L925.0,401.0 L943.0,404.0"/>
<path d="M927.0,413.0 L977.0,411.0"/>
<path d="M927.0,413.0 C926.3,414.0 923.3,417.0 923.0,419.0 C922.7,421.0 924.7,424.0 925.0,425.0"/>
<path d="M959.0,412.0 L961.0,429.0 L977.0,427.0"/>
<path d="M961.0,417.0 L977.0,415.0"/>
<path d="M955.0,395.0 L977.0,395.0"/>
<path d="M967.0,421.0 L977.0,420.0"/>
<path d="M933.0,415.0 C934.3,415.7 938.3,416.7 941.0,419.0 C943.7,421.3 947.3,425.7 949.0,429.0 C950.7,432.3 950.7,437.3 951.0,439.0"/>
<path d="M939.0,414.0 C940.7,414.8 946.2,416.5 949.0,419.0 C951.8,421.5 954.5,425.7 956.0,429.0 C957.5,432.3 957.7,437.3 958.0,439.0"/>
<path d="M865.0,379.4 L886.0,365.0 L913.4,378.6 L939.0,397.4 L915.0,404.0 L892.0,391.0 Z" fill="#fff"/>
<path d="M885.0,387.4 L913.4,380.2"/>
<path d="M888.0,390.4 L916.0,383.0"/>
<path d="M867.0,381.4 L891.0,393.4 L904.0,405.4 L915.0,404.0"/>
<path d="M892.0,391.0 L891.0,393.4"/>
<path d="M915.0,373.0 L939.0,397.4 L951.0,401.0"/>
<path d="M930.6,353.4 L943.0,346.6 L949.0,346.6 L967.0,361.0 L967.0,367.0"/>
<path d="M934.6,355.8 L944.0,350.2 L948.0,350.6 L963.0,363.4"/>
<path d="M964.0,343.0 L968.0,359.4 L972.0,343.0"/>
<path d="M975.0,343.0 L977.0,369.4 L968.0,371.4"/>
<path d="M941.0,357.4 C941.7,357.0 943.7,354.7 945.0,355.0 C946.3,355.3 948.5,357.3 949.0,359.0 C949.5,360.7 948.2,364.0 948.0,365.0"/>
<path d="M930.6,353.4 L930.6,359.4 L939.0,363.4"/>
<path d="M900.6,351.0 L917.0,344.0 L939.0,375.0 L922.0,382.6 Z" fill="#fff" stroke="none"/>
<path d="M900.6,351.0 C901.7,353.0 905.0,359.2 907.4,363.0 C909.8,366.8 912.6,370.7 915.0,374.0 C917.4,377.3 920.8,381.2 922.0,382.6"/>
<path d="M903.9,349.6 C905.1,351.6 908.9,357.6 911.4,361.4 C913.9,365.2 916.5,369.2 918.8,372.5 C921.1,375.8 924.3,379.6 925.4,381.1"/>
<path d="M907.2,348.2 C908.5,350.1 912.8,356.0 915.4,359.8 C918.0,363.6 920.4,367.7 922.6,371.0 C924.8,374.3 927.8,378.1 928.8,379.6"/>
<path d="M910.4,346.8 C911.9,348.7 916.7,354.4 919.4,358.2 C922.1,362.0 924.3,366.2 926.4,369.5 C928.5,372.8 931.2,376.6 932.2,378.0"/>
<path d="M913.7,345.4 C915.3,347.3 920.7,352.8 923.4,356.6 C926.1,360.4 928.2,364.7 930.2,368.0 C932.2,371.3 934.7,375.1 935.6,376.5"/>
<path d="M917.0,344.0 C918.7,345.8 924.6,351.2 927.4,355.0 C930.2,358.8 932.1,363.2 934.0,366.5 C935.9,369.8 938.2,373.6 939.0,375.0"/>
<path d="M900.6,351.0 L917.0,344.0"/>
<path d="M922.0,382.6 L939.0,375.0"/>
<path d="M922.0,382.6 L924.0,387.4 L936.0,385.0 L939.0,375.0"/>
<path d="M894.0,354.0 L900.6,351.0 L907.4,354.4 L907.4,360.6 L901.0,363.0 L894.0,360.0 Z" fill="#fff"/>
<path d="M894.0,354.0 L901.0,357.0 L907.4,354.4"/>
<path d="M901.0,357.0 L901.0,363.0"/>
<path d="M949.0,370.0 L955.0,367.0 L968.0,371.0 L968.0,375.0 L962.0,378.0 L949.0,374.0 Z" fill="#fff"/>
<path d="M949.0,370.0 L962.0,374.0 L968.0,371.0"/>
<path d="M962.0,374.0 L962.0,378.0"/>
<rect x="952.6" y="369.4" width="2.0" height="1.6" rx="0.0"/>
<rect x="955.8" y="370.4" width="2.0" height="1.6" rx="0.0"/>
<rect x="959.0" y="371.4" width="2.0" height="1.6" rx="0.0"/>
<path d="M890.0,343.0 L883.0,356.0"/>
<path d="M871.2,359.4 L871.2,365.0 L878.6,367.8 L886.0,365.0 L886.0,359.4" fill="#fff" stroke="none"/>
<path d="M871.2,359.4 L871.2,365.0"/>
<path d="M886.0,359.4 L886.0,365.0"/>
<path d="M871.2,365.0 C872.4,365.5 876.1,368.0 878.6,368.0 C881.1,368.0 884.8,365.5 886.0,365.0"/>
<ellipse cx="878.6" cy="359.4" rx="7.4" ry="3.0" fill="#fff"/>
<ellipse cx="878.6" cy="359.4" rx="3.8" ry="1.5"/>
<path d="M876.6,359.4 L880.6,359.4"/>
<path d="M878.6,358.6 L878.6,360.2"/>
<path d="M940.6,387.4 L940.6,401.8 L948.0,404.6 L955.4,401.8 L955.4,387.4" fill="#fff" stroke="none"/>
<path d="M940.6,387.4 L940.6,401.8"/>
<path d="M955.4,387.4 L955.4,401.8"/>
<path d="M940.6,401.8 C941.8,402.3 945.5,404.8 948.0,404.8 C950.5,404.8 954.2,402.3 955.4,401.8"/>
<ellipse cx="948.0" cy="387.4" rx="7.4" ry="3.0" fill="#fff"/>
<ellipse cx="948.0" cy="387.4" rx="3.8" ry="1.5"/>
<path d="M946.0,387.4 L950.0,387.4"/>
<path d="M948.0,386.6 L948.0,388.2"/>
<path d="M861.0,385.0 L865.0,381.4 L891.0,393.4 L905.0,405.4 L903.0,411.0 L879.0,405.0" fill="#fff"/>
<path d="M875.0,399.4 L889.0,394.4 L897.4,397.4 L883.0,403.4 Z" fill="#c4c4c6"/>
<path d="M878.6,399.0 L888.0,395.8" stroke-width="1.6"/>
<path d="M882.0,401.0 L892.0,397.4" stroke-width="1.6"/>
<path d="M861.0,385.0 C860.7,386.7 858.7,391.7 859.0,395.0 C859.3,398.3 862.3,403.3 863.0,405.0"/>
<path d="M879.0,405.0 L877.0,415.0 L891.0,421.0"/>
<path d="M903.0,411.0 L905.0,419.0 L891.0,421.0"/>
<path d="M891.0,409.0 C891.7,408.7 893.8,406.7 895.0,407.0 C896.2,407.3 897.8,409.3 898.0,411.0 C898.2,412.7 896.3,416.0 896.0,417.0"/>
<path d="M885.0,411.0 C885.8,411.7 889.3,413.3 890.0,415.0 C890.7,416.7 889.2,420.0 889.0,421.0"/>
<path d="M906.0,408.0 L923.0,404.0 L925.0,419.0 L909.0,423.0 Z" fill="#fff"/>
<path d="M910.0,411.0 L910.0,417.0"/>
<path d="M914.0,410.0 L914.0,416.0"/>
<path d="M918.0,409.0 L918.0,415.0"/>
<path d="M906.0,408.0 L907.4,405.0 L924.0,401.0 L923.0,404.0"/>
<path d="M855.0,415.0 L867.0,419.0 L877.0,421.0"/>
<path d="M855.0,423.0 L865.0,425.0 L875.0,431.0"/>
<ellipse cx="879.4" cy="426.0" rx="4.4" ry="6.0" transform="rotate(-30 879.4 426.0)" fill="#fff"/>
<ellipse cx="879.4" cy="426.0" rx="2.0" ry="2.8" transform="rotate(-30 879.4 426.0)"/>
<ellipse cx="862.0" cy="405.0" rx="4.0" ry="2.8" fill="#fff"/>
<ellipse cx="867.4" cy="424.0" rx="2.8" ry="4.0" fill="#fff"/>
<path d="M881.0,431.0 L901.0,439.0"/>
<path d="M885.0,425.0 L903.0,433.0"/>
<ellipse cx="902.0" cy="436.0" rx="2.0" ry="3.6" transform="rotate(-20 902.0 436.0)" fill="#fff"/>
<rect x="874.0" y="434.0" width="4.4" height="9.0" rx="0.6" fill="#fff"/>
<rect x="886.0" y="435.0" width="4.4" height="9.0" rx="0.6" fill="#fff"/>
<path d="M855.0,439.0 C856.0,438.3 859.0,435.0 861.0,435.0 C863.0,435.0 866.0,438.3 867.0,439.0"/>
<path d="M855.0,429.0 L863.0,429.0"/>
<path d="M867.0,411.0 C868.0,410.7 871.3,408.7 873.0,409.0 C874.7,409.3 876.7,411.3 877.0,413.0 C877.3,414.7 875.3,418.0 875.0,419.0"/>
<path d="M857.0,395.0 L864.0,393.0"/>
<path d="M858.0,399.0 L865.0,397.4"/>
<ellipse cx="870.0" cy="395.0" rx="3.2" ry="4.0" fill="#fff"/>
<ellipse cx="870.0" cy="395.0" rx="1.4" ry="1.8"/>
<path d="M873.0,393.0 L881.0,390.0"/>
<path d="M873.4,397.4 L882.0,394.6"/>
<ellipse cx="890.0" cy="426.0" rx="2.8" ry="3.6" fill="#fff"/>
<ellipse cx="890.0" cy="426.0" rx="1.2" ry="1.6"/>
<path d="M859.0,409.0 C860.0,409.5 863.7,410.3 865.0,412.0 C866.3,413.7 866.7,417.8 867.0,419.0"/>
<path d="M893.0,423.0 C893.8,422.7 896.5,420.7 898.0,421.0 C899.5,421.3 901.3,424.3 902.0,425.0"/>
<path d="M895.0,414.0 L904.0,417.0"/>
<path d="M861.0,431.0 L873.0,435.0"/>
<path d="M831.0,451.0 C831.7,452.2 832.3,455.5 835.0,458.0 C837.7,460.5 845.0,464.7 847.0,466.0" fill="none"/>
<path d="M815.0,454.0 L839.0,450.0 L847.0,460.0"/>
<path d="M825.0,460.0 C826.0,459.5 828.7,457.0 831.0,457.0 C833.3,457.0 837.7,459.5 839.0,460.0"/>
<path d="M847.0,466.0 L847.0,484.0"/>
<path d="M879.0,452.0 C878.3,454.3 876.0,460.7 875.0,466.0 C874.0,471.3 873.0,478.5 873.0,484.0 C873.0,489.5 874.7,496.5 875.0,499.0"/>
<path d="M887.0,450.0 C886.2,452.7 883.2,460.3 882.0,466.0 C880.8,471.7 880.0,478.5 880.0,484.0 C880.0,489.5 881.7,496.5 882.0,499.0"/>
<path d="M889.0,455.6 L894.2,454.0 L889.0,452.4 Q888.2,454.0 889.0,455.6" fill="#fff"/>
<path d="M890.0,472.6 L895.2,471.0 L890.0,469.4 Q889.2,471.0 890.0,472.6" fill="#fff"/>
<path d="M880.0,482.6 L885.2,481.0 L880.0,479.4 Q879.2,481.0 880.0,482.6" fill="#fff"/>
<path d="M887.0,499.6 L892.2,498.0 L887.0,496.4 Q886.2,498.0 887.0,499.6" fill="#fff"/>
<path d="M737.0,450.0 C738.3,450.0 742.3,449.2 745.0,450.0 C747.7,450.8 751.7,454.2 753.0,455.0"/>
<path d="M754.0,449.0 L755.0,455.0 L752.6,453.6"/>
<path d="M876.8,495.3 C877.3,491.2 876.8,491.0 878.3,483.0 C879.8,474.9 878.8,478.7 881.3,471.2 C883.9,463.7 882.4,467.1 885.8,460.5 C889.3,453.8 887.4,456.7 891.6,451.3 C895.8,445.9 893.6,448.2 898.3,444.2 C903.0,440.3 900.7,441.8 905.7,439.5 C910.7,437.2 908.3,437.9 913.4,437.3 C918.5,436.8 916.0,436.6 921.0,437.8 C925.9,439.1 923.6,438.1 928.1,441.0 C932.7,444.0 932.4,444.8 934.6,446.7" fill="none"/>
<path d="M891.0,493.3 C891.6,489.3 891.1,489.0 892.8,481.1 C894.6,473.2 893.5,476.9 896.2,469.6 C899.0,462.3 897.5,465.6 901.0,459.2 C904.6,452.9 902.7,455.6 907.0,450.6 C911.3,445.5 909.1,447.6 913.9,444.0 C918.6,440.4 916.3,441.7 921.3,439.8 C926.3,437.9 923.9,438.4 929.0,438.2 C934.0,438.0 931.6,437.7 936.5,439.3 C941.3,440.9 941.2,441.7 943.5,443.0" stroke-width="0.8"/>
<ellipse cx="940.6" cy="496.4" rx="34.6" ry="56.4" transform="rotate(6 940.6 496.4)" fill="#fff"/>
<ellipse cx="940.0" cy="496.4" rx="30.0" ry="50.0" transform="rotate(6 940.0 496.4)" stroke-width="0.8"/>
<ellipse cx="938.6" cy="495.0" rx="20.8" ry="34.0" transform="rotate(6 938.6 495.0)"/>
<ellipse cx="937.8" cy="494.4" rx="18.4" ry="30.4" transform="rotate(6 937.8 494.4)"/>
<ellipse cx="936.6" cy="493.2" rx="14.4" ry="23.6" transform="rotate(6 936.6 493.2)"/>
<ellipse cx="935.8" cy="492.4" rx="12.4" ry="20.0" transform="rotate(6 935.8 492.4)"/>
<path d="M935.0,479.0 L940.0,468.0 L946.0,471.0 L941.4,482.0" fill="#fff"/>
<path d="M927.0,491.0 L922.0,500.0 L929.0,504.0 L934.0,492.4" fill="#fff"/>
<path d="M938.0,488.0 L947.0,491.0 L946.0,498.0 L937.0,494.0" fill="#fff"/>
<path d="M936.7,485.6 L934.1,490.8 L929.0,490.8 L926.5,485.6 L929.0,480.4 L934.1,480.4 Z" fill="#fff"/>
<ellipse cx="932.6" cy="485.6" rx="2.2" ry="2.6"/>
<path d="M929.0,490.8 L927.2,490.4"/>
<path d="M926.5,485.6 L924.7,485.2"/>
<path d="M929.0,480.4 L927.2,480.0"/>
<path d="M907.8,436.7 L904.9,429.1 L904.2,437.3 Q906.1,437.9 907.8,436.7" fill="#fff"/>
<path d="M925.8,429.9 L923.7,421.2 L922.2,430.1 Q924.0,430.9 925.8,429.9" fill="#fff"/>
<path d="M944.8,434.4 L944.8,425.4 L941.2,433.6 Q942.8,434.9 944.8,434.4" fill="#fff"/>
<path d="M961.4,444.2 L964.6,437.5 L958.6,441.8 Q959.4,443.7 961.4,444.2" fill="#fff"/>
<path d="M972.6,460.7 L977.6,456.9 L971.4,457.3 Q971.2,459.3 972.6,460.7" fill="#fff"/>
<path d="M974.4,483.8 L979.8,482.5 L974.8,480.2 Q973.7,481.9 974.4,483.8" fill="#fff"/>
<path d="M905.6,448.2 L902.1,445.0 L902.4,449.8 Q904.4,449.8 905.6,448.2" fill="#fff"/>
<path d="M923.8,444.7 L921.2,440.3 L920.2,445.3 Q922.2,445.9 923.8,444.7" fill="#fff"/>
<path d="M888.9,453.4 L884.2,452.8 L887.1,456.6 Q888.8,455.4 888.9,453.4" fill="#fff"/>
<path d="M907.5,462.0 L903.1,461.6 L905.7,465.2 Q907.4,464.1 907.5,462.0" fill="#fff"/>
<path d="M890.9,469.2 L886.3,470.2 L890.3,472.8 Q891.5,471.2 890.9,469.2" fill="#fff"/>
<path d="M879.4,479.2 L874.6,481.0 L879.4,482.8 Q880.3,481.0 879.4,479.2" fill="#fff"/>
<path d="M897.5,485.6 L893.6,487.5 L897.7,489.2 Q898.5,487.4 897.5,485.6" fill="#fff"/>
<path d="M886.3,495.6 L882.3,498.2 L886.9,499.2 Q887.5,497.2 886.3,495.6" fill="#fff"/>
<rect x="940.6" y="446.4" width="19.6" height="3.0" rx="0.4" transform="rotate(24 940.6 446.4)" fill="#333" stroke="none"/>
<path d="M909.4,481.0 L912.0,481.6 L911.0,489.0 L908.6,488.4 Z"/>
<path d="M907.4,491.0 L910.0,491.6 L908.6,499.0"/>
<path d="M959.0,496.0 L964.0,497.4 L964.6,500.0"/>
<g transform="translate(845,383.3) rotate(-8.6) scale(1.15)" fill="#929295" stroke="#303037" stroke-width="1.15" stroke-linejoin="round" stroke-linecap="round">
<circle cx="0" cy="88.0" r="8" fill="#a6a6a9"/>
<path d="M1.5,81.0 v5 h3.5 v-4" fill="none" stroke-width="0.9"/>
<path d="M-10.0,72.8 V79.2 Q0,84.1 10.0,79.2 V72.8 Q0,76.8 -10.0,72.8 Z"/>
<path d="M-10.0,75.4 Q0,79.6 10.0,75.4" fill="none" stroke-width="1.3"/>
<path d="M-8.0,80.7 Q0,86.7 8.0,80.7" fill="none"/>
<path d="M-1.6,48.2 V73.3 M1.6,48.2 V73.3" fill="none" stroke-width="0.9"/>
<path d="M-7.5,27.2 V50.3 Q0,53.8 7.5,50.3 V27.2 Z"/>
<path d="M-9.7,30.8 Q0,36.0 9.7,30.2" fill="none" stroke-width="1.1500000000000001"/>
<path d="M-9.7,35.7 Q0,40.9 9.7,35.1" fill="none" stroke-width="1.1500000000000001"/>
<path d="M-9.7,40.6 Q0,45.8 9.7,40.0" fill="none" stroke-width="1.1500000000000001"/>
<path d="M-9.7,45.5 Q0,50.7 9.7,44.9" fill="none" stroke-width="1.1500000000000001"/>
<path d="M-9.7,50.2 Q0,56.2 9.7,49.6" fill="none" stroke-width="1.45"/>
<path d="M-9.7,50.2 Q-11.2,49.0 -8.5,48.2 M9.7,49.6 Q11.0,48.2 8.0,47.4" fill="none" stroke-width="0.8"/>
<path d="M-9.7,55.2 Q0,61.2 9.7,54.6" fill="none" stroke-width="1.45"/>
<path d="M-9.7,55.2 Q-11.2,54.0 -8.5,53.2 M9.7,54.6 Q11.0,53.2 8.0,52.4" fill="none" stroke-width="0.8"/>
<path d="M-9.7,60.1 Q0,66.1 9.7,59.5" fill="none" stroke-width="1.45"/>
<path d="M-9.7,60.1 Q-11.2,58.9 -8.5,58.1 M9.7,59.5 Q11.0,58.1 8.0,57.3" fill="none" stroke-width="0.8"/>
<path d="M-9.7,65.0 Q0,71.0 9.7,64.4" fill="none" stroke-width="1.45"/>
<path d="M-9.7,65.0 Q-11.2,63.8 -8.5,63.0 M9.7,64.4 Q11.0,63.0 8.0,62.2" fill="none" stroke-width="0.8"/>
<path d="M-9.7,68.8 Q0,74.8 9.7,68.2" fill="none" stroke-width="1.45"/>
<path d="M-9.7,68.8 Q-11.2,67.6 -8.5,66.8 M9.7,68.2 Q11.0,66.8 8.0,66.0" fill="none" stroke-width="0.8"/>
<path d="M-10.0,28.3 V49.2 M10.0,28.3 V49.2" fill="none" stroke-width="0.8"/>
<path d="M-10.0,23.0 V29.3 Q0,33.3 10.0,29.3 V23.0 Z"/>
<path d="M-10.0,25.2 Q0,29.2 10.0,25.2" fill="none"/>
<path d="M-10.0,9.5 V23.6 Q0,27.6 10.0,23.6 V9.5 Q10.0,7.0 0,7.0 Q-10.0,7.0 -10.0,9.5 Z"/>
<path d="M-10.0,9.5 Q0,13.5 10.0,9.5" fill="none"/>
<path d="M-5.5,6 V10.5 Q0,12.5 5.5,10.5 V6 Z"/>
<ellipse cx="0" cy="0" rx="7.9" ry="9" stroke-width="1.3"/>
<ellipse cx="-0.5" cy="-0.2" rx="5.8" ry="6.9" fill="none" stroke-width="0.7"/>
<ellipse cx="-0.9" cy="-0.1" rx="3.9" ry="5.2" />
</g>
<path d="M816.4,375.0 C815.0,368.0 823.0,364.6 835.0,363.0 L837.4,371.0 C829.0,371.4 823.0,373.0 821.4,378.0 Z" fill="#fff"/>
<path d="M816.0,374.6 C820.0,378.0 824.0,378.0 828.2,376.6 L826.0,370.6 L841.4,379.4 L829.8,393.8 L828.6,385.4 C823.0,386.6 817.4,383.0 816.0,374.6 Z" fill="#222226" stroke="#222226"/>
</g>
</svg>
<div class="num"><span>1</span></div>
<div class="t1">ダンパーの取外し</div>
<div class="t2">Remove shocks</div>
<div class="tri"></div>
<div class="n1">外側にひねるように取外す。</div>
<div class="n2">Twist outwards to detach.</div>
</body></html>
